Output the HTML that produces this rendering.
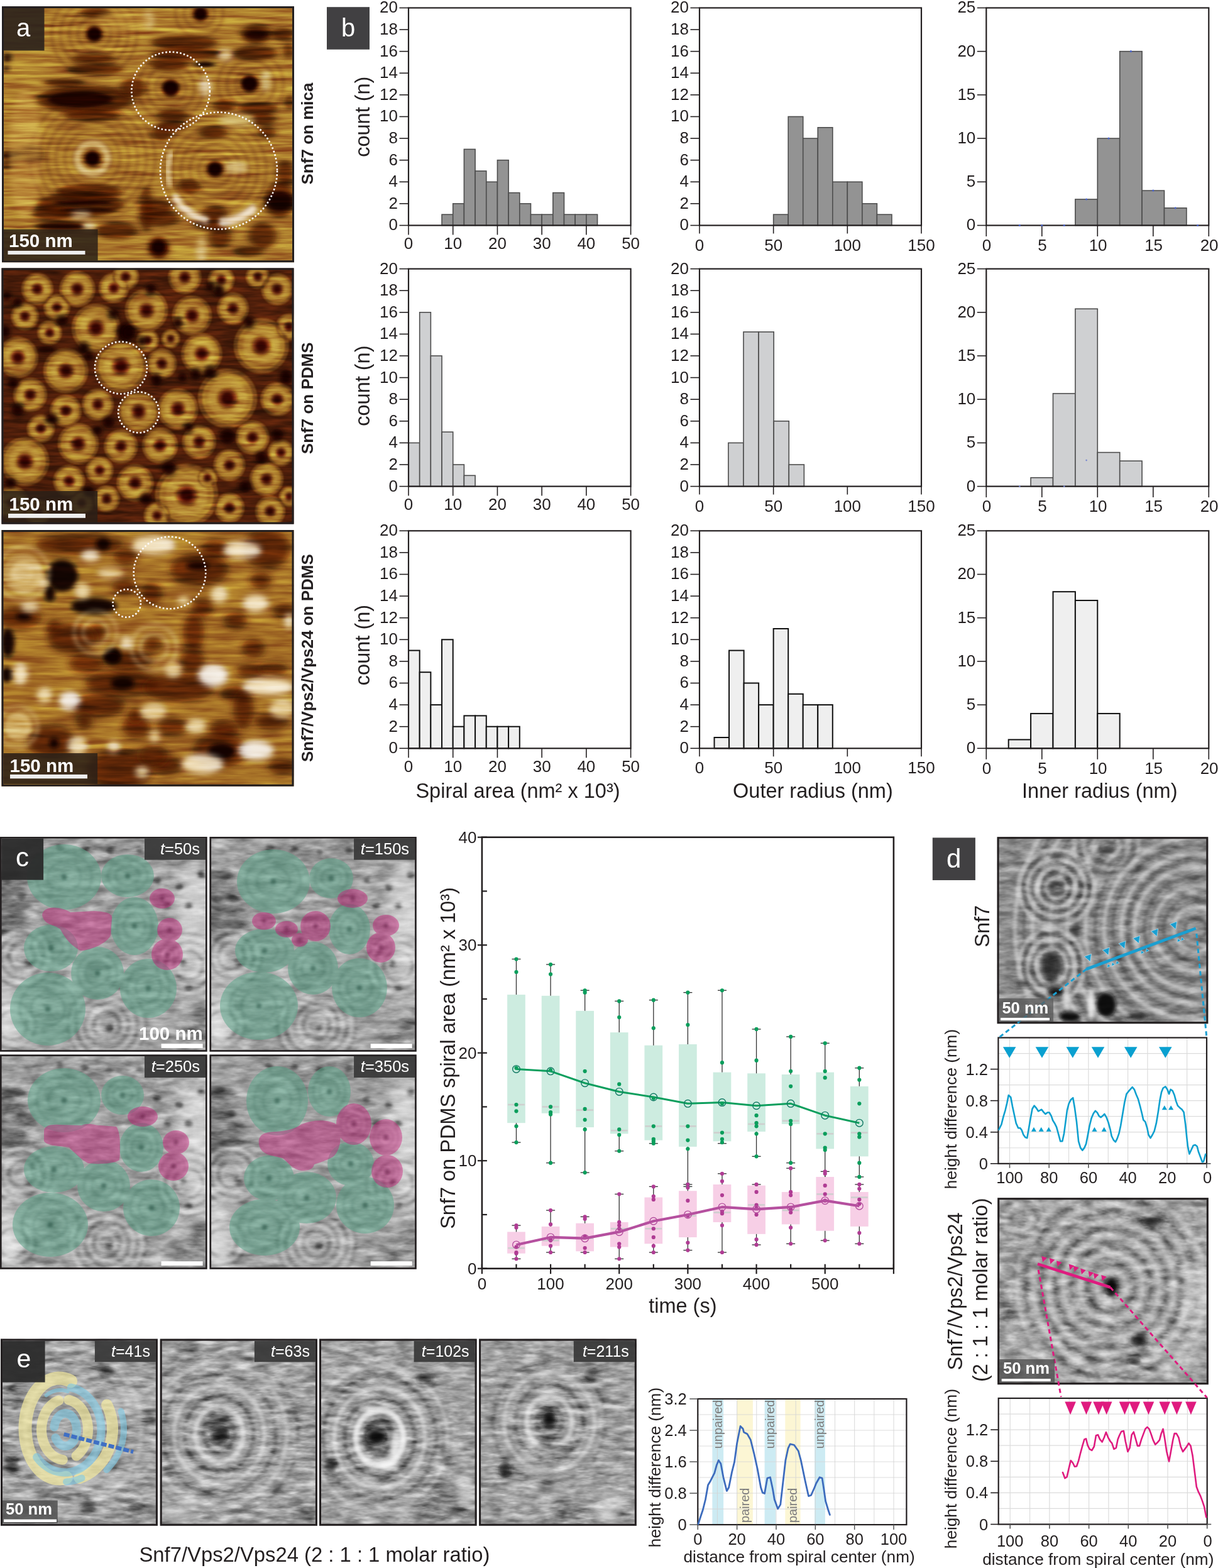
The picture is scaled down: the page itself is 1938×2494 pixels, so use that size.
<!DOCTYPE html>
<html><head><meta charset="utf-8"><title>Figure</title>
<style>html,body{margin:0;padding:0;background:#fff;} svg{display:block;} text{font-family:'Liberation Sans',Arial,sans-serif;}</style>
</head><body>
<svg width="1938" height="2494" viewBox="0 0 1938 2494">
<defs>
<clipPath id='clp1'><rect x='3.00' y='10.00' width='465.00' height='407.20'/></clipPath>
<filter id='b0' x='-60%' y='-60%' width='220%' height='220%'><feGaussianBlur stdDeviation='2.5'/></filter>
<filter id='b1' x='-60%' y='-60%' width='220%' height='220%'><feGaussianBlur stdDeviation='6 2.5'/></filter>
<filter id='b2' x='-60%' y='-60%' width='220%' height='220%'><feGaussianBlur stdDeviation='4 2'/></filter>
<filter id='b3' x='-60%' y='-60%' width='220%' height='220%'><feGaussianBlur stdDeviation='4'/></filter>
<filter id='b4' x='-60%' y='-60%' width='220%' height='220%'><feGaussianBlur stdDeviation='3'/></filter>
<filter id='b5' x='-60%' y='-60%' width='220%' height='220%'><feGaussianBlur stdDeviation='3.2'/></filter>
<filter id='b6' x='-60%' y='-60%' width='220%' height='220%'><feGaussianBlur stdDeviation='2.2'/></filter>
<filter id='nz0' x='0' y='0' width='100%' height='100%' color-interpolation-filters='sRGB'><feTurbulence type='fractalNoise' baseFrequency='0.012 0.16' numOctaves='3' seed='31'/><feColorMatrix type='matrix' values='0.33 0.33 0.33 0 0 0.33 0.33 0.33 0 0 0.33 0.33 0.33 0 0 0 0 0 0 1'/><feComponentTransfer><feFuncR type='linear' slope='2.4' intercept='-0.7'/><feFuncG type='linear' slope='2.4' intercept='-0.7'/><feFuncB type='linear' slope='2.4' intercept='-0.7'/></feComponentTransfer></filter>
<clipPath id='clp2'><rect x='2.50' y='426.40' width='465.00' height='407.20'/></clipPath>
<filter id='b7' x='-60%' y='-60%' width='220%' height='220%'><feGaussianBlur stdDeviation='1.8'/></filter>
<filter id='b8' x='-60%' y='-60%' width='220%' height='220%'><feGaussianBlur stdDeviation='2.0'/></filter>
<filter id='b9' x='-60%' y='-60%' width='220%' height='220%'><feGaussianBlur stdDeviation='1.6'/></filter>
<filter id='b10' x='-60%' y='-60%' width='220%' height='220%'><feGaussianBlur stdDeviation='2.4'/></filter>
<filter id='b11' x='-60%' y='-60%' width='220%' height='220%'><feGaussianBlur stdDeviation='3.5'/></filter>
<filter id='nz1' x='0' y='0' width='100%' height='100%' color-interpolation-filters='sRGB'><feTurbulence type='fractalNoise' baseFrequency='0.02 0.15' numOctaves='3' seed='37'/><feColorMatrix type='matrix' values='0.33 0.33 0.33 0 0 0.33 0.33 0.33 0 0 0.33 0.33 0.33 0 0 0 0 0 0 1'/><feComponentTransfer><feFuncR type='linear' slope='2.4' intercept='-0.7'/><feFuncG type='linear' slope='2.4' intercept='-0.7'/><feFuncB type='linear' slope='2.4' intercept='-0.7'/></feComponentTransfer></filter>
<clipPath id='clp3'><rect x='2.50' y='843.00' width='465.00' height='407.70'/></clipPath>
<filter id='b12' x='-60%' y='-60%' width='220%' height='220%'><feGaussianBlur stdDeviation='6'/></filter>
<filter id='b13' x='-60%' y='-60%' width='220%' height='220%'><feGaussianBlur stdDeviation='5'/></filter>
<filter id='nz2' x='0' y='0' width='100%' height='100%' color-interpolation-filters='sRGB'><feTurbulence type='fractalNoise' baseFrequency='0.012 0.12' numOctaves='3' seed='41'/><feColorMatrix type='matrix' values='0.33 0.33 0.33 0 0 0.33 0.33 0.33 0 0 0.33 0.33 0.33 0 0 0 0 0 0 1'/><feComponentTransfer><feFuncR type='linear' slope='2.2' intercept='-0.6000000000000001'/><feFuncG type='linear' slope='2.2' intercept='-0.6000000000000001'/><feFuncB type='linear' slope='2.2' intercept='-0.6000000000000001'/></feComponentTransfer></filter>
<clipPath id='clp4'><rect x='0.00' y='1331.00' width='329.60' height='341.70'/></clipPath>
<filter id='b14' x='-60%' y='-60%' width='220%' height='220%'><feGaussianBlur stdDeviation='10'/></filter>
<filter id='b15' x='-60%' y='-60%' width='220%' height='220%'><feGaussianBlur stdDeviation='6 2'/></filter>
<filter id='b16' x='-60%' y='-60%' width='220%' height='220%'><feGaussianBlur stdDeviation='12'/></filter>
<filter id='b17' x='-60%' y='-60%' width='220%' height='220%'><feGaussianBlur stdDeviation='8'/></filter>
<filter id='nz3' x='0' y='0' width='100%' height='100%' color-interpolation-filters='sRGB'><feTurbulence type='fractalNoise' baseFrequency='0.03 0.09' numOctaves='3' seed='90'/><feColorMatrix type='matrix' values='0.33 0.33 0.33 0 0 0.33 0.33 0.33 0 0 0.33 0.33 0.33 0 0 0 0 0 0 1'/><feComponentTransfer><feFuncR type='linear' slope='2.4' intercept='-0.7'/><feFuncG type='linear' slope='2.4' intercept='-0.7'/><feFuncB type='linear' slope='2.4' intercept='-0.7'/></feComponentTransfer></filter>
<clipPath id='clp5'><rect x='333.50' y='1331.00' width='329.20' height='341.70'/></clipPath>
<filter id='nz4' x='0' y='0' width='100%' height='100%' color-interpolation-filters='sRGB'><feTurbulence type='fractalNoise' baseFrequency='0.03 0.09' numOctaves='3' seed='67'/><feColorMatrix type='matrix' values='0.33 0.33 0.33 0 0 0.33 0.33 0.33 0 0 0.33 0.33 0.33 0 0 0 0 0 0 1'/><feComponentTransfer><feFuncR type='linear' slope='2.4' intercept='-0.7'/><feFuncG type='linear' slope='2.4' intercept='-0.7'/><feFuncB type='linear' slope='2.4' intercept='-0.7'/></feComponentTransfer></filter>
<clipPath id='clp6'><rect x='0.00' y='1677.40' width='329.60' height='341.30'/></clipPath>
<filter id='nz5' x='0' y='0' width='100%' height='100%' color-interpolation-filters='sRGB'><feTurbulence type='fractalNoise' baseFrequency='0.03 0.09' numOctaves='3' seed='80'/><feColorMatrix type='matrix' values='0.33 0.33 0.33 0 0 0.33 0.33 0.33 0 0 0.33 0.33 0.33 0 0 0 0 0 0 1'/><feComponentTransfer><feFuncR type='linear' slope='2.4' intercept='-0.7'/><feFuncG type='linear' slope='2.4' intercept='-0.7'/><feFuncB type='linear' slope='2.4' intercept='-0.7'/></feComponentTransfer></filter>
<clipPath id='clp7'><rect x='333.50' y='1677.40' width='329.20' height='341.30'/></clipPath>
<filter id='nz6' x='0' y='0' width='100%' height='100%' color-interpolation-filters='sRGB'><feTurbulence type='fractalNoise' baseFrequency='0.03 0.09' numOctaves='3' seed='57'/><feColorMatrix type='matrix' values='0.33 0.33 0.33 0 0 0.33 0.33 0.33 0 0 0.33 0.33 0.33 0 0 0 0 0 0 1'/><feComponentTransfer><feFuncR type='linear' slope='2.4' intercept='-0.7'/><feFuncG type='linear' slope='2.4' intercept='-0.7'/><feFuncB type='linear' slope='2.4' intercept='-0.7'/></feComponentTransfer></filter>
<clipPath id='clp8'><rect x='1586.60' y='1331.20' width='335.70' height='297.00'/></clipPath>
<filter id='nz7' x='0' y='0' width='100%' height='100%' color-interpolation-filters='sRGB'><feTurbulence type='fractalNoise' baseFrequency='0.035 0.1' numOctaves='3' seed='11'/><feColorMatrix type='matrix' values='0.33 0.33 0.33 0 0 0.33 0.33 0.33 0 0 0.33 0.33 0.33 0 0 0 0 0 0 1'/><feComponentTransfer><feFuncR type='linear' slope='2.4' intercept='-0.7'/><feFuncG type='linear' slope='2.4' intercept='-0.7'/><feFuncB type='linear' slope='2.4' intercept='-0.7'/></feComponentTransfer></filter>
<clipPath id='clp9'><rect x='1587.20' y='1905.20' width='335.60' height='297.00'/></clipPath>
<filter id='nz8' x='0' y='0' width='100%' height='100%' color-interpolation-filters='sRGB'><feTurbulence type='fractalNoise' baseFrequency='0.04 0.1' numOctaves='3' seed='23'/><feColorMatrix type='matrix' values='0.33 0.33 0.33 0 0 0.33 0.33 0.33 0 0 0.33 0.33 0.33 0 0 0 0 0 0 1'/><feComponentTransfer><feFuncR type='linear' slope='2.6' intercept='-0.8'/><feFuncG type='linear' slope='2.6' intercept='-0.8'/><feFuncB type='linear' slope='2.6' intercept='-0.8'/></feComponentTransfer></filter>
<clipPath id='clp10'><rect x='1.00' y='2129.60' width='249.90' height='297.20'/></clipPath>
<filter id='nz9' x='0' y='0' width='100%' height='100%' color-interpolation-filters='sRGB'><feTurbulence type='fractalNoise' baseFrequency='0.035 0.12' numOctaves='3' seed='4'/><feColorMatrix type='matrix' values='0.33 0.33 0.33 0 0 0.33 0.33 0.33 0 0 0.33 0.33 0.33 0 0 0 0 0 0 1'/><feComponentTransfer><feFuncR type='linear' slope='2.6' intercept='-0.8'/><feFuncG type='linear' slope='2.6' intercept='-0.8'/><feFuncB type='linear' slope='2.6' intercept='-0.8'/></feComponentTransfer></filter>
<clipPath id='clp11'><rect x='254.70' y='2129.60' width='250.20' height='297.20'/></clipPath>
<filter id='nz10' x='0' y='0' width='100%' height='100%' color-interpolation-filters='sRGB'><feTurbulence type='fractalNoise' baseFrequency='0.035 0.12' numOctaves='3' seed='63'/><feColorMatrix type='matrix' values='0.33 0.33 0.33 0 0 0.33 0.33 0.33 0 0 0.33 0.33 0.33 0 0 0 0 0 0 1'/><feComponentTransfer><feFuncR type='linear' slope='2.6' intercept='-0.8'/><feFuncG type='linear' slope='2.6' intercept='-0.8'/><feFuncB type='linear' slope='2.6' intercept='-0.8'/></feComponentTransfer></filter>
<clipPath id='clp12'><rect x='508.00' y='2129.60' width='250.60' height='297.20'/></clipPath>
<filter id='nz11' x='0' y='0' width='100%' height='100%' color-interpolation-filters='sRGB'><feTurbulence type='fractalNoise' baseFrequency='0.035 0.12' numOctaves='3' seed='26'/><feColorMatrix type='matrix' values='0.33 0.33 0.33 0 0 0.33 0.33 0.33 0 0 0.33 0.33 0.33 0 0 0 0 0 0 1'/><feComponentTransfer><feFuncR type='linear' slope='2.6' intercept='-0.8'/><feFuncG type='linear' slope='2.6' intercept='-0.8'/><feFuncB type='linear' slope='2.6' intercept='-0.8'/></feComponentTransfer></filter>
<clipPath id='clp13'><rect x='762.10' y='2129.60' width='250.70' height='297.20'/></clipPath>
<filter id='nz12' x='0' y='0' width='100%' height='100%' color-interpolation-filters='sRGB'><feTurbulence type='fractalNoise' baseFrequency='0.035 0.12' numOctaves='3' seed='86'/><feColorMatrix type='matrix' values='0.33 0.33 0.33 0 0 0.33 0.33 0.33 0 0 0.33 0.33 0.33 0 0 0 0 0 0 1'/><feComponentTransfer><feFuncR type='linear' slope='2.6' intercept='-0.8'/><feFuncG type='linear' slope='2.6' intercept='-0.8'/><feFuncB type='linear' slope='2.6' intercept='-0.8'/></feComponentTransfer></filter>
</defs>
<rect x="0" y="0" width="1938" height="2494" fill="#ffffff"/>
<rect x='703.04' y='341.20' width='17.68' height='17.30' fill='#939393' stroke='#4d4d4d' stroke-width='1.6'/>
<rect x='720.72' y='323.90' width='17.68' height='34.60' fill='#939393' stroke='#4d4d4d' stroke-width='1.6'/>
<rect x='738.40' y='237.40' width='17.68' height='121.10' fill='#939393' stroke='#4d4d4d' stroke-width='1.6'/>
<rect x='756.08' y='272.00' width='17.68' height='86.50' fill='#939393' stroke='#4d4d4d' stroke-width='1.6'/>
<rect x='773.76' y='289.30' width='17.68' height='69.20' fill='#939393' stroke='#4d4d4d' stroke-width='1.6'/>
<rect x='791.44' y='254.70' width='17.68' height='103.80' fill='#939393' stroke='#4d4d4d' stroke-width='1.6'/>
<rect x='809.12' y='306.60' width='17.68' height='51.90' fill='#939393' stroke='#4d4d4d' stroke-width='1.6'/>
<rect x='826.80' y='323.90' width='17.68' height='34.60' fill='#939393' stroke='#4d4d4d' stroke-width='1.6'/>
<rect x='844.48' y='341.20' width='17.68' height='17.30' fill='#939393' stroke='#4d4d4d' stroke-width='1.6'/>
<rect x='862.16' y='341.20' width='17.68' height='17.30' fill='#939393' stroke='#4d4d4d' stroke-width='1.6'/>
<rect x='879.84' y='306.60' width='17.68' height='51.90' fill='#939393' stroke='#4d4d4d' stroke-width='1.6'/>
<rect x='897.52' y='341.20' width='17.68' height='17.30' fill='#939393' stroke='#4d4d4d' stroke-width='1.6'/>
<rect x='915.20' y='341.20' width='17.68' height='17.30' fill='#939393' stroke='#4d4d4d' stroke-width='1.6'/>
<rect x='932.88' y='341.20' width='17.68' height='17.30' fill='#939393' stroke='#4d4d4d' stroke-width='1.6'/>
<rect x='650.00' y='12.50' width='353.60' height='346.00' fill='none' stroke='#231f20' stroke-width='2.2'/>
<line x1='635.50' y1='358.50' x2='650.00' y2='358.50' stroke='#231f20' stroke-width='1.6'/>
<text x='633.00' y='366.40' font-size='26' text-anchor='end' font-weight='normal' font-style='normal' fill='#231f20'>0</text>
<line x1='635.50' y1='323.90' x2='650.00' y2='323.90' stroke='#231f20' stroke-width='1.6'/>
<text x='633.00' y='331.80' font-size='26' text-anchor='end' font-weight='normal' font-style='normal' fill='#231f20'>2</text>
<line x1='635.50' y1='289.30' x2='650.00' y2='289.30' stroke='#231f20' stroke-width='1.6'/>
<text x='633.00' y='297.20' font-size='26' text-anchor='end' font-weight='normal' font-style='normal' fill='#231f20'>4</text>
<line x1='635.50' y1='254.70' x2='650.00' y2='254.70' stroke='#231f20' stroke-width='1.6'/>
<text x='633.00' y='262.60' font-size='26' text-anchor='end' font-weight='normal' font-style='normal' fill='#231f20'>6</text>
<line x1='635.50' y1='220.10' x2='650.00' y2='220.10' stroke='#231f20' stroke-width='1.6'/>
<text x='633.00' y='228.00' font-size='26' text-anchor='end' font-weight='normal' font-style='normal' fill='#231f20'>8</text>
<line x1='635.50' y1='185.50' x2='650.00' y2='185.50' stroke='#231f20' stroke-width='1.6'/>
<text x='633.00' y='193.40' font-size='26' text-anchor='end' font-weight='normal' font-style='normal' fill='#231f20'>10</text>
<line x1='635.50' y1='150.90' x2='650.00' y2='150.90' stroke='#231f20' stroke-width='1.6'/>
<text x='633.00' y='158.80' font-size='26' text-anchor='end' font-weight='normal' font-style='normal' fill='#231f20'>12</text>
<line x1='635.50' y1='116.30' x2='650.00' y2='116.30' stroke='#231f20' stroke-width='1.6'/>
<text x='633.00' y='124.20' font-size='26' text-anchor='end' font-weight='normal' font-style='normal' fill='#231f20'>14</text>
<line x1='635.50' y1='81.70' x2='650.00' y2='81.70' stroke='#231f20' stroke-width='1.6'/>
<text x='633.00' y='89.60' font-size='26' text-anchor='end' font-weight='normal' font-style='normal' fill='#231f20'>16</text>
<line x1='635.50' y1='47.10' x2='650.00' y2='47.10' stroke='#231f20' stroke-width='1.6'/>
<text x='633.00' y='55.00' font-size='26' text-anchor='end' font-weight='normal' font-style='normal' fill='#231f20'>18</text>
<line x1='635.50' y1='12.50' x2='650.00' y2='12.50' stroke='#231f20' stroke-width='1.6'/>
<text x='633.00' y='20.40' font-size='26' text-anchor='end' font-weight='normal' font-style='normal' fill='#231f20'>20</text>
<line x1='650.00' y1='358.50' x2='650.00' y2='373.50' stroke='#231f20' stroke-width='1.6'/>
<text x='650.00' y='395.80' font-size='26' text-anchor='middle' font-weight='normal' font-style='normal' fill='#231f20'>0</text>
<line x1='720.72' y1='358.50' x2='720.72' y2='373.50' stroke='#231f20' stroke-width='1.6'/>
<text x='720.72' y='395.80' font-size='26' text-anchor='middle' font-weight='normal' font-style='normal' fill='#231f20'>10</text>
<line x1='791.44' y1='358.50' x2='791.44' y2='373.50' stroke='#231f20' stroke-width='1.6'/>
<text x='791.44' y='395.80' font-size='26' text-anchor='middle' font-weight='normal' font-style='normal' fill='#231f20'>20</text>
<line x1='862.16' y1='358.50' x2='862.16' y2='373.50' stroke='#231f20' stroke-width='1.6'/>
<text x='862.16' y='395.80' font-size='26' text-anchor='middle' font-weight='normal' font-style='normal' fill='#231f20'>30</text>
<line x1='932.88' y1='358.50' x2='932.88' y2='373.50' stroke='#231f20' stroke-width='1.6'/>
<text x='932.88' y='395.80' font-size='26' text-anchor='middle' font-weight='normal' font-style='normal' fill='#231f20'>40</text>
<line x1='1003.60' y1='358.50' x2='1003.60' y2='373.50' stroke='#231f20' stroke-width='1.6'/>
<text x='1003.60' y='395.80' font-size='26' text-anchor='middle' font-weight='normal' font-style='normal' fill='#231f20'>50</text>
<rect x='1230.67' y='341.20' width='23.53' height='17.30' fill='#939393' stroke='#4d4d4d' stroke-width='1.6'/>
<rect x='1254.20' y='185.50' width='23.53' height='173.00' fill='#939393' stroke='#4d4d4d' stroke-width='1.6'/>
<rect x='1277.73' y='220.10' width='23.53' height='138.40' fill='#939393' stroke='#4d4d4d' stroke-width='1.6'/>
<rect x='1301.27' y='202.80' width='23.53' height='155.70' fill='#939393' stroke='#4d4d4d' stroke-width='1.6'/>
<rect x='1324.80' y='289.30' width='23.53' height='69.20' fill='#939393' stroke='#4d4d4d' stroke-width='1.6'/>
<rect x='1348.33' y='289.30' width='23.53' height='69.20' fill='#939393' stroke='#4d4d4d' stroke-width='1.6'/>
<rect x='1371.87' y='323.90' width='23.53' height='34.60' fill='#939393' stroke='#4d4d4d' stroke-width='1.6'/>
<rect x='1395.40' y='341.20' width='23.53' height='17.30' fill='#939393' stroke='#4d4d4d' stroke-width='1.6'/>
<rect x='1113.00' y='12.50' width='353.00' height='346.00' fill='none' stroke='#231f20' stroke-width='2.2'/>
<line x1='1098.50' y1='358.50' x2='1113.00' y2='358.50' stroke='#231f20' stroke-width='1.6'/>
<text x='1096.00' y='366.40' font-size='26' text-anchor='end' font-weight='normal' font-style='normal' fill='#231f20'>0</text>
<line x1='1098.50' y1='323.90' x2='1113.00' y2='323.90' stroke='#231f20' stroke-width='1.6'/>
<text x='1096.00' y='331.80' font-size='26' text-anchor='end' font-weight='normal' font-style='normal' fill='#231f20'>2</text>
<line x1='1098.50' y1='289.30' x2='1113.00' y2='289.30' stroke='#231f20' stroke-width='1.6'/>
<text x='1096.00' y='297.20' font-size='26' text-anchor='end' font-weight='normal' font-style='normal' fill='#231f20'>4</text>
<line x1='1098.50' y1='254.70' x2='1113.00' y2='254.70' stroke='#231f20' stroke-width='1.6'/>
<text x='1096.00' y='262.60' font-size='26' text-anchor='end' font-weight='normal' font-style='normal' fill='#231f20'>6</text>
<line x1='1098.50' y1='220.10' x2='1113.00' y2='220.10' stroke='#231f20' stroke-width='1.6'/>
<text x='1096.00' y='228.00' font-size='26' text-anchor='end' font-weight='normal' font-style='normal' fill='#231f20'>8</text>
<line x1='1098.50' y1='185.50' x2='1113.00' y2='185.50' stroke='#231f20' stroke-width='1.6'/>
<text x='1096.00' y='193.40' font-size='26' text-anchor='end' font-weight='normal' font-style='normal' fill='#231f20'>10</text>
<line x1='1098.50' y1='150.90' x2='1113.00' y2='150.90' stroke='#231f20' stroke-width='1.6'/>
<text x='1096.00' y='158.80' font-size='26' text-anchor='end' font-weight='normal' font-style='normal' fill='#231f20'>12</text>
<line x1='1098.50' y1='116.30' x2='1113.00' y2='116.30' stroke='#231f20' stroke-width='1.6'/>
<text x='1096.00' y='124.20' font-size='26' text-anchor='end' font-weight='normal' font-style='normal' fill='#231f20'>14</text>
<line x1='1098.50' y1='81.70' x2='1113.00' y2='81.70' stroke='#231f20' stroke-width='1.6'/>
<text x='1096.00' y='89.60' font-size='26' text-anchor='end' font-weight='normal' font-style='normal' fill='#231f20'>16</text>
<line x1='1098.50' y1='47.10' x2='1113.00' y2='47.10' stroke='#231f20' stroke-width='1.6'/>
<text x='1096.00' y='55.00' font-size='26' text-anchor='end' font-weight='normal' font-style='normal' fill='#231f20'>18</text>
<line x1='1098.50' y1='12.50' x2='1113.00' y2='12.50' stroke='#231f20' stroke-width='1.6'/>
<text x='1096.00' y='20.40' font-size='26' text-anchor='end' font-weight='normal' font-style='normal' fill='#231f20'>20</text>
<line x1='1113.00' y1='358.50' x2='1113.00' y2='371.50' stroke='#231f20' stroke-width='1.6'/>
<text x='1113.00' y='398.50' font-size='26' text-anchor='middle' font-weight='normal' font-style='normal' fill='#231f20'>0</text>
<line x1='1230.67' y1='358.50' x2='1230.67' y2='371.50' stroke='#231f20' stroke-width='1.6'/>
<text x='1230.67' y='398.50' font-size='26' text-anchor='middle' font-weight='normal' font-style='normal' fill='#231f20'>50</text>
<line x1='1348.33' y1='358.50' x2='1348.33' y2='371.50' stroke='#231f20' stroke-width='1.6'/>
<text x='1348.33' y='398.50' font-size='26' text-anchor='middle' font-weight='normal' font-style='normal' fill='#231f20'>100</text>
<line x1='1466.00' y1='358.50' x2='1466.00' y2='371.50' stroke='#231f20' stroke-width='1.6'/>
<text x='1466.00' y='398.50' font-size='26' text-anchor='middle' font-weight='normal' font-style='normal' fill='#231f20'>150</text>
<rect x='1710.90' y='316.98' width='35.40' height='41.52' fill='#939393' stroke='#4d4d4d' stroke-width='1.6'/>
<rect x='1746.30' y='220.10' width='35.40' height='138.40' fill='#939393' stroke='#4d4d4d' stroke-width='1.6'/>
<rect x='1781.70' y='81.70' width='35.40' height='276.80' fill='#939393' stroke='#4d4d4d' stroke-width='1.6'/>
<rect x='1817.10' y='303.14' width='35.40' height='55.36' fill='#939393' stroke='#4d4d4d' stroke-width='1.6'/>
<rect x='1852.50' y='330.82' width='35.40' height='27.68' fill='#939393' stroke='#4d4d4d' stroke-width='1.6'/>
<rect x='1569.30' y='12.50' width='354.00' height='346.00' fill='none' stroke='#231f20' stroke-width='2.2'/>
<line x1='1554.80' y1='358.50' x2='1569.30' y2='358.50' stroke='#231f20' stroke-width='1.6'/>
<text x='1552.30' y='366.40' font-size='26' text-anchor='end' font-weight='normal' font-style='normal' fill='#231f20'>0</text>
<line x1='1554.80' y1='289.30' x2='1569.30' y2='289.30' stroke='#231f20' stroke-width='1.6'/>
<text x='1552.30' y='297.20' font-size='26' text-anchor='end' font-weight='normal' font-style='normal' fill='#231f20'>5</text>
<line x1='1554.80' y1='220.10' x2='1569.30' y2='220.10' stroke='#231f20' stroke-width='1.6'/>
<text x='1552.30' y='228.00' font-size='26' text-anchor='end' font-weight='normal' font-style='normal' fill='#231f20'>10</text>
<line x1='1554.80' y1='150.90' x2='1569.30' y2='150.90' stroke='#231f20' stroke-width='1.6'/>
<text x='1552.30' y='158.80' font-size='26' text-anchor='end' font-weight='normal' font-style='normal' fill='#231f20'>15</text>
<line x1='1554.80' y1='81.70' x2='1569.30' y2='81.70' stroke='#231f20' stroke-width='1.6'/>
<text x='1552.30' y='89.60' font-size='26' text-anchor='end' font-weight='normal' font-style='normal' fill='#231f20'>20</text>
<line x1='1554.80' y1='12.50' x2='1569.30' y2='12.50' stroke='#231f20' stroke-width='1.6'/>
<text x='1552.30' y='20.40' font-size='26' text-anchor='end' font-weight='normal' font-style='normal' fill='#231f20'>25</text>
<line x1='1569.30' y1='358.50' x2='1569.30' y2='376.00' stroke='#231f20' stroke-width='1.6'/>
<text x='1570.10' y='398.70' font-size='26' text-anchor='middle' font-weight='normal' font-style='normal' fill='#231f20'>0</text>
<line x1='1657.80' y1='358.50' x2='1657.80' y2='376.00' stroke='#231f20' stroke-width='1.6'/>
<text x='1658.60' y='398.70' font-size='26' text-anchor='middle' font-weight='normal' font-style='normal' fill='#231f20'>5</text>
<line x1='1746.30' y1='358.50' x2='1746.30' y2='376.00' stroke='#231f20' stroke-width='1.6'/>
<text x='1747.10' y='398.70' font-size='26' text-anchor='middle' font-weight='normal' font-style='normal' fill='#231f20'>10</text>
<line x1='1834.80' y1='358.50' x2='1834.80' y2='376.00' stroke='#231f20' stroke-width='1.6'/>
<text x='1835.60' y='398.70' font-size='26' text-anchor='middle' font-weight='normal' font-style='normal' fill='#231f20'>15</text>
<line x1='1923.30' y1='358.50' x2='1923.30' y2='376.00' stroke='#231f20' stroke-width='1.6'/>
<text x='1924.10' y='398.70' font-size='26' text-anchor='middle' font-weight='normal' font-style='normal' fill='#231f20'>20</text>
<rect x='650.00' y='704.40' width='17.68' height='69.20' fill='#cfd0d2' stroke='#4d4d4d' stroke-width='1.6'/>
<rect x='667.68' y='496.80' width='17.68' height='276.80' fill='#cfd0d2' stroke='#4d4d4d' stroke-width='1.6'/>
<rect x='685.36' y='566.00' width='17.68' height='207.60' fill='#cfd0d2' stroke='#4d4d4d' stroke-width='1.6'/>
<rect x='703.04' y='687.10' width='17.68' height='86.50' fill='#cfd0d2' stroke='#4d4d4d' stroke-width='1.6'/>
<rect x='720.72' y='739.00' width='17.68' height='34.60' fill='#cfd0d2' stroke='#4d4d4d' stroke-width='1.6'/>
<rect x='738.40' y='756.30' width='17.68' height='17.30' fill='#cfd0d2' stroke='#4d4d4d' stroke-width='1.6'/>
<rect x='650.00' y='427.60' width='353.60' height='346.00' fill='none' stroke='#231f20' stroke-width='2.2'/>
<line x1='635.50' y1='773.60' x2='650.00' y2='773.60' stroke='#231f20' stroke-width='1.6'/>
<text x='633.00' y='781.50' font-size='26' text-anchor='end' font-weight='normal' font-style='normal' fill='#231f20'>0</text>
<line x1='635.50' y1='739.00' x2='650.00' y2='739.00' stroke='#231f20' stroke-width='1.6'/>
<text x='633.00' y='746.90' font-size='26' text-anchor='end' font-weight='normal' font-style='normal' fill='#231f20'>2</text>
<line x1='635.50' y1='704.40' x2='650.00' y2='704.40' stroke='#231f20' stroke-width='1.6'/>
<text x='633.00' y='712.30' font-size='26' text-anchor='end' font-weight='normal' font-style='normal' fill='#231f20'>4</text>
<line x1='635.50' y1='669.80' x2='650.00' y2='669.80' stroke='#231f20' stroke-width='1.6'/>
<text x='633.00' y='677.70' font-size='26' text-anchor='end' font-weight='normal' font-style='normal' fill='#231f20'>6</text>
<line x1='635.50' y1='635.20' x2='650.00' y2='635.20' stroke='#231f20' stroke-width='1.6'/>
<text x='633.00' y='643.10' font-size='26' text-anchor='end' font-weight='normal' font-style='normal' fill='#231f20'>8</text>
<line x1='635.50' y1='600.60' x2='650.00' y2='600.60' stroke='#231f20' stroke-width='1.6'/>
<text x='633.00' y='608.50' font-size='26' text-anchor='end' font-weight='normal' font-style='normal' fill='#231f20'>10</text>
<line x1='635.50' y1='566.00' x2='650.00' y2='566.00' stroke='#231f20' stroke-width='1.6'/>
<text x='633.00' y='573.90' font-size='26' text-anchor='end' font-weight='normal' font-style='normal' fill='#231f20'>12</text>
<line x1='635.50' y1='531.40' x2='650.00' y2='531.40' stroke='#231f20' stroke-width='1.6'/>
<text x='633.00' y='539.30' font-size='26' text-anchor='end' font-weight='normal' font-style='normal' fill='#231f20'>14</text>
<line x1='635.50' y1='496.80' x2='650.00' y2='496.80' stroke='#231f20' stroke-width='1.6'/>
<text x='633.00' y='504.70' font-size='26' text-anchor='end' font-weight='normal' font-style='normal' fill='#231f20'>16</text>
<line x1='635.50' y1='462.20' x2='650.00' y2='462.20' stroke='#231f20' stroke-width='1.6'/>
<text x='633.00' y='470.10' font-size='26' text-anchor='end' font-weight='normal' font-style='normal' fill='#231f20'>18</text>
<line x1='635.50' y1='427.60' x2='650.00' y2='427.60' stroke='#231f20' stroke-width='1.6'/>
<text x='633.00' y='435.50' font-size='26' text-anchor='end' font-weight='normal' font-style='normal' fill='#231f20'>20</text>
<line x1='650.00' y1='773.60' x2='650.00' y2='788.60' stroke='#231f20' stroke-width='1.6'/>
<text x='650.00' y='810.90' font-size='26' text-anchor='middle' font-weight='normal' font-style='normal' fill='#231f20'>0</text>
<line x1='720.72' y1='773.60' x2='720.72' y2='788.60' stroke='#231f20' stroke-width='1.6'/>
<text x='720.72' y='810.90' font-size='26' text-anchor='middle' font-weight='normal' font-style='normal' fill='#231f20'>10</text>
<line x1='791.44' y1='773.60' x2='791.44' y2='788.60' stroke='#231f20' stroke-width='1.6'/>
<text x='791.44' y='810.90' font-size='26' text-anchor='middle' font-weight='normal' font-style='normal' fill='#231f20'>20</text>
<line x1='862.16' y1='773.60' x2='862.16' y2='788.60' stroke='#231f20' stroke-width='1.6'/>
<text x='862.16' y='810.90' font-size='26' text-anchor='middle' font-weight='normal' font-style='normal' fill='#231f20'>30</text>
<line x1='932.88' y1='773.60' x2='932.88' y2='788.60' stroke='#231f20' stroke-width='1.6'/>
<text x='932.88' y='810.90' font-size='26' text-anchor='middle' font-weight='normal' font-style='normal' fill='#231f20'>40</text>
<line x1='1003.60' y1='773.60' x2='1003.60' y2='788.60' stroke='#231f20' stroke-width='1.6'/>
<text x='1003.60' y='810.90' font-size='26' text-anchor='middle' font-weight='normal' font-style='normal' fill='#231f20'>50</text>
<rect x='1158.89' y='704.40' width='24.10' height='69.20' fill='#cfd0d2' stroke='#4d4d4d' stroke-width='1.6'/>
<rect x='1182.99' y='527.94' width='24.10' height='245.66' fill='#cfd0d2' stroke='#4d4d4d' stroke-width='1.6'/>
<rect x='1207.09' y='527.94' width='24.10' height='245.66' fill='#cfd0d2' stroke='#4d4d4d' stroke-width='1.6'/>
<rect x='1231.18' y='669.80' width='24.10' height='103.80' fill='#cfd0d2' stroke='#4d4d4d' stroke-width='1.6'/>
<rect x='1255.28' y='739.00' width='24.10' height='34.60' fill='#cfd0d2' stroke='#4d4d4d' stroke-width='1.6'/>
<rect x='1113.00' y='427.60' width='353.00' height='346.00' fill='none' stroke='#231f20' stroke-width='2.2'/>
<line x1='1098.50' y1='773.60' x2='1113.00' y2='773.60' stroke='#231f20' stroke-width='1.6'/>
<text x='1096.00' y='781.50' font-size='26' text-anchor='end' font-weight='normal' font-style='normal' fill='#231f20'>0</text>
<line x1='1098.50' y1='739.00' x2='1113.00' y2='739.00' stroke='#231f20' stroke-width='1.6'/>
<text x='1096.00' y='746.90' font-size='26' text-anchor='end' font-weight='normal' font-style='normal' fill='#231f20'>2</text>
<line x1='1098.50' y1='704.40' x2='1113.00' y2='704.40' stroke='#231f20' stroke-width='1.6'/>
<text x='1096.00' y='712.30' font-size='26' text-anchor='end' font-weight='normal' font-style='normal' fill='#231f20'>4</text>
<line x1='1098.50' y1='669.80' x2='1113.00' y2='669.80' stroke='#231f20' stroke-width='1.6'/>
<text x='1096.00' y='677.70' font-size='26' text-anchor='end' font-weight='normal' font-style='normal' fill='#231f20'>6</text>
<line x1='1098.50' y1='635.20' x2='1113.00' y2='635.20' stroke='#231f20' stroke-width='1.6'/>
<text x='1096.00' y='643.10' font-size='26' text-anchor='end' font-weight='normal' font-style='normal' fill='#231f20'>8</text>
<line x1='1098.50' y1='600.60' x2='1113.00' y2='600.60' stroke='#231f20' stroke-width='1.6'/>
<text x='1096.00' y='608.50' font-size='26' text-anchor='end' font-weight='normal' font-style='normal' fill='#231f20'>10</text>
<line x1='1098.50' y1='566.00' x2='1113.00' y2='566.00' stroke='#231f20' stroke-width='1.6'/>
<text x='1096.00' y='573.90' font-size='26' text-anchor='end' font-weight='normal' font-style='normal' fill='#231f20'>12</text>
<line x1='1098.50' y1='531.40' x2='1113.00' y2='531.40' stroke='#231f20' stroke-width='1.6'/>
<text x='1096.00' y='539.30' font-size='26' text-anchor='end' font-weight='normal' font-style='normal' fill='#231f20'>14</text>
<line x1='1098.50' y1='496.80' x2='1113.00' y2='496.80' stroke='#231f20' stroke-width='1.6'/>
<text x='1096.00' y='504.70' font-size='26' text-anchor='end' font-weight='normal' font-style='normal' fill='#231f20'>16</text>
<line x1='1098.50' y1='462.20' x2='1113.00' y2='462.20' stroke='#231f20' stroke-width='1.6'/>
<text x='1096.00' y='470.10' font-size='26' text-anchor='end' font-weight='normal' font-style='normal' fill='#231f20'>18</text>
<line x1='1098.50' y1='427.60' x2='1113.00' y2='427.60' stroke='#231f20' stroke-width='1.6'/>
<text x='1096.00' y='435.50' font-size='26' text-anchor='end' font-weight='normal' font-style='normal' fill='#231f20'>20</text>
<line x1='1113.00' y1='773.60' x2='1113.00' y2='786.60' stroke='#231f20' stroke-width='1.6'/>
<text x='1113.00' y='813.60' font-size='26' text-anchor='middle' font-weight='normal' font-style='normal' fill='#231f20'>0</text>
<line x1='1230.67' y1='773.60' x2='1230.67' y2='786.60' stroke='#231f20' stroke-width='1.6'/>
<text x='1230.67' y='813.60' font-size='26' text-anchor='middle' font-weight='normal' font-style='normal' fill='#231f20'>50</text>
<line x1='1348.33' y1='773.60' x2='1348.33' y2='786.60' stroke='#231f20' stroke-width='1.6'/>
<text x='1348.33' y='813.60' font-size='26' text-anchor='middle' font-weight='normal' font-style='normal' fill='#231f20'>100</text>
<line x1='1466.00' y1='773.60' x2='1466.00' y2='786.60' stroke='#231f20' stroke-width='1.6'/>
<text x='1466.00' y='813.60' font-size='26' text-anchor='middle' font-weight='normal' font-style='normal' fill='#231f20'>150</text>
<rect x='1640.10' y='759.76' width='35.40' height='13.84' fill='#cfd0d2' stroke='#4d4d4d' stroke-width='1.6'/>
<rect x='1675.50' y='625.93' width='35.40' height='147.67' fill='#cfd0d2' stroke='#4d4d4d' stroke-width='1.6'/>
<rect x='1710.90' y='491.26' width='35.40' height='282.34' fill='#cfd0d2' stroke='#4d4d4d' stroke-width='1.6'/>
<rect x='1746.30' y='719.62' width='35.40' height='53.98' fill='#cfd0d2' stroke='#4d4d4d' stroke-width='1.6'/>
<rect x='1781.70' y='733.19' width='35.40' height='40.41' fill='#cfd0d2' stroke='#4d4d4d' stroke-width='1.6'/>
<rect x='1569.30' y='427.60' width='354.00' height='346.00' fill='none' stroke='#231f20' stroke-width='2.2'/>
<line x1='1554.80' y1='773.60' x2='1569.30' y2='773.60' stroke='#231f20' stroke-width='1.6'/>
<text x='1552.30' y='781.50' font-size='26' text-anchor='end' font-weight='normal' font-style='normal' fill='#231f20'>0</text>
<line x1='1554.80' y1='704.40' x2='1569.30' y2='704.40' stroke='#231f20' stroke-width='1.6'/>
<text x='1552.30' y='712.30' font-size='26' text-anchor='end' font-weight='normal' font-style='normal' fill='#231f20'>5</text>
<line x1='1554.80' y1='635.20' x2='1569.30' y2='635.20' stroke='#231f20' stroke-width='1.6'/>
<text x='1552.30' y='643.10' font-size='26' text-anchor='end' font-weight='normal' font-style='normal' fill='#231f20'>10</text>
<line x1='1554.80' y1='566.00' x2='1569.30' y2='566.00' stroke='#231f20' stroke-width='1.6'/>
<text x='1552.30' y='573.90' font-size='26' text-anchor='end' font-weight='normal' font-style='normal' fill='#231f20'>15</text>
<line x1='1554.80' y1='496.80' x2='1569.30' y2='496.80' stroke='#231f20' stroke-width='1.6'/>
<text x='1552.30' y='504.70' font-size='26' text-anchor='end' font-weight='normal' font-style='normal' fill='#231f20'>20</text>
<line x1='1554.80' y1='427.60' x2='1569.30' y2='427.60' stroke='#231f20' stroke-width='1.6'/>
<text x='1552.30' y='435.50' font-size='26' text-anchor='end' font-weight='normal' font-style='normal' fill='#231f20'>25</text>
<line x1='1569.30' y1='773.60' x2='1569.30' y2='791.10' stroke='#231f20' stroke-width='1.6'/>
<text x='1570.10' y='813.80' font-size='26' text-anchor='middle' font-weight='normal' font-style='normal' fill='#231f20'>0</text>
<line x1='1657.80' y1='773.60' x2='1657.80' y2='791.10' stroke='#231f20' stroke-width='1.6'/>
<text x='1658.60' y='813.80' font-size='26' text-anchor='middle' font-weight='normal' font-style='normal' fill='#231f20'>5</text>
<line x1='1746.30' y1='773.60' x2='1746.30' y2='791.10' stroke='#231f20' stroke-width='1.6'/>
<text x='1747.10' y='813.80' font-size='26' text-anchor='middle' font-weight='normal' font-style='normal' fill='#231f20'>10</text>
<line x1='1834.80' y1='773.60' x2='1834.80' y2='791.10' stroke='#231f20' stroke-width='1.6'/>
<text x='1835.60' y='813.80' font-size='26' text-anchor='middle' font-weight='normal' font-style='normal' fill='#231f20'>15</text>
<line x1='1923.30' y1='773.60' x2='1923.30' y2='791.10' stroke='#231f20' stroke-width='1.6'/>
<text x='1924.10' y='813.80' font-size='26' text-anchor='middle' font-weight='normal' font-style='normal' fill='#231f20'>20</text>
<rect x='650.00' y='1034.60' width='17.68' height='155.70' fill='#efefef' stroke='#111111' stroke-width='2.0'/>
<rect x='667.68' y='1069.20' width='17.68' height='121.10' fill='#efefef' stroke='#111111' stroke-width='2.0'/>
<rect x='685.36' y='1121.10' width='17.68' height='69.20' fill='#efefef' stroke='#111111' stroke-width='2.0'/>
<rect x='703.04' y='1017.30' width='17.68' height='173.00' fill='#efefef' stroke='#111111' stroke-width='2.0'/>
<rect x='720.72' y='1155.70' width='17.68' height='34.60' fill='#efefef' stroke='#111111' stroke-width='2.0'/>
<rect x='738.40' y='1138.40' width='17.68' height='51.90' fill='#efefef' stroke='#111111' stroke-width='2.0'/>
<rect x='756.08' y='1138.40' width='17.68' height='51.90' fill='#efefef' stroke='#111111' stroke-width='2.0'/>
<rect x='773.76' y='1155.70' width='17.68' height='34.60' fill='#efefef' stroke='#111111' stroke-width='2.0'/>
<rect x='791.44' y='1155.70' width='17.68' height='34.60' fill='#efefef' stroke='#111111' stroke-width='2.0'/>
<rect x='809.12' y='1155.70' width='17.68' height='34.60' fill='#efefef' stroke='#111111' stroke-width='2.0'/>
<rect x='650.00' y='844.30' width='353.60' height='346.00' fill='none' stroke='#231f20' stroke-width='2.2'/>
<line x1='635.50' y1='1190.30' x2='650.00' y2='1190.30' stroke='#231f20' stroke-width='1.6'/>
<text x='633.00' y='1198.20' font-size='26' text-anchor='end' font-weight='normal' font-style='normal' fill='#231f20'>0</text>
<line x1='635.50' y1='1155.70' x2='650.00' y2='1155.70' stroke='#231f20' stroke-width='1.6'/>
<text x='633.00' y='1163.60' font-size='26' text-anchor='end' font-weight='normal' font-style='normal' fill='#231f20'>2</text>
<line x1='635.50' y1='1121.10' x2='650.00' y2='1121.10' stroke='#231f20' stroke-width='1.6'/>
<text x='633.00' y='1129.00' font-size='26' text-anchor='end' font-weight='normal' font-style='normal' fill='#231f20'>4</text>
<line x1='635.50' y1='1086.50' x2='650.00' y2='1086.50' stroke='#231f20' stroke-width='1.6'/>
<text x='633.00' y='1094.40' font-size='26' text-anchor='end' font-weight='normal' font-style='normal' fill='#231f20'>6</text>
<line x1='635.50' y1='1051.90' x2='650.00' y2='1051.90' stroke='#231f20' stroke-width='1.6'/>
<text x='633.00' y='1059.80' font-size='26' text-anchor='end' font-weight='normal' font-style='normal' fill='#231f20'>8</text>
<line x1='635.50' y1='1017.30' x2='650.00' y2='1017.30' stroke='#231f20' stroke-width='1.6'/>
<text x='633.00' y='1025.20' font-size='26' text-anchor='end' font-weight='normal' font-style='normal' fill='#231f20'>10</text>
<line x1='635.50' y1='982.70' x2='650.00' y2='982.70' stroke='#231f20' stroke-width='1.6'/>
<text x='633.00' y='990.60' font-size='26' text-anchor='end' font-weight='normal' font-style='normal' fill='#231f20'>12</text>
<line x1='635.50' y1='948.10' x2='650.00' y2='948.10' stroke='#231f20' stroke-width='1.6'/>
<text x='633.00' y='956.00' font-size='26' text-anchor='end' font-weight='normal' font-style='normal' fill='#231f20'>14</text>
<line x1='635.50' y1='913.50' x2='650.00' y2='913.50' stroke='#231f20' stroke-width='1.6'/>
<text x='633.00' y='921.40' font-size='26' text-anchor='end' font-weight='normal' font-style='normal' fill='#231f20'>16</text>
<line x1='635.50' y1='878.90' x2='650.00' y2='878.90' stroke='#231f20' stroke-width='1.6'/>
<text x='633.00' y='886.80' font-size='26' text-anchor='end' font-weight='normal' font-style='normal' fill='#231f20'>18</text>
<line x1='635.50' y1='844.30' x2='650.00' y2='844.30' stroke='#231f20' stroke-width='1.6'/>
<text x='633.00' y='852.20' font-size='26' text-anchor='end' font-weight='normal' font-style='normal' fill='#231f20'>20</text>
<line x1='650.00' y1='1190.30' x2='650.00' y2='1205.30' stroke='#231f20' stroke-width='1.6'/>
<text x='650.00' y='1227.60' font-size='26' text-anchor='middle' font-weight='normal' font-style='normal' fill='#231f20'>0</text>
<line x1='720.72' y1='1190.30' x2='720.72' y2='1205.30' stroke='#231f20' stroke-width='1.6'/>
<text x='720.72' y='1227.60' font-size='26' text-anchor='middle' font-weight='normal' font-style='normal' fill='#231f20'>10</text>
<line x1='791.44' y1='1190.30' x2='791.44' y2='1205.30' stroke='#231f20' stroke-width='1.6'/>
<text x='791.44' y='1227.60' font-size='26' text-anchor='middle' font-weight='normal' font-style='normal' fill='#231f20'>20</text>
<line x1='862.16' y1='1190.30' x2='862.16' y2='1205.30' stroke='#231f20' stroke-width='1.6'/>
<text x='862.16' y='1227.60' font-size='26' text-anchor='middle' font-weight='normal' font-style='normal' fill='#231f20'>30</text>
<line x1='932.88' y1='1190.30' x2='932.88' y2='1205.30' stroke='#231f20' stroke-width='1.6'/>
<text x='932.88' y='1227.60' font-size='26' text-anchor='middle' font-weight='normal' font-style='normal' fill='#231f20'>40</text>
<line x1='1003.60' y1='1190.30' x2='1003.60' y2='1205.30' stroke='#231f20' stroke-width='1.6'/>
<text x='1003.60' y='1227.60' font-size='26' text-anchor='middle' font-weight='normal' font-style='normal' fill='#231f20'>50</text>
<rect x='1136.53' y='1173.00' width='23.53' height='17.30' fill='#efefef' stroke='#111111' stroke-width='2.0'/>
<rect x='1160.07' y='1034.60' width='23.53' height='155.70' fill='#efefef' stroke='#111111' stroke-width='2.0'/>
<rect x='1183.60' y='1086.50' width='23.53' height='103.80' fill='#efefef' stroke='#111111' stroke-width='2.0'/>
<rect x='1207.13' y='1121.10' width='23.53' height='69.20' fill='#efefef' stroke='#111111' stroke-width='2.0'/>
<rect x='1230.67' y='1000.00' width='23.53' height='190.30' fill='#efefef' stroke='#111111' stroke-width='2.0'/>
<rect x='1254.20' y='1103.80' width='23.53' height='86.50' fill='#efefef' stroke='#111111' stroke-width='2.0'/>
<rect x='1277.73' y='1121.10' width='23.53' height='69.20' fill='#efefef' stroke='#111111' stroke-width='2.0'/>
<rect x='1301.27' y='1121.10' width='23.53' height='69.20' fill='#efefef' stroke='#111111' stroke-width='2.0'/>
<rect x='1113.00' y='844.30' width='353.00' height='346.00' fill='none' stroke='#231f20' stroke-width='2.2'/>
<line x1='1098.50' y1='1190.30' x2='1113.00' y2='1190.30' stroke='#231f20' stroke-width='1.6'/>
<text x='1096.00' y='1198.20' font-size='26' text-anchor='end' font-weight='normal' font-style='normal' fill='#231f20'>0</text>
<line x1='1098.50' y1='1155.70' x2='1113.00' y2='1155.70' stroke='#231f20' stroke-width='1.6'/>
<text x='1096.00' y='1163.60' font-size='26' text-anchor='end' font-weight='normal' font-style='normal' fill='#231f20'>2</text>
<line x1='1098.50' y1='1121.10' x2='1113.00' y2='1121.10' stroke='#231f20' stroke-width='1.6'/>
<text x='1096.00' y='1129.00' font-size='26' text-anchor='end' font-weight='normal' font-style='normal' fill='#231f20'>4</text>
<line x1='1098.50' y1='1086.50' x2='1113.00' y2='1086.50' stroke='#231f20' stroke-width='1.6'/>
<text x='1096.00' y='1094.40' font-size='26' text-anchor='end' font-weight='normal' font-style='normal' fill='#231f20'>6</text>
<line x1='1098.50' y1='1051.90' x2='1113.00' y2='1051.90' stroke='#231f20' stroke-width='1.6'/>
<text x='1096.00' y='1059.80' font-size='26' text-anchor='end' font-weight='normal' font-style='normal' fill='#231f20'>8</text>
<line x1='1098.50' y1='1017.30' x2='1113.00' y2='1017.30' stroke='#231f20' stroke-width='1.6'/>
<text x='1096.00' y='1025.20' font-size='26' text-anchor='end' font-weight='normal' font-style='normal' fill='#231f20'>10</text>
<line x1='1098.50' y1='982.70' x2='1113.00' y2='982.70' stroke='#231f20' stroke-width='1.6'/>
<text x='1096.00' y='990.60' font-size='26' text-anchor='end' font-weight='normal' font-style='normal' fill='#231f20'>12</text>
<line x1='1098.50' y1='948.10' x2='1113.00' y2='948.10' stroke='#231f20' stroke-width='1.6'/>
<text x='1096.00' y='956.00' font-size='26' text-anchor='end' font-weight='normal' font-style='normal' fill='#231f20'>14</text>
<line x1='1098.50' y1='913.50' x2='1113.00' y2='913.50' stroke='#231f20' stroke-width='1.6'/>
<text x='1096.00' y='921.40' font-size='26' text-anchor='end' font-weight='normal' font-style='normal' fill='#231f20'>16</text>
<line x1='1098.50' y1='878.90' x2='1113.00' y2='878.90' stroke='#231f20' stroke-width='1.6'/>
<text x='1096.00' y='886.80' font-size='26' text-anchor='end' font-weight='normal' font-style='normal' fill='#231f20'>18</text>
<line x1='1098.50' y1='844.30' x2='1113.00' y2='844.30' stroke='#231f20' stroke-width='1.6'/>
<text x='1096.00' y='852.20' font-size='26' text-anchor='end' font-weight='normal' font-style='normal' fill='#231f20'>20</text>
<line x1='1113.00' y1='1190.30' x2='1113.00' y2='1203.30' stroke='#231f20' stroke-width='1.6'/>
<text x='1113.00' y='1230.30' font-size='26' text-anchor='middle' font-weight='normal' font-style='normal' fill='#231f20'>0</text>
<line x1='1230.67' y1='1190.30' x2='1230.67' y2='1203.30' stroke='#231f20' stroke-width='1.6'/>
<text x='1230.67' y='1230.30' font-size='26' text-anchor='middle' font-weight='normal' font-style='normal' fill='#231f20'>50</text>
<line x1='1348.33' y1='1190.30' x2='1348.33' y2='1203.30' stroke='#231f20' stroke-width='1.6'/>
<text x='1348.33' y='1230.30' font-size='26' text-anchor='middle' font-weight='normal' font-style='normal' fill='#231f20'>100</text>
<line x1='1466.00' y1='1190.30' x2='1466.00' y2='1203.30' stroke='#231f20' stroke-width='1.6'/>
<text x='1466.00' y='1230.30' font-size='26' text-anchor='middle' font-weight='normal' font-style='normal' fill='#231f20'>150</text>
<rect x='1604.70' y='1176.46' width='35.40' height='13.84' fill='#efefef' stroke='#111111' stroke-width='2.0'/>
<rect x='1640.10' y='1134.94' width='35.40' height='55.36' fill='#efefef' stroke='#111111' stroke-width='2.0'/>
<rect x='1675.50' y='941.18' width='35.40' height='249.12' fill='#efefef' stroke='#111111' stroke-width='2.0'/>
<rect x='1710.90' y='955.02' width='35.40' height='235.28' fill='#efefef' stroke='#111111' stroke-width='2.0'/>
<rect x='1746.30' y='1134.94' width='35.40' height='55.36' fill='#efefef' stroke='#111111' stroke-width='2.0'/>
<rect x='1569.30' y='844.30' width='354.00' height='346.00' fill='none' stroke='#231f20' stroke-width='2.2'/>
<line x1='1554.80' y1='1190.30' x2='1569.30' y2='1190.30' stroke='#231f20' stroke-width='1.6'/>
<text x='1552.30' y='1198.20' font-size='26' text-anchor='end' font-weight='normal' font-style='normal' fill='#231f20'>0</text>
<line x1='1554.80' y1='1121.10' x2='1569.30' y2='1121.10' stroke='#231f20' stroke-width='1.6'/>
<text x='1552.30' y='1129.00' font-size='26' text-anchor='end' font-weight='normal' font-style='normal' fill='#231f20'>5</text>
<line x1='1554.80' y1='1051.90' x2='1569.30' y2='1051.90' stroke='#231f20' stroke-width='1.6'/>
<text x='1552.30' y='1059.80' font-size='26' text-anchor='end' font-weight='normal' font-style='normal' fill='#231f20'>10</text>
<line x1='1554.80' y1='982.70' x2='1569.30' y2='982.70' stroke='#231f20' stroke-width='1.6'/>
<text x='1552.30' y='990.60' font-size='26' text-anchor='end' font-weight='normal' font-style='normal' fill='#231f20'>15</text>
<line x1='1554.80' y1='913.50' x2='1569.30' y2='913.50' stroke='#231f20' stroke-width='1.6'/>
<text x='1552.30' y='921.40' font-size='26' text-anchor='end' font-weight='normal' font-style='normal' fill='#231f20'>20</text>
<line x1='1554.80' y1='844.30' x2='1569.30' y2='844.30' stroke='#231f20' stroke-width='1.6'/>
<text x='1552.30' y='852.20' font-size='26' text-anchor='end' font-weight='normal' font-style='normal' fill='#231f20'>25</text>
<line x1='1569.30' y1='1190.30' x2='1569.30' y2='1207.80' stroke='#231f20' stroke-width='1.6'/>
<text x='1570.10' y='1230.50' font-size='26' text-anchor='middle' font-weight='normal' font-style='normal' fill='#231f20'>0</text>
<line x1='1657.80' y1='1190.30' x2='1657.80' y2='1207.80' stroke='#231f20' stroke-width='1.6'/>
<text x='1658.60' y='1230.50' font-size='26' text-anchor='middle' font-weight='normal' font-style='normal' fill='#231f20'>5</text>
<line x1='1746.30' y1='1190.30' x2='1746.30' y2='1207.80' stroke='#231f20' stroke-width='1.6'/>
<text x='1747.10' y='1230.50' font-size='26' text-anchor='middle' font-weight='normal' font-style='normal' fill='#231f20'>10</text>
<line x1='1834.80' y1='1190.30' x2='1834.80' y2='1207.80' stroke='#231f20' stroke-width='1.6'/>
<text x='1835.60' y='1230.50' font-size='26' text-anchor='middle' font-weight='normal' font-style='normal' fill='#231f20'>15</text>
<line x1='1923.30' y1='1190.30' x2='1923.30' y2='1207.80' stroke='#231f20' stroke-width='1.6'/>
<text x='1924.10' y='1230.50' font-size='26' text-anchor='middle' font-weight='normal' font-style='normal' fill='#231f20'>20</text>
<circle cx='1622.4' cy='358.5' r='1.6' fill='#4a63c8'/>
<circle cx='1657.8' cy='358.5' r='1.6' fill='#4a63c8'/>
<circle cx='1693.2' cy='358.5' r='1.6' fill='#4a63c8'/>
<circle cx='1728.6' cy='317.0' r='1.6' fill='#4a63c8'/>
<circle cx='1764.0' cy='220.1' r='1.6' fill='#4a63c8'/>
<circle cx='1799.4' cy='81.7' r='1.6' fill='#4a63c8'/>
<circle cx='1834.8' cy='303.1' r='1.6' fill='#4a63c8'/>
<circle cx='1870.2' cy='330.8' r='1.6' fill='#4a63c8'/>
<circle cx='1905.6' cy='358.5' r='1.6' fill='#4a63c8'/>
<circle cx='1622.4' cy='773.6' r='1.3' fill='#7a8ad0'/>
<circle cx='1693.2' cy='773.6' r='1.3' fill='#7a8ad0'/>
<circle cx='1728.6' cy='732.1' r='1.3' fill='#7a8ad0'/>
<text x='588.00' y='185.70' font-size='32.5' text-anchor='middle' font-weight='normal' font-style='normal' fill='#231f20' transform='rotate(-90 588.00 185.70)'>count (n)</text>
<text x='588.00' y='613.60' font-size='32.5' text-anchor='middle' font-weight='normal' font-style='normal' fill='#231f20' transform='rotate(-90 588.00 613.60)'>count (n)</text>
<text x='588.00' y='1026.00' font-size='32.5' text-anchor='middle' font-weight='normal' font-style='normal' fill='#231f20' transform='rotate(-90 588.00 1026.00)'>count (n)</text>
<text x='498.30' y='212.50' font-size='26' text-anchor='middle' font-weight='bold' font-style='normal' fill='#231f20' transform='rotate(-90 498.30 212.50)'>Snf7 on mica</text>
<text x='498.30' y='633.30' font-size='26' text-anchor='middle' font-weight='bold' font-style='normal' fill='#231f20' transform='rotate(-90 498.30 633.30)'>Snf7 on PDMS</text>
<text x='498.30' y='1046.60' font-size='26' text-anchor='middle' font-weight='bold' font-style='normal' fill='#231f20' transform='rotate(-90 498.30 1046.60)'>Snf7/Vps2/Vps24 on PDMS</text>
<text x='824.00' y='1269.30' font-size='32.5' text-anchor='middle' font-weight='normal' font-style='normal' fill='#231f20'>Spiral area (nm² x 10³)</text>
<text x='1293.40' y='1269.30' font-size='32.5' text-anchor='middle' font-weight='normal' font-style='normal' fill='#231f20'>Outer radius (nm)</text>
<text x='1749.80' y='1269.30' font-size='32.5' text-anchor='middle' font-weight='normal' font-style='normal' fill='#231f20'>Inner radius (nm)</text>
<rect x='520.00' y='11.20' width='68.00' height='67.50' fill='#414042' stroke='none' stroke-width='0'/>
<text x='554.00' y='58.30' font-size='40' text-anchor='middle' font-weight='normal' font-style='normal' fill='#ffffff'>b</text>
<rect x='807.13' y='1582.09' width='28.70' height='204.08' fill='#cdece0' stroke='none' stroke-width='0'/>
<rect x='861.72' y='1583.81' width='28.70' height='186.93' fill='#cdece0' stroke='none' stroke-width='0'/>
<rect x='916.30' y='1607.82' width='28.70' height='185.22' fill='#cdece0' stroke='none' stroke-width='0'/>
<rect x='970.88' y='1642.12' width='28.70' height='161.21' fill='#cdece0' stroke='none' stroke-width='0'/>
<rect x='1025.47' y='1662.70' width='28.70' height='150.92' fill='#cdece0' stroke='none' stroke-width='0'/>
<rect x='1080.05' y='1660.98' width='28.70' height='162.92' fill='#cdece0' stroke='none' stroke-width='0'/>
<rect x='1134.63' y='1705.57' width='28.70' height='109.76' fill='#cdece0' stroke='none' stroke-width='0'/>
<rect x='1189.22' y='1707.29' width='28.70' height='92.61' fill='#cdece0' stroke='none' stroke-width='0'/>
<rect x='1243.80' y='1709.00' width='28.70' height='78.89' fill='#cdece0' stroke='none' stroke-width='0'/>
<rect x='1298.38' y='1705.57' width='28.70' height='121.76' fill='#cdece0' stroke='none' stroke-width='0'/>
<rect x='1352.97' y='1727.87' width='28.70' height='111.48' fill='#cdece0' stroke='none' stroke-width='0'/>
<line x1='821.48' y1='1525.49' x2='821.48' y2='1582.09' stroke='#333' stroke-width='1.3'/>
<line x1='821.48' y1='1786.17' x2='821.48' y2='1817.05' stroke='#333' stroke-width='1.3'/>
<line x1='814.48' y1='1525.49' x2='828.48' y2='1525.49' stroke='#333' stroke-width='1.3'/>
<line x1='814.48' y1='1817.05' x2='828.48' y2='1817.05' stroke='#333' stroke-width='1.3'/>
<line x1='808.13' y1='1757.02' x2='834.83' y2='1757.02' stroke='#cfcfcf' stroke-width='2.6'/>
<line x1='876.07' y1='1534.07' x2='876.07' y2='1583.81' stroke='#333' stroke-width='1.3'/>
<line x1='876.07' y1='1770.74' x2='876.07' y2='1849.63' stroke='#333' stroke-width='1.3'/>
<line x1='869.07' y1='1534.07' x2='883.07' y2='1534.07' stroke='#333' stroke-width='1.3'/>
<line x1='869.07' y1='1849.63' x2='883.07' y2='1849.63' stroke='#333' stroke-width='1.3'/>
<line x1='862.72' y1='1760.45' x2='889.42' y2='1760.45' stroke='#cfcfcf' stroke-width='2.6'/>
<line x1='930.65' y1='1575.23' x2='930.65' y2='1607.82' stroke='#333' stroke-width='1.3'/>
<line x1='930.65' y1='1793.04' x2='930.65' y2='1865.07' stroke='#333' stroke-width='1.3'/>
<line x1='923.65' y1='1575.23' x2='937.65' y2='1575.23' stroke='#333' stroke-width='1.3'/>
<line x1='923.65' y1='1865.07' x2='937.65' y2='1865.07' stroke='#333' stroke-width='1.3'/>
<line x1='917.30' y1='1765.60' x2='944.00' y2='1765.60' stroke='#cfcfcf' stroke-width='2.6'/>
<line x1='985.23' y1='1592.38' x2='985.23' y2='1642.12' stroke='#333' stroke-width='1.3'/>
<line x1='985.23' y1='1803.33' x2='985.23' y2='1830.77' stroke='#333' stroke-width='1.3'/>
<line x1='978.23' y1='1592.38' x2='992.23' y2='1592.38' stroke='#333' stroke-width='1.3'/>
<line x1='978.23' y1='1830.77' x2='992.23' y2='1830.77' stroke='#333' stroke-width='1.3'/>
<line x1='971.88' y1='1798.18' x2='998.58' y2='1798.18' stroke='#cfcfcf' stroke-width='2.6'/>
<line x1='1039.82' y1='1590.66' x2='1039.82' y2='1662.70' stroke='#333' stroke-width='1.3'/>
<line x1='1039.82' y1='1813.62' x2='1039.82' y2='1818.76' stroke='#333' stroke-width='1.3'/>
<line x1='1032.82' y1='1590.66' x2='1046.82' y2='1590.66' stroke='#333' stroke-width='1.3'/>
<line x1='1032.82' y1='1818.76' x2='1046.82' y2='1818.76' stroke='#333' stroke-width='1.3'/>
<line x1='1026.47' y1='1791.32' x2='1053.17' y2='1791.32' stroke='#cfcfcf' stroke-width='2.6'/>
<line x1='1094.40' y1='1578.66' x2='1094.40' y2='1660.98' stroke='#333' stroke-width='1.3'/>
<line x1='1094.40' y1='1823.90' x2='1094.40' y2='1887.36' stroke='#333' stroke-width='1.3'/>
<line x1='1087.40' y1='1578.66' x2='1101.40' y2='1578.66' stroke='#333' stroke-width='1.3'/>
<line x1='1087.40' y1='1887.36' x2='1101.40' y2='1887.36' stroke='#333' stroke-width='1.3'/>
<line x1='1081.05' y1='1791.32' x2='1107.75' y2='1791.32' stroke='#cfcfcf' stroke-width='2.6'/>
<line x1='1148.98' y1='1575.23' x2='1148.98' y2='1705.57' stroke='#333' stroke-width='1.3'/>
<line x1='1148.98' y1='1815.33' x2='1148.98' y2='1818.76' stroke='#333' stroke-width='1.3'/>
<line x1='1141.98' y1='1575.23' x2='1155.98' y2='1575.23' stroke='#333' stroke-width='1.3'/>
<line x1='1141.98' y1='1818.76' x2='1155.98' y2='1818.76' stroke='#333' stroke-width='1.3'/>
<line x1='1135.63' y1='1801.61' x2='1162.33' y2='1801.61' stroke='#cfcfcf' stroke-width='2.6'/>
<line x1='1203.57' y1='1636.97' x2='1203.57' y2='1707.29' stroke='#333' stroke-width='1.3'/>
<line x1='1203.57' y1='1799.89' x2='1203.57' y2='1839.34' stroke='#333' stroke-width='1.3'/>
<line x1='1196.57' y1='1636.97' x2='1210.57' y2='1636.97' stroke='#333' stroke-width='1.3'/>
<line x1='1196.57' y1='1839.34' x2='1210.57' y2='1839.34' stroke='#333' stroke-width='1.3'/>
<line x1='1190.22' y1='1787.89' x2='1216.92' y2='1787.89' stroke='#cfcfcf' stroke-width='2.6'/>
<line x1='1258.15' y1='1648.97' x2='1258.15' y2='1709.00' stroke='#333' stroke-width='1.3'/>
<line x1='1258.15' y1='1787.89' x2='1258.15' y2='1849.63' stroke='#333' stroke-width='1.3'/>
<line x1='1251.15' y1='1648.97' x2='1265.15' y2='1648.97' stroke='#333' stroke-width='1.3'/>
<line x1='1251.15' y1='1849.63' x2='1265.15' y2='1849.63' stroke='#333' stroke-width='1.3'/>
<line x1='1244.80' y1='1782.75' x2='1271.50' y2='1782.75' stroke='#cfcfcf' stroke-width='2.6'/>
<line x1='1312.73' y1='1659.27' x2='1312.73' y2='1705.57' stroke='#333' stroke-width='1.3'/>
<line x1='1312.73' y1='1827.34' x2='1312.73' y2='1883.93' stroke='#333' stroke-width='1.3'/>
<line x1='1305.73' y1='1659.27' x2='1319.73' y2='1659.27' stroke='#333' stroke-width='1.3'/>
<line x1='1305.73' y1='1883.93' x2='1319.73' y2='1883.93' stroke='#333' stroke-width='1.3'/>
<line x1='1299.38' y1='1803.33' x2='1326.08' y2='1803.33' stroke='#cfcfcf' stroke-width='2.6'/>
<line x1='1367.32' y1='1698.71' x2='1367.32' y2='1727.87' stroke='#333' stroke-width='1.3'/>
<line x1='1367.32' y1='1839.34' x2='1367.32' y2='1871.92' stroke='#333' stroke-width='1.3'/>
<line x1='1360.32' y1='1698.71' x2='1374.32' y2='1698.71' stroke='#333' stroke-width='1.3'/>
<line x1='1360.32' y1='1871.92' x2='1374.32' y2='1871.92' stroke='#333' stroke-width='1.3'/>
<line x1='1353.97' y1='1801.61' x2='1380.67' y2='1801.61' stroke='#cfcfcf' stroke-width='2.6'/>
<circle cx='821.48' cy='1525.49' r='3.1' fill='#0a9e5c'/>
<circle cx='821.48' cy='1546.08' r='3.1' fill='#0a9e5c'/>
<circle cx='821.48' cy='1698.71' r='3.1' fill='#0a9e5c'/>
<circle cx='821.48' cy='1757.02' r='3.1' fill='#0a9e5c'/>
<circle cx='821.48' cy='1767.31' r='3.1' fill='#0a9e5c'/>
<circle cx='821.48' cy='1791.32' r='3.1' fill='#0a9e5c'/>
<circle cx='821.48' cy='1817.05' r='3.1' fill='#0a9e5c'/>
<circle cx='876.07' cy='1534.07' r='3.1' fill='#0a9e5c'/>
<circle cx='876.07' cy='1549.51' r='3.1' fill='#0a9e5c'/>
<circle cx='876.07' cy='1702.14' r='3.1' fill='#0a9e5c'/>
<circle cx='876.07' cy='1760.45' r='3.1' fill='#0a9e5c'/>
<circle cx='876.07' cy='1769.03' r='3.1' fill='#0a9e5c'/>
<circle cx='876.07' cy='1772.45' r='3.1' fill='#0a9e5c'/>
<circle cx='876.07' cy='1849.63' r='3.1' fill='#0a9e5c'/>
<circle cx='930.65' cy='1575.23' r='3.1' fill='#0a9e5c'/>
<circle cx='930.65' cy='1578.66' r='3.1' fill='#0a9e5c'/>
<circle cx='930.65' cy='1703.86' r='3.1' fill='#0a9e5c'/>
<circle cx='930.65' cy='1763.88' r='3.1' fill='#0a9e5c'/>
<circle cx='930.65' cy='1781.03' r='3.1' fill='#0a9e5c'/>
<circle cx='930.65' cy='1796.47' r='3.1' fill='#0a9e5c'/>
<circle cx='930.65' cy='1865.07' r='3.1' fill='#0a9e5c'/>
<circle cx='985.23' cy='1592.38' r='3.1' fill='#0a9e5c'/>
<circle cx='985.23' cy='1618.11' r='3.1' fill='#0a9e5c'/>
<circle cx='985.23' cy='1724.43' r='3.1' fill='#0a9e5c'/>
<circle cx='985.23' cy='1796.47' r='3.1' fill='#0a9e5c'/>
<circle cx='985.23' cy='1805.04' r='3.1' fill='#0a9e5c'/>
<circle cx='985.23' cy='1830.77' r='3.1' fill='#0a9e5c'/>
<circle cx='1039.82' cy='1590.66' r='3.1' fill='#0a9e5c'/>
<circle cx='1039.82' cy='1635.26' r='3.1' fill='#0a9e5c'/>
<circle cx='1039.82' cy='1746.73' r='3.1' fill='#0a9e5c'/>
<circle cx='1039.82' cy='1791.32' r='3.1' fill='#0a9e5c'/>
<circle cx='1039.82' cy='1811.90' r='3.1' fill='#0a9e5c'/>
<circle cx='1039.82' cy='1815.33' r='3.1' fill='#0a9e5c'/>
<circle cx='1039.82' cy='1818.76' r='3.1' fill='#0a9e5c'/>
<circle cx='1094.40' cy='1578.66' r='3.1' fill='#0a9e5c'/>
<circle cx='1094.40' cy='1630.11' r='3.1' fill='#0a9e5c'/>
<circle cx='1094.40' cy='1791.32' r='3.1' fill='#0a9e5c'/>
<circle cx='1094.40' cy='1813.62' r='3.1' fill='#0a9e5c'/>
<circle cx='1094.40' cy='1827.34' r='3.1' fill='#0a9e5c'/>
<circle cx='1094.40' cy='1883.93' r='3.1' fill='#0a9e5c'/>
<circle cx='1094.40' cy='1887.36' r='3.1' fill='#0a9e5c'/>
<circle cx='1148.98' cy='1575.23' r='3.1' fill='#0a9e5c'/>
<circle cx='1148.98' cy='1690.13' r='3.1' fill='#0a9e5c'/>
<circle cx='1148.98' cy='1755.31' r='3.1' fill='#0a9e5c'/>
<circle cx='1148.98' cy='1801.61' r='3.1' fill='#0a9e5c'/>
<circle cx='1148.98' cy='1811.90' r='3.1' fill='#0a9e5c'/>
<circle cx='1148.98' cy='1817.05' r='3.1' fill='#0a9e5c'/>
<circle cx='1203.57' cy='1636.97' r='3.1' fill='#0a9e5c'/>
<circle cx='1203.57' cy='1686.70' r='3.1' fill='#0a9e5c'/>
<circle cx='1203.57' cy='1774.17' r='3.1' fill='#0a9e5c'/>
<circle cx='1203.57' cy='1786.17' r='3.1' fill='#0a9e5c'/>
<circle cx='1203.57' cy='1791.32' r='3.1' fill='#0a9e5c'/>
<circle cx='1203.57' cy='1803.33' r='3.1' fill='#0a9e5c'/>
<circle cx='1203.57' cy='1839.34' r='3.1' fill='#0a9e5c'/>
<circle cx='1258.15' cy='1648.97' r='3.1' fill='#0a9e5c'/>
<circle cx='1258.15' cy='1703.86' r='3.1' fill='#0a9e5c'/>
<circle cx='1258.15' cy='1727.87' r='3.1' fill='#0a9e5c'/>
<circle cx='1258.15' cy='1782.75' r='3.1' fill='#0a9e5c'/>
<circle cx='1258.15' cy='1787.89' r='3.1' fill='#0a9e5c'/>
<circle cx='1258.15' cy='1849.63' r='3.1' fill='#0a9e5c'/>
<circle cx='1312.73' cy='1659.27' r='3.1' fill='#0a9e5c'/>
<circle cx='1312.73' cy='1703.86' r='3.1' fill='#0a9e5c'/>
<circle cx='1312.73' cy='1714.14' r='3.1' fill='#0a9e5c'/>
<circle cx='1312.73' cy='1803.33' r='3.1' fill='#0a9e5c'/>
<circle cx='1312.73' cy='1825.62' r='3.1' fill='#0a9e5c'/>
<circle cx='1312.73' cy='1829.05' r='3.1' fill='#0a9e5c'/>
<circle cx='1312.73' cy='1883.93' r='3.1' fill='#0a9e5c'/>
<circle cx='1367.32' cy='1698.71' r='3.1' fill='#0a9e5c'/>
<circle cx='1367.32' cy='1717.58' r='3.1' fill='#0a9e5c'/>
<circle cx='1367.32' cy='1755.31' r='3.1' fill='#0a9e5c'/>
<circle cx='1367.32' cy='1803.33' r='3.1' fill='#0a9e5c'/>
<circle cx='1367.32' cy='1808.47' r='3.1' fill='#0a9e5c'/>
<circle cx='1367.32' cy='1849.63' r='3.1' fill='#0a9e5c'/>
<circle cx='1367.32' cy='1871.92' r='3.1' fill='#0a9e5c'/>
<polyline points='821.48,1700.43 876.07,1703.86 930.65,1722.72 985.23,1736.44 1039.82,1745.02 1094.40,1755.31 1148.98,1753.59 1203.57,1758.74 1258.15,1755.31 1312.73,1774.17 1367.32,1786.17' fill='none' stroke='#0e9f5e' stroke-width='3.0' stroke-linejoin='round'/>
<circle cx='821.48' cy='1700.43' r='5.8' fill='none' stroke='#127a64' stroke-width='1.4'/>
<circle cx='876.07' cy='1703.86' r='5.8' fill='none' stroke='#127a64' stroke-width='1.4'/>
<circle cx='930.65' cy='1722.72' r='5.8' fill='none' stroke='#127a64' stroke-width='1.4'/>
<circle cx='985.23' cy='1736.44' r='5.8' fill='none' stroke='#127a64' stroke-width='1.4'/>
<circle cx='1039.82' cy='1745.02' r='5.8' fill='none' stroke='#127a64' stroke-width='1.4'/>
<circle cx='1094.40' cy='1755.31' r='5.8' fill='none' stroke='#127a64' stroke-width='1.4'/>
<circle cx='1148.98' cy='1753.59' r='5.8' fill='none' stroke='#127a64' stroke-width='1.4'/>
<circle cx='1203.57' cy='1758.74' r='5.8' fill='none' stroke='#127a64' stroke-width='1.4'/>
<circle cx='1258.15' cy='1755.31' r='5.8' fill='none' stroke='#127a64' stroke-width='1.4'/>
<circle cx='1312.73' cy='1774.17' r='5.8' fill='none' stroke='#127a64' stroke-width='1.4'/>
<circle cx='1367.32' cy='1786.17' r='5.8' fill='none' stroke='#127a64' stroke-width='1.4'/>
<rect x='807.13' y='1959.39' width='28.70' height='34.30' fill='#f7cfe6' stroke='none' stroke-width='0'/>
<rect x='861.72' y='1950.82' width='28.70' height='30.87' fill='#f7cfe6' stroke='none' stroke-width='0'/>
<rect x='916.30' y='1945.67' width='28.70' height='44.59' fill='#f7cfe6' stroke='none' stroke-width='0'/>
<rect x='970.88' y='1943.96' width='28.70' height='39.44' fill='#f7cfe6' stroke='none' stroke-width='0'/>
<rect x='1025.47' y='1904.51' width='28.70' height='73.75' fill='#f7cfe6' stroke='none' stroke-width='0'/>
<rect x='1080.05' y='1894.22' width='28.70' height='73.75' fill='#f7cfe6' stroke='none' stroke-width='0'/>
<rect x='1134.63' y='1883.93' width='28.70' height='60.03' fill='#f7cfe6' stroke='none' stroke-width='0'/>
<rect x='1189.22' y='1885.64' width='28.70' height='77.17' fill='#f7cfe6' stroke='none' stroke-width='0'/>
<rect x='1243.80' y='1895.93' width='28.70' height='51.45' fill='#f7cfe6' stroke='none' stroke-width='0'/>
<rect x='1298.38' y='1871.92' width='28.70' height='85.75' fill='#f7cfe6' stroke='none' stroke-width='0'/>
<rect x='1352.97' y='1895.93' width='28.70' height='54.88' fill='#f7cfe6' stroke='none' stroke-width='0'/>
<line x1='821.48' y1='1949.10' x2='821.48' y2='1959.39' stroke='#333' stroke-width='1.3'/>
<line x1='821.48' y1='1993.69' x2='821.48' y2='2002.27' stroke='#333' stroke-width='1.3'/>
<line x1='814.48' y1='1949.10' x2='828.48' y2='1949.10' stroke='#333' stroke-width='1.3'/>
<line x1='814.48' y1='2002.27' x2='828.48' y2='2002.27' stroke='#333' stroke-width='1.3'/>
<line x1='808.13' y1='1985.12' x2='834.83' y2='1985.12' stroke='#cfcfcf' stroke-width='2.6'/>
<line x1='876.07' y1='1925.09' x2='876.07' y2='1950.82' stroke='#333' stroke-width='1.3'/>
<line x1='876.07' y1='1981.68' x2='876.07' y2='1991.98' stroke='#333' stroke-width='1.3'/>
<line x1='869.07' y1='1925.09' x2='883.07' y2='1925.09' stroke='#333' stroke-width='1.3'/>
<line x1='869.07' y1='1991.98' x2='883.07' y2='1991.98' stroke='#333' stroke-width='1.3'/>
<line x1='862.72' y1='1973.11' x2='889.42' y2='1973.11' stroke='#cfcfcf' stroke-width='2.6'/>
<line x1='930.65' y1='1935.38' x2='930.65' y2='1945.67' stroke='#333' stroke-width='1.3'/>
<line x1='930.65' y1='1990.26' x2='930.65' y2='1991.98' stroke='#333' stroke-width='1.3'/>
<line x1='923.65' y1='1935.38' x2='937.65' y2='1935.38' stroke='#333' stroke-width='1.3'/>
<line x1='923.65' y1='1991.98' x2='937.65' y2='1991.98' stroke='#333' stroke-width='1.3'/>
<line x1='917.30' y1='1969.68' x2='944.00' y2='1969.68' stroke='#cfcfcf' stroke-width='2.6'/>
<line x1='985.23' y1='1899.37' x2='985.23' y2='1943.96' stroke='#333' stroke-width='1.3'/>
<line x1='985.23' y1='1983.40' x2='985.23' y2='2002.27' stroke='#333' stroke-width='1.3'/>
<line x1='978.23' y1='1899.37' x2='992.23' y2='1899.37' stroke='#333' stroke-width='1.3'/>
<line x1='978.23' y1='2002.27' x2='992.23' y2='2002.27' stroke='#333' stroke-width='1.3'/>
<line x1='971.88' y1='1954.25' x2='998.58' y2='1954.25' stroke='#cfcfcf' stroke-width='2.6'/>
<line x1='1039.82' y1='1887.36' x2='1039.82' y2='1904.51' stroke='#333' stroke-width='1.3'/>
<line x1='1039.82' y1='1978.26' x2='1039.82' y2='1991.98' stroke='#333' stroke-width='1.3'/>
<line x1='1032.82' y1='1887.36' x2='1046.82' y2='1887.36' stroke='#333' stroke-width='1.3'/>
<line x1='1032.82' y1='1991.98' x2='1046.82' y2='1991.98' stroke='#333' stroke-width='1.3'/>
<line x1='1026.47' y1='1954.25' x2='1053.17' y2='1954.25' stroke='#cfcfcf' stroke-width='2.6'/>
<line x1='1094.40' y1='1883.93' x2='1094.40' y2='1894.22' stroke='#333' stroke-width='1.3'/>
<line x1='1094.40' y1='1967.97' x2='1094.40' y2='1988.55' stroke='#333' stroke-width='1.3'/>
<line x1='1087.40' y1='1883.93' x2='1101.40' y2='1883.93' stroke='#333' stroke-width='1.3'/>
<line x1='1087.40' y1='1988.55' x2='1101.40' y2='1988.55' stroke='#333' stroke-width='1.3'/>
<line x1='1081.05' y1='1933.66' x2='1107.75' y2='1933.66' stroke='#cfcfcf' stroke-width='2.6'/>
<line x1='1148.98' y1='1866.78' x2='1148.98' y2='1883.93' stroke='#333' stroke-width='1.3'/>
<line x1='1148.98' y1='1943.96' x2='1148.98' y2='1991.98' stroke='#333' stroke-width='1.3'/>
<line x1='1141.98' y1='1866.78' x2='1155.98' y2='1866.78' stroke='#333' stroke-width='1.3'/>
<line x1='1141.98' y1='1991.98' x2='1155.98' y2='1991.98' stroke='#333' stroke-width='1.3'/>
<line x1='1135.63' y1='1928.52' x2='1162.33' y2='1928.52' stroke='#cfcfcf' stroke-width='2.6'/>
<line x1='1203.57' y1='1883.93' x2='1203.57' y2='1885.64' stroke='#333' stroke-width='1.3'/>
<line x1='1203.57' y1='1962.82' x2='1203.57' y2='1979.97' stroke='#333' stroke-width='1.3'/>
<line x1='1196.57' y1='1883.93' x2='1210.57' y2='1883.93' stroke='#333' stroke-width='1.3'/>
<line x1='1196.57' y1='1979.97' x2='1210.57' y2='1979.97' stroke='#333' stroke-width='1.3'/>
<line x1='1190.22' y1='1916.52' x2='1216.92' y2='1916.52' stroke='#cfcfcf' stroke-width='2.6'/>
<line x1='1258.15' y1='1858.20' x2='1258.15' y2='1895.93' stroke='#333' stroke-width='1.3'/>
<line x1='1258.15' y1='1947.38' x2='1258.15' y2='1978.26' stroke='#333' stroke-width='1.3'/>
<line x1='1251.15' y1='1858.20' x2='1265.15' y2='1858.20' stroke='#333' stroke-width='1.3'/>
<line x1='1251.15' y1='1978.26' x2='1265.15' y2='1978.26' stroke='#333' stroke-width='1.3'/>
<line x1='1244.80' y1='1925.09' x2='1271.50' y2='1925.09' stroke='#cfcfcf' stroke-width='2.6'/>
<line x1='1312.73' y1='1863.35' x2='1312.73' y2='1871.92' stroke='#333' stroke-width='1.3'/>
<line x1='1312.73' y1='1957.67' x2='1312.73' y2='1973.11' stroke='#333' stroke-width='1.3'/>
<line x1='1305.73' y1='1863.35' x2='1319.73' y2='1863.35' stroke='#333' stroke-width='1.3'/>
<line x1='1305.73' y1='1973.11' x2='1319.73' y2='1973.11' stroke='#333' stroke-width='1.3'/>
<line x1='1299.38' y1='1899.37' x2='1326.08' y2='1899.37' stroke='#cfcfcf' stroke-width='2.6'/>
<line x1='1367.32' y1='1883.93' x2='1367.32' y2='1895.93' stroke='#333' stroke-width='1.3'/>
<line x1='1367.32' y1='1950.82' x2='1367.32' y2='1978.26' stroke='#333' stroke-width='1.3'/>
<line x1='1360.32' y1='1883.93' x2='1374.32' y2='1883.93' stroke='#333' stroke-width='1.3'/>
<line x1='1360.32' y1='1978.26' x2='1374.32' y2='1978.26' stroke='#333' stroke-width='1.3'/>
<line x1='1353.97' y1='1904.51' x2='1380.67' y2='1904.51' stroke='#cfcfcf' stroke-width='2.6'/>
<circle cx='821.48' cy='1949.10' r='3.1' fill='#b03c94'/>
<circle cx='821.48' cy='1952.53' r='3.1' fill='#b03c94'/>
<circle cx='821.48' cy='1983.40' r='3.1' fill='#b03c94'/>
<circle cx='821.48' cy='1991.98' r='3.1' fill='#b03c94'/>
<circle cx='821.48' cy='1993.69' r='3.1' fill='#b03c94'/>
<circle cx='821.48' cy='2002.27' r='3.1' fill='#b03c94'/>
<circle cx='876.07' cy='1925.09' r='3.1' fill='#b03c94'/>
<circle cx='876.07' cy='1947.38' r='3.1' fill='#b03c94'/>
<circle cx='876.07' cy='1969.68' r='3.1' fill='#b03c94'/>
<circle cx='876.07' cy='1973.11' r='3.1' fill='#b03c94'/>
<circle cx='876.07' cy='1981.68' r='3.1' fill='#b03c94'/>
<circle cx='876.07' cy='1991.98' r='3.1' fill='#b03c94'/>
<circle cx='930.65' cy='1935.38' r='3.1' fill='#b03c94'/>
<circle cx='930.65' cy='1938.81' r='3.1' fill='#b03c94'/>
<circle cx='930.65' cy='1966.25' r='3.1' fill='#b03c94'/>
<circle cx='930.65' cy='1967.97' r='3.1' fill='#b03c94'/>
<circle cx='930.65' cy='1985.12' r='3.1' fill='#b03c94'/>
<circle cx='930.65' cy='1991.98' r='3.1' fill='#b03c94'/>
<circle cx='985.23' cy='1899.37' r='3.1' fill='#b03c94'/>
<circle cx='985.23' cy='1943.96' r='3.1' fill='#b03c94'/>
<circle cx='985.23' cy='1949.10' r='3.1' fill='#b03c94'/>
<circle cx='985.23' cy='1954.25' r='3.1' fill='#b03c94'/>
<circle cx='985.23' cy='1978.26' r='3.1' fill='#b03c94'/>
<circle cx='985.23' cy='1983.40' r='3.1' fill='#b03c94'/>
<circle cx='985.23' cy='2002.27' r='3.1' fill='#b03c94'/>
<circle cx='1039.82' cy='1887.36' r='3.1' fill='#b03c94'/>
<circle cx='1039.82' cy='1902.80' r='3.1' fill='#b03c94'/>
<circle cx='1039.82' cy='1907.94' r='3.1' fill='#b03c94'/>
<circle cx='1039.82' cy='1954.25' r='3.1' fill='#b03c94'/>
<circle cx='1039.82' cy='1967.97' r='3.1' fill='#b03c94'/>
<circle cx='1039.82' cy='1981.68' r='3.1' fill='#b03c94'/>
<circle cx='1039.82' cy='1991.98' r='3.1' fill='#b03c94'/>
<circle cx='1094.40' cy='1883.93' r='3.1' fill='#b03c94'/>
<circle cx='1094.40' cy='1889.08' r='3.1' fill='#b03c94'/>
<circle cx='1094.40' cy='1909.65' r='3.1' fill='#b03c94'/>
<circle cx='1094.40' cy='1933.66' r='3.1' fill='#b03c94'/>
<circle cx='1094.40' cy='1976.54' r='3.1' fill='#b03c94'/>
<circle cx='1094.40' cy='1988.55' r='3.1' fill='#b03c94'/>
<circle cx='1148.98' cy='1866.78' r='3.1' fill='#b03c94'/>
<circle cx='1148.98' cy='1878.79' r='3.1' fill='#b03c94'/>
<circle cx='1148.98' cy='1901.08' r='3.1' fill='#b03c94'/>
<circle cx='1148.98' cy='1926.81' r='3.1' fill='#b03c94'/>
<circle cx='1148.98' cy='1930.24' r='3.1' fill='#b03c94'/>
<circle cx='1148.98' cy='1949.10' r='3.1' fill='#b03c94'/>
<circle cx='1148.98' cy='1991.98' r='3.1' fill='#b03c94'/>
<circle cx='1203.57' cy='1883.93' r='3.1' fill='#b03c94'/>
<circle cx='1203.57' cy='1895.93' r='3.1' fill='#b03c94'/>
<circle cx='1203.57' cy='1916.52' r='3.1' fill='#b03c94'/>
<circle cx='1203.57' cy='1921.66' r='3.1' fill='#b03c94'/>
<circle cx='1203.57' cy='1931.95' r='3.1' fill='#b03c94'/>
<circle cx='1203.57' cy='1971.39' r='3.1' fill='#b03c94'/>
<circle cx='1203.57' cy='1979.97' r='3.1' fill='#b03c94'/>
<circle cx='1258.15' cy='1858.20' r='3.1' fill='#b03c94'/>
<circle cx='1258.15' cy='1895.93' r='3.1' fill='#b03c94'/>
<circle cx='1258.15' cy='1901.08' r='3.1' fill='#b03c94'/>
<circle cx='1258.15' cy='1923.38' r='3.1' fill='#b03c94'/>
<circle cx='1258.15' cy='1928.52' r='3.1' fill='#b03c94'/>
<circle cx='1258.15' cy='1952.53' r='3.1' fill='#b03c94'/>
<circle cx='1258.15' cy='1978.26' r='3.1' fill='#b03c94'/>
<circle cx='1312.73' cy='1863.35' r='3.1' fill='#b03c94'/>
<circle cx='1312.73' cy='1866.78' r='3.1' fill='#b03c94'/>
<circle cx='1312.73' cy='1885.64' r='3.1' fill='#b03c94'/>
<circle cx='1312.73' cy='1899.37' r='3.1' fill='#b03c94'/>
<circle cx='1312.73' cy='1909.65' r='3.1' fill='#b03c94'/>
<circle cx='1312.73' cy='1973.11' r='3.1' fill='#b03c94'/>
<circle cx='1367.32' cy='1883.93' r='3.1' fill='#b03c94'/>
<circle cx='1367.32' cy='1890.79' r='3.1' fill='#b03c94'/>
<circle cx='1367.32' cy='1907.94' r='3.1' fill='#b03c94'/>
<circle cx='1367.32' cy='1914.80' r='3.1' fill='#b03c94'/>
<circle cx='1367.32' cy='1961.11' r='3.1' fill='#b03c94'/>
<circle cx='1367.32' cy='1978.26' r='3.1' fill='#b03c94'/>
<polyline points='821.48,1979.97 876.07,1967.97 930.65,1969.68 985.23,1959.39 1039.82,1942.24 1094.40,1931.95 1148.98,1919.94 1203.57,1923.38 1258.15,1919.94 1312.73,1909.65 1367.32,1918.23' fill='none' stroke='#b5509f' stroke-width='4.2' stroke-linejoin='round'/>
<circle cx='821.48' cy='1979.97' r='5.8' fill='none' stroke='#b5509f' stroke-width='1.4'/>
<circle cx='876.07' cy='1967.97' r='5.8' fill='none' stroke='#b5509f' stroke-width='1.4'/>
<circle cx='930.65' cy='1969.68' r='5.8' fill='none' stroke='#b5509f' stroke-width='1.4'/>
<circle cx='985.23' cy='1959.39' r='5.8' fill='none' stroke='#b5509f' stroke-width='1.4'/>
<circle cx='1039.82' cy='1942.24' r='5.8' fill='none' stroke='#b5509f' stroke-width='1.4'/>
<circle cx='1094.40' cy='1931.95' r='5.8' fill='none' stroke='#b5509f' stroke-width='1.4'/>
<circle cx='1148.98' cy='1919.94' r='5.8' fill='none' stroke='#b5509f' stroke-width='1.4'/>
<circle cx='1203.57' cy='1923.38' r='5.8' fill='none' stroke='#b5509f' stroke-width='1.4'/>
<circle cx='1258.15' cy='1919.94' r='5.8' fill='none' stroke='#b5509f' stroke-width='1.4'/>
<circle cx='1312.73' cy='1909.65' r='5.8' fill='none' stroke='#b5509f' stroke-width='1.4'/>
<circle cx='1367.32' cy='1918.23' r='5.8' fill='none' stroke='#b5509f' stroke-width='1.4'/>
<rect x='766.90' y='1331.70' width='655.00' height='686.00' fill='none' stroke='#231f20' stroke-width='2.6'/>
<line x1='759.90' y1='2017.70' x2='774.90' y2='2017.70' stroke='#231f20' stroke-width='2.2'/>
<text x='758.40' y='2026.90' font-size='26' text-anchor='end' font-weight='normal' font-style='normal' fill='#231f20'>0</text>
<line x1='766.90' y1='1931.95' x2='774.90' y2='1931.95' stroke='#231f20' stroke-width='2.2'/>
<line x1='759.90' y1='1846.20' x2='774.90' y2='1846.20' stroke='#231f20' stroke-width='2.2'/>
<text x='758.40' y='1855.40' font-size='26' text-anchor='end' font-weight='normal' font-style='normal' fill='#231f20'>10</text>
<line x1='766.90' y1='1760.45' x2='774.90' y2='1760.45' stroke='#231f20' stroke-width='2.2'/>
<line x1='759.90' y1='1674.70' x2='774.90' y2='1674.70' stroke='#231f20' stroke-width='2.2'/>
<text x='758.40' y='1683.90' font-size='26' text-anchor='end' font-weight='normal' font-style='normal' fill='#231f20'>20</text>
<line x1='766.90' y1='1588.95' x2='774.90' y2='1588.95' stroke='#231f20' stroke-width='2.2'/>
<line x1='759.90' y1='1503.20' x2='774.90' y2='1503.20' stroke='#231f20' stroke-width='2.2'/>
<text x='758.40' y='1512.40' font-size='26' text-anchor='end' font-weight='normal' font-style='normal' fill='#231f20'>30</text>
<line x1='766.90' y1='1417.45' x2='774.90' y2='1417.45' stroke='#231f20' stroke-width='2.2'/>
<line x1='759.90' y1='1331.70' x2='774.90' y2='1331.70' stroke='#231f20' stroke-width='2.2'/>
<text x='758.40' y='1340.90' font-size='26' text-anchor='end' font-weight='normal' font-style='normal' fill='#231f20'>40</text>
<line x1='766.90' y1='2010.70' x2='766.90' y2='2026.20' stroke='#231f20' stroke-width='2.2'/>
<text x='766.90' y='2051.00' font-size='26' text-anchor='middle' font-weight='normal' font-style='normal' fill='#231f20'>0</text>
<line x1='821.48' y1='2010.70' x2='821.48' y2='2017.70' stroke='#231f20' stroke-width='2.2'/>
<line x1='876.07' y1='2010.70' x2='876.07' y2='2026.20' stroke='#231f20' stroke-width='2.2'/>
<text x='876.07' y='2051.00' font-size='26' text-anchor='middle' font-weight='normal' font-style='normal' fill='#231f20'>100</text>
<line x1='930.65' y1='2010.70' x2='930.65' y2='2017.70' stroke='#231f20' stroke-width='2.2'/>
<line x1='985.23' y1='2010.70' x2='985.23' y2='2026.20' stroke='#231f20' stroke-width='2.2'/>
<text x='985.23' y='2051.00' font-size='26' text-anchor='middle' font-weight='normal' font-style='normal' fill='#231f20'>200</text>
<line x1='1039.82' y1='2010.70' x2='1039.82' y2='2017.70' stroke='#231f20' stroke-width='2.2'/>
<line x1='1094.40' y1='2010.70' x2='1094.40' y2='2026.20' stroke='#231f20' stroke-width='2.2'/>
<text x='1094.40' y='2051.00' font-size='26' text-anchor='middle' font-weight='normal' font-style='normal' fill='#231f20'>300</text>
<line x1='1148.98' y1='2010.70' x2='1148.98' y2='2017.70' stroke='#231f20' stroke-width='2.2'/>
<line x1='1203.57' y1='2010.70' x2='1203.57' y2='2026.20' stroke='#231f20' stroke-width='2.2'/>
<text x='1203.57' y='2051.00' font-size='26' text-anchor='middle' font-weight='normal' font-style='normal' fill='#231f20'>400</text>
<line x1='1258.15' y1='2010.70' x2='1258.15' y2='2017.70' stroke='#231f20' stroke-width='2.2'/>
<line x1='1312.73' y1='2010.70' x2='1312.73' y2='2026.20' stroke='#231f20' stroke-width='2.2'/>
<text x='1312.73' y='2051.00' font-size='26' text-anchor='middle' font-weight='normal' font-style='normal' fill='#231f20'>500</text>
<line x1='1367.32' y1='2010.70' x2='1367.32' y2='2017.70' stroke='#231f20' stroke-width='2.2'/>
<line x1='1421.90' y1='2010.70' x2='1421.90' y2='2026.20' stroke='#231f20' stroke-width='2.2'/>
<text x='1086.30' y='2088.00' font-size='32.5' text-anchor='middle' font-weight='normal' font-style='normal' fill='#231f20'>time (s)</text>
<text x='723.50' y='1683.00' font-size='32.5' text-anchor='middle' font-weight='normal' font-style='normal' fill='#231f20' transform='rotate(-90 723.50 1683.00)'>Snf7 on PDMS spiral area (nm² x 10³)</text>
<line x1='1888.65' y1='1650.50' x2='1888.65' y2='1850.80' stroke='#dcdcdc' stroke-width='1.2'/>
<line x1='1857.30' y1='1650.50' x2='1857.30' y2='1850.80' stroke='#dcdcdc' stroke-width='1.2'/>
<line x1='1825.95' y1='1650.50' x2='1825.95' y2='1850.80' stroke='#dcdcdc' stroke-width='1.2'/>
<line x1='1794.60' y1='1650.50' x2='1794.60' y2='1850.80' stroke='#dcdcdc' stroke-width='1.2'/>
<line x1='1763.25' y1='1650.50' x2='1763.25' y2='1850.80' stroke='#dcdcdc' stroke-width='1.2'/>
<line x1='1731.90' y1='1650.50' x2='1731.90' y2='1850.80' stroke='#dcdcdc' stroke-width='1.2'/>
<line x1='1700.55' y1='1650.50' x2='1700.55' y2='1850.80' stroke='#dcdcdc' stroke-width='1.2'/>
<line x1='1669.20' y1='1650.50' x2='1669.20' y2='1850.80' stroke='#dcdcdc' stroke-width='1.2'/>
<line x1='1637.85' y1='1650.50' x2='1637.85' y2='1850.80' stroke='#dcdcdc' stroke-width='1.2'/>
<line x1='1606.50' y1='1650.50' x2='1606.50' y2='1850.80' stroke='#dcdcdc' stroke-width='1.2'/>
<line x1='1588.40' y1='1825.76' x2='1920.00' y2='1825.76' stroke='#dcdcdc' stroke-width='1.2'/>
<line x1='1588.40' y1='1800.72' x2='1920.00' y2='1800.72' stroke='#dcdcdc' stroke-width='1.2'/>
<line x1='1588.40' y1='1775.69' x2='1920.00' y2='1775.69' stroke='#dcdcdc' stroke-width='1.2'/>
<line x1='1588.40' y1='1750.65' x2='1920.00' y2='1750.65' stroke='#dcdcdc' stroke-width='1.2'/>
<line x1='1588.40' y1='1725.61' x2='1920.00' y2='1725.61' stroke='#dcdcdc' stroke-width='1.2'/>
<line x1='1588.40' y1='1700.58' x2='1920.00' y2='1700.58' stroke='#dcdcdc' stroke-width='1.2'/>
<line x1='1588.40' y1='1675.54' x2='1920.00' y2='1675.54' stroke='#dcdcdc' stroke-width='1.2'/>
<rect x='1588.40' y='1650.50' width='331.60' height='200.30' fill='none' stroke='#231f20' stroke-width='2.2'/>
<line x1='1920.00' y1='1850.80' x2='1926.50' y2='1850.80' stroke='#555' stroke-width='1.6'/>
<line x1='1575.90' y1='1850.80' x2='1588.40' y2='1850.80' stroke='#231f20' stroke-width='1.6'/>
<text x='1571.90' y='1859.80' font-size='25.5' text-anchor='end' font-weight='normal' font-style='normal' fill='#231f20'>0</text>
<line x1='1575.90' y1='1800.72' x2='1588.40' y2='1800.72' stroke='#231f20' stroke-width='1.6'/>
<text x='1571.90' y='1809.72' font-size='25.5' text-anchor='end' font-weight='normal' font-style='normal' fill='#231f20'>0.4</text>
<line x1='1575.90' y1='1750.65' x2='1588.40' y2='1750.65' stroke='#231f20' stroke-width='1.6'/>
<text x='1571.90' y='1759.65' font-size='25.5' text-anchor='end' font-weight='normal' font-style='normal' fill='#231f20'>0.8</text>
<line x1='1575.90' y1='1700.58' x2='1588.40' y2='1700.58' stroke='#231f20' stroke-width='1.6'/>
<text x='1571.90' y='1709.58' font-size='25.5' text-anchor='end' font-weight='normal' font-style='normal' fill='#231f20'>1.2</text>
<line x1='1606.50' y1='1850.80' x2='1606.50' y2='1857.80' stroke='#555' stroke-width='1.6'/>
<text x='1606.50' y='1881.50' font-size='25.5' text-anchor='middle' font-weight='normal' font-style='normal' fill='#231f20'>100</text>
<line x1='1669.20' y1='1850.80' x2='1669.20' y2='1857.80' stroke='#555' stroke-width='1.6'/>
<text x='1669.20' y='1881.50' font-size='25.5' text-anchor='middle' font-weight='normal' font-style='normal' fill='#231f20'>80</text>
<line x1='1731.90' y1='1850.80' x2='1731.90' y2='1857.80' stroke='#555' stroke-width='1.6'/>
<text x='1731.90' y='1881.50' font-size='25.5' text-anchor='middle' font-weight='normal' font-style='normal' fill='#231f20'>60</text>
<line x1='1794.60' y1='1850.80' x2='1794.60' y2='1857.80' stroke='#555' stroke-width='1.6'/>
<text x='1794.60' y='1881.50' font-size='25.5' text-anchor='middle' font-weight='normal' font-style='normal' fill='#231f20'>40</text>
<line x1='1857.30' y1='1850.80' x2='1857.30' y2='1857.80' stroke='#555' stroke-width='1.6'/>
<text x='1857.30' y='1881.50' font-size='25.5' text-anchor='middle' font-weight='normal' font-style='normal' fill='#231f20'>20</text>
<line x1='1920.00' y1='1850.80' x2='1920.00' y2='1857.80' stroke='#555' stroke-width='1.6'/>
<text x='1921.00' y='1881.50' font-size='25.5' text-anchor='middle' font-weight='normal' font-style='normal' fill='#231f20'>0</text>
<polyline points='1589.28,1796.73 1593.40,1788.48 1596.50,1776.11 1599.59,1765.80 1602.27,1754.46 1604.75,1742.08 1608.25,1745.18 1610.93,1759.61 1614.03,1774.05 1616.71,1786.42 1620.21,1794.26 1623.31,1794.26 1625.78,1797.76 1628.46,1804.98 1631.56,1809.11 1634.24,1810.14 1637.33,1792.61 1639.81,1778.17 1642.49,1763.74 1645.58,1758.58 1649.09,1762.71 1652.18,1767.45 1654.65,1766.21 1657.34,1764.77 1660.43,1768.89 1663.52,1771.99 1666.62,1769.51 1669.71,1769.51 1672.80,1775.08 1675.28,1782.30 1677.96,1786.42 1681.05,1792.61 1684.15,1803.95 1687.24,1815.29 1690.33,1815.29 1693.01,1802.92 1695.49,1784.36 1697.96,1765.80 1700.64,1755.49 1703.74,1749.30 1707.24,1746.21 1709.92,1761.67 1713.02,1784.36 1716.11,1815.29 1719.20,1825.61 1722.30,1829.73 1725.39,1825.61 1728.07,1819.42 1730.55,1807.04 1733.64,1790.55 1736.73,1778.17 1739.83,1770.95 1742.92,1766.83 1746.01,1769.92 1748.69,1775.08 1751.58,1777.14 1754.26,1775.08 1757.36,1771.99 1760.45,1777.14 1763.54,1785.39 1766.64,1796.73 1768.70,1807.04 1771.79,1813.23 1774.89,1816.33 1777.57,1811.17 1780.45,1802.92 1783.13,1790.55 1786.23,1771.99 1789.32,1753.43 1792.41,1740.02 1796.54,1734.86 1801.70,1729.09 1804.79,1732.80 1807.88,1741.05 1810.98,1748.27 1814.07,1759.61 1817.16,1771.99 1819.22,1781.27 1822.32,1784.36 1825.41,1794.67 1827.47,1804.98 1830.57,1810.14 1833.66,1804.98 1836.75,1798.80 1839.85,1786.42 1842.94,1767.86 1845.62,1749.30 1848.10,1736.93 1850.57,1730.74 1854.28,1728.27 1857.38,1732.80 1860.06,1740.02 1862.53,1732.80 1865.63,1734.86 1868.72,1742.08 1871.19,1751.36 1873.88,1758.58 1876.97,1761.67 1880.68,1764.77 1883.57,1768.89 1886.25,1788.48 1888.31,1809.11 1889.96,1823.54 1892.44,1835.50 1895.53,1828.70 1898.62,1822.10 1901.72,1821.07 1904.81,1823.54 1906.87,1831.79 1909.96,1840.04 1913.06,1848.29 1915.12,1847.26 1918.21,1835.92' fill='none' stroke='#0ea0cf' stroke-width='2.6' stroke-linejoin='round' stroke-linecap='round'/>
<polygon points='1595.89,1665.16 1616.49,1665.16 1606.19,1682.86' fill='#0aa0d0'/>
<polygon points='1647.65,1665.16 1668.25,1665.16 1657.95,1682.86' fill='#0aa0d0'/>
<polygon points='1696.53,1665.16 1717.13,1665.16 1706.83,1682.86' fill='#0aa0d0'/>
<polygon points='1736.74,1665.16 1757.34,1665.16 1747.04,1682.86' fill='#0aa0d0'/>
<polygon points='1788.92,1665.16 1809.52,1665.16 1799.22,1682.86' fill='#0aa0d0'/>
<polygon points='1843.98,1665.16 1864.58,1665.16 1854.28,1682.86' fill='#0aa0d0'/>
<polygon points='1640.86,1799.83 1649.06,1799.83 1644.96,1792.83' fill='#0aa0d0'/>
<polygon points='1652.62,1799.83 1660.82,1799.83 1656.72,1792.83' fill='#0aa0d0'/>
<polygon points='1664.58,1799.83 1672.78,1799.83 1668.68,1792.83' fill='#0aa0d0'/>
<polygon points='1737.38,1799.83 1745.58,1799.83 1741.48,1792.83' fill='#0aa0d0'/>
<polygon points='1752.64,1799.83 1760.84,1799.83 1756.74,1792.83' fill='#0aa0d0'/>
<polygon points='1848.74,1765.18 1856.94,1765.18 1852.84,1758.18' fill='#0aa0d0'/>
<polygon points='1859.05,1765.18 1867.25,1765.18 1863.15,1758.18' fill='#0aa0d0'/>
<text x='1522.30' y='1764.00' font-size='26.2' text-anchor='middle' font-weight='normal' font-style='normal' fill='#231f20' transform='rotate(-90 1522.30 1764.00)'>height difference (nm)</text>
<line x1='1889.35' y1='2224.00' x2='1889.35' y2='2424.50' stroke='#dcdcdc' stroke-width='1.2'/>
<line x1='1858.00' y1='2224.00' x2='1858.00' y2='2424.50' stroke='#dcdcdc' stroke-width='1.2'/>
<line x1='1826.65' y1='2224.00' x2='1826.65' y2='2424.50' stroke='#dcdcdc' stroke-width='1.2'/>
<line x1='1795.30' y1='2224.00' x2='1795.30' y2='2424.50' stroke='#dcdcdc' stroke-width='1.2'/>
<line x1='1763.95' y1='2224.00' x2='1763.95' y2='2424.50' stroke='#dcdcdc' stroke-width='1.2'/>
<line x1='1732.60' y1='2224.00' x2='1732.60' y2='2424.50' stroke='#dcdcdc' stroke-width='1.2'/>
<line x1='1701.25' y1='2224.00' x2='1701.25' y2='2424.50' stroke='#dcdcdc' stroke-width='1.2'/>
<line x1='1669.90' y1='2224.00' x2='1669.90' y2='2424.50' stroke='#dcdcdc' stroke-width='1.2'/>
<line x1='1638.55' y1='2224.00' x2='1638.55' y2='2424.50' stroke='#dcdcdc' stroke-width='1.2'/>
<line x1='1607.20' y1='2224.00' x2='1607.20' y2='2424.50' stroke='#dcdcdc' stroke-width='1.2'/>
<line x1='1588.70' y1='2399.44' x2='1920.70' y2='2399.44' stroke='#dcdcdc' stroke-width='1.2'/>
<line x1='1588.70' y1='2374.38' x2='1920.70' y2='2374.38' stroke='#dcdcdc' stroke-width='1.2'/>
<line x1='1588.70' y1='2349.31' x2='1920.70' y2='2349.31' stroke='#dcdcdc' stroke-width='1.2'/>
<line x1='1588.70' y1='2324.25' x2='1920.70' y2='2324.25' stroke='#dcdcdc' stroke-width='1.2'/>
<line x1='1588.70' y1='2299.19' x2='1920.70' y2='2299.19' stroke='#dcdcdc' stroke-width='1.2'/>
<line x1='1588.70' y1='2274.12' x2='1920.70' y2='2274.12' stroke='#dcdcdc' stroke-width='1.2'/>
<line x1='1588.70' y1='2249.06' x2='1920.70' y2='2249.06' stroke='#dcdcdc' stroke-width='1.2'/>
<rect x='1588.70' y='2224.00' width='332.00' height='200.50' fill='none' stroke='#231f20' stroke-width='2.2'/>
<line x1='1920.70' y1='2424.50' x2='1927.20' y2='2424.50' stroke='#555' stroke-width='1.6'/>
<line x1='1576.20' y1='2424.50' x2='1588.70' y2='2424.50' stroke='#231f20' stroke-width='1.6'/>
<text x='1572.20' y='2433.50' font-size='25.5' text-anchor='end' font-weight='normal' font-style='normal' fill='#231f20'>0</text>
<line x1='1576.20' y1='2374.38' x2='1588.70' y2='2374.38' stroke='#231f20' stroke-width='1.6'/>
<text x='1572.20' y='2383.38' font-size='25.5' text-anchor='end' font-weight='normal' font-style='normal' fill='#231f20'>0.4</text>
<line x1='1576.20' y1='2324.25' x2='1588.70' y2='2324.25' stroke='#231f20' stroke-width='1.6'/>
<text x='1572.20' y='2333.25' font-size='25.5' text-anchor='end' font-weight='normal' font-style='normal' fill='#231f20'>0.8</text>
<line x1='1576.20' y1='2274.12' x2='1588.70' y2='2274.12' stroke='#231f20' stroke-width='1.6'/>
<text x='1572.20' y='2283.12' font-size='25.5' text-anchor='end' font-weight='normal' font-style='normal' fill='#231f20'>1.2</text>
<line x1='1607.20' y1='2424.50' x2='1607.20' y2='2431.50' stroke='#555' stroke-width='1.6'/>
<text x='1607.20' y='2460.40' font-size='25.5' text-anchor='middle' font-weight='normal' font-style='normal' fill='#231f20'>100</text>
<line x1='1669.90' y1='2424.50' x2='1669.90' y2='2431.50' stroke='#555' stroke-width='1.6'/>
<text x='1669.90' y='2460.40' font-size='25.5' text-anchor='middle' font-weight='normal' font-style='normal' fill='#231f20'>80</text>
<line x1='1732.60' y1='2424.50' x2='1732.60' y2='2431.50' stroke='#555' stroke-width='1.6'/>
<text x='1732.60' y='2460.40' font-size='25.5' text-anchor='middle' font-weight='normal' font-style='normal' fill='#231f20'>60</text>
<line x1='1795.30' y1='2424.50' x2='1795.30' y2='2431.50' stroke='#555' stroke-width='1.6'/>
<text x='1795.30' y='2460.40' font-size='25.5' text-anchor='middle' font-weight='normal' font-style='normal' fill='#231f20'>40</text>
<line x1='1858.00' y1='2424.50' x2='1858.00' y2='2431.50' stroke='#555' stroke-width='1.6'/>
<text x='1858.00' y='2460.40' font-size='25.5' text-anchor='middle' font-weight='normal' font-style='normal' fill='#231f20'>20</text>
<line x1='1920.70' y1='2424.50' x2='1920.70' y2='2431.50' stroke='#555' stroke-width='1.6'/>
<text x='1921.70' y='2460.40' font-size='25.5' text-anchor='middle' font-weight='normal' font-style='normal' fill='#231f20'>0</text>
<polyline points='1690.95,2341.99 1694.46,2351.27 1697.55,2349.20 1700.64,2335.80 1703.74,2323.01 1706.83,2326.52 1709.92,2332.71 1713.02,2332.29 1716.11,2323.43 1719.20,2311.05 1722.30,2299.71 1725.39,2289.40 1728.07,2288.37 1730.55,2298.68 1733.64,2304.86 1737.35,2306.93 1740.86,2300.74 1743.95,2283.21 1747.04,2282.18 1750.14,2289.40 1753.64,2293.52 1756.94,2286.30 1759.83,2278.06 1763.13,2286.30 1766.64,2292.49 1769.32,2295.58 1772.41,2304.86 1775.92,2302.80 1778.60,2289.40 1781.07,2283.21 1784.17,2277.02 1787.88,2275.99 1790.77,2292.49 1794.48,2308.99 1797.57,2302.80 1800.66,2282.18 1803.76,2277.64 1806.85,2288.37 1809.94,2299.71 1813.04,2299.71 1816.13,2289.40 1819.22,2281.15 1822.32,2272.90 1825.41,2269.81 1828.50,2272.90 1831.60,2281.15 1834.69,2290.43 1838.20,2297.65 1841.50,2294.55 1845.00,2290.43 1847.68,2280.12 1850.57,2272.90 1853.25,2288.37 1856.35,2308.99 1860.06,2324.46 1862.94,2308.99 1866.24,2290.43 1868.72,2280.12 1871.81,2280.12 1875.32,2286.30 1878.62,2300.74 1882.12,2308.99 1885.22,2304.86 1888.31,2300.74 1891.40,2295.58 1894.50,2299.71 1897.59,2315.18 1900.68,2339.92 1903.78,2364.67 1906.87,2372.92 1909.96,2379.11 1913.06,2387.36 1916.15,2396.64 1919.25,2413.13' fill='none' stroke='#df1b7f' stroke-width='2.6' stroke-linejoin='round' stroke-linecap='round'/>
<polygon points='1694.32,2229.59 1711.92,2229.59 1703.12,2250.19' fill='#df1b7f'/>
<polygon points='1719.68,2229.59 1737.28,2229.59 1728.48,2250.19' fill='#df1b7f'/>
<polygon points='1739.28,2229.59 1756.88,2229.59 1748.08,2250.19' fill='#df1b7f'/>
<polygon points='1751.86,2229.59 1769.46,2229.59 1760.66,2250.19' fill='#df1b7f'/>
<polygon points='1780.73,2229.59 1798.33,2229.59 1789.53,2250.19' fill='#df1b7f'/>
<polygon points='1796.61,2229.59 1814.21,2229.59 1805.41,2250.19' fill='#df1b7f'/>
<polygon points='1818.67,2229.59 1836.27,2229.59 1827.47,2250.19' fill='#df1b7f'/>
<polygon points='1844.45,2229.59 1862.05,2229.59 1853.25,2250.19' fill='#df1b7f'/>
<polygon points='1863.63,2229.59 1881.23,2229.59 1872.43,2250.19' fill='#df1b7f'/>
<polygon points='1886.11,2229.59 1903.71,2229.59 1894.91,2250.19' fill='#df1b7f'/>
<text x='1522.30' y='2336.00' font-size='26.2' text-anchor='middle' font-weight='normal' font-style='normal' fill='#231f20' transform='rotate(-90 1522.30 2336.00)'>height difference (nm)</text>
<text x='1747.30' y='2488.90' font-size='26.2' text-anchor='middle' font-weight='normal' font-style='normal' fill='#231f20'>distance from spiral center (nm)</text>
<rect x='1133.37' y='2225.00' width='17.77' height='200.10' fill='#cdebf3' stroke='none' stroke-width='0'/>
<rect x='1172.64' y='2225.00' width='25.25' height='200.10' fill='#fcf6d4' stroke='none' stroke-width='0'/>
<rect x='1216.59' y='2225.00' width='17.77' height='200.10' fill='#cdebf3' stroke='none' stroke-width='0'/>
<rect x='1249.32' y='2225.00' width='24.31' height='200.10' fill='#fcf6d4' stroke='none' stroke-width='0'/>
<rect x='1296.07' y='2225.00' width='16.83' height='200.10' fill='#cdebf3' stroke='none' stroke-width='0'/>
<line x1='1141.47' y1='2225.00' x2='1141.47' y2='2425.10' stroke='#d4d4d4' stroke-width='1.1' opacity='0.8'/>
<line x1='1172.64' y1='2225.00' x2='1172.64' y2='2425.10' stroke='#d4d4d4' stroke-width='1.1' opacity='0.8'/>
<line x1='1203.81' y1='2225.00' x2='1203.81' y2='2425.10' stroke='#d4d4d4' stroke-width='1.1' opacity='0.8'/>
<line x1='1234.98' y1='2225.00' x2='1234.98' y2='2425.10' stroke='#d4d4d4' stroke-width='1.1' opacity='0.8'/>
<line x1='1266.15' y1='2225.00' x2='1266.15' y2='2425.10' stroke='#d4d4d4' stroke-width='1.1' opacity='0.8'/>
<line x1='1297.32' y1='2225.00' x2='1297.32' y2='2425.10' stroke='#d4d4d4' stroke-width='1.1' opacity='0.8'/>
<line x1='1328.49' y1='2225.00' x2='1328.49' y2='2425.10' stroke='#d4d4d4' stroke-width='1.1' opacity='0.8'/>
<line x1='1359.66' y1='2225.00' x2='1359.66' y2='2425.10' stroke='#d4d4d4' stroke-width='1.1' opacity='0.8'/>
<line x1='1390.83' y1='2225.00' x2='1390.83' y2='2425.10' stroke='#d4d4d4' stroke-width='1.1' opacity='0.8'/>
<line x1='1422.00' y1='2225.00' x2='1422.00' y2='2425.10' stroke='#d4d4d4' stroke-width='1.1' opacity='0.8'/>
<line x1='1110.30' y1='2400.09' x2='1442.40' y2='2400.09' stroke='#d4d4d4' stroke-width='1.1' opacity='0.8'/>
<line x1='1110.30' y1='2375.07' x2='1442.40' y2='2375.07' stroke='#d4d4d4' stroke-width='1.1' opacity='0.8'/>
<line x1='1110.30' y1='2350.06' x2='1442.40' y2='2350.06' stroke='#d4d4d4' stroke-width='1.1' opacity='0.8'/>
<line x1='1110.30' y1='2325.05' x2='1442.40' y2='2325.05' stroke='#d4d4d4' stroke-width='1.1' opacity='0.8'/>
<line x1='1110.30' y1='2300.04' x2='1442.40' y2='2300.04' stroke='#d4d4d4' stroke-width='1.1' opacity='0.8'/>
<line x1='1110.30' y1='2275.03' x2='1442.40' y2='2275.03' stroke='#d4d4d4' stroke-width='1.1' opacity='0.8'/>
<line x1='1110.30' y1='2250.01' x2='1442.40' y2='2250.01' stroke='#d4d4d4' stroke-width='1.1' opacity='0.8'/>
<text x='1149.25' y='2226.50' font-size='20' text-anchor='end' font-weight='normal' font-style='normal' fill='#7d7d7d' transform='rotate(-90 1149.25 2226.50)'>unpaired</text>
<text x='1192.26' y='2422.10' font-size='20' text-anchor='start' font-weight='normal' font-style='normal' fill='#7d7d7d' transform='rotate(-90 1192.26 2422.10)'>paired</text>
<text x='1232.47' y='2226.50' font-size='20' text-anchor='end' font-weight='normal' font-style='normal' fill='#7d7d7d' transform='rotate(-90 1232.47 2226.50)'>unpaired</text>
<text x='1268.47' y='2422.10' font-size='20' text-anchor='start' font-weight='normal' font-style='normal' fill='#7d7d7d' transform='rotate(-90 1268.47 2422.10)'>paired</text>
<text x='1311.49' y='2226.50' font-size='20' text-anchor='end' font-weight='normal' font-style='normal' fill='#7d7d7d' transform='rotate(-90 1311.49 2226.50)'>unpaired</text>
<rect x='1110.30' y='2225.00' width='332.10' height='200.10' fill='none' stroke='#231f20' stroke-width='2.2'/>
<polyline points='1110.84,2424.30 1114.36,2413.46 1118.43,2401.26 1122.50,2384.99 1126.56,2361.95 1130.63,2355.17 1136.86,2342.98 1140.12,2330.78 1143.37,2322.65 1146.89,2328.07 1150.96,2349.75 1156.38,2371.44 1159.63,2366.02 1164.51,2341.62 1168.58,2325.36 1172.65,2295.54 1178.07,2268.43 1182.13,2272.50 1183.49,2277.92 1188.91,2280.63 1194.33,2290.12 1199.75,2311.80 1205.17,2336.20 1210.60,2366.02 1213.31,2374.15 1216.56,2375.51 1220.90,2351.11 1225.51,2349.75 1229.57,2368.73 1232.28,2384.99 1237.70,2399.90 1241.77,2393.13 1245.84,2357.89 1249.90,2322.65 1253.97,2303.67 1257.22,2296.89 1263.46,2298.25 1270.23,2307.74 1274.30,2322.65 1281.08,2355.17 1286.50,2379.57 1290.56,2378.22 1295.99,2366.02 1298.70,2359.24 1304.12,2349.75 1308.18,2351.11 1310.89,2368.73 1313.61,2387.70 1317.67,2401.26 1320.38,2409.39' fill='none' stroke='#3d6cbd' stroke-width='2.8' stroke-linejoin='round' stroke-linecap='round'/>
<line x1='1097.30' y1='2425.10' x2='1110.30' y2='2425.10' stroke='#555' stroke-width='1.5'/>
<text x='1092.80' y='2434.10' font-size='25.5' text-anchor='end' font-weight='normal' font-style='normal' fill='#231f20'>0</text>
<line x1='1097.30' y1='2375.07' x2='1110.30' y2='2375.07' stroke='#555' stroke-width='1.5'/>
<text x='1092.80' y='2384.07' font-size='25.5' text-anchor='end' font-weight='normal' font-style='normal' fill='#231f20'>0.8</text>
<line x1='1097.30' y1='2325.05' x2='1110.30' y2='2325.05' stroke='#555' stroke-width='1.5'/>
<text x='1092.80' y='2334.05' font-size='25.5' text-anchor='end' font-weight='normal' font-style='normal' fill='#231f20'>1.6</text>
<line x1='1097.30' y1='2275.03' x2='1110.30' y2='2275.03' stroke='#555' stroke-width='1.5'/>
<text x='1092.80' y='2284.03' font-size='25.5' text-anchor='end' font-weight='normal' font-style='normal' fill='#231f20'>2.4</text>
<line x1='1097.30' y1='2225.00' x2='1110.30' y2='2225.00' stroke='#555' stroke-width='1.5'/>
<text x='1092.80' y='2234.00' font-size='25.5' text-anchor='end' font-weight='normal' font-style='normal' fill='#231f20'>3.2</text>
<line x1='1110.30' y1='2425.10' x2='1110.30' y2='2433.10' stroke='#555' stroke-width='1.5'/>
<text x='1110.30' y='2456.50' font-size='25.5' text-anchor='middle' font-weight='normal' font-style='normal' fill='#231f20'>0</text>
<line x1='1172.64' y1='2425.10' x2='1172.64' y2='2433.10' stroke='#555' stroke-width='1.5'/>
<text x='1172.64' y='2456.50' font-size='25.5' text-anchor='middle' font-weight='normal' font-style='normal' fill='#231f20'>20</text>
<line x1='1234.98' y1='2425.10' x2='1234.98' y2='2433.10' stroke='#555' stroke-width='1.5'/>
<text x='1234.98' y='2456.50' font-size='25.5' text-anchor='middle' font-weight='normal' font-style='normal' fill='#231f20'>40</text>
<line x1='1297.32' y1='2425.10' x2='1297.32' y2='2433.10' stroke='#555' stroke-width='1.5'/>
<text x='1297.32' y='2456.50' font-size='25.5' text-anchor='middle' font-weight='normal' font-style='normal' fill='#231f20'>60</text>
<line x1='1359.66' y1='2425.10' x2='1359.66' y2='2433.10' stroke='#555' stroke-width='1.5'/>
<text x='1359.66' y='2456.50' font-size='25.5' text-anchor='middle' font-weight='normal' font-style='normal' fill='#231f20'>80</text>
<line x1='1422.00' y1='2425.10' x2='1422.00' y2='2433.10' stroke='#555' stroke-width='1.5'/>
<text x='1422.00' y='2456.50' font-size='25.5' text-anchor='middle' font-weight='normal' font-style='normal' fill='#231f20'>100</text>
<text x='1050.70' y='2334.00' font-size='26.2' text-anchor='middle' font-weight='normal' font-style='normal' fill='#231f20' transform='rotate(-90 1050.70 2334.00)'>height difference (nm)</text>
<text x='1271.60' y='2485.30' font-size='26.2' text-anchor='middle' font-weight='normal' font-style='normal' fill='#231f20'>distance from spiral center (nm)</text>
<text x='500.40' y='2484.00' font-size='32.8' text-anchor='middle' font-weight='normal' font-style='normal' fill='#231f20'>Snf7/Vps2/Vps24 (2 : 1 : 1 molar ratio)</text>
<g clip-path='url(#clp1)'>
<rect x='1.00' y='8.00' width='469.00' height='411.20' fill='#ae7e2e' stroke='none' stroke-width='0'/>
<ellipse cx='150.0' cy='54.0' rx='26.0' ry='26.0' fill='none' stroke='#6a2a0c' stroke-width='5' filter='url(#b0)' opacity='0.3'/>
<ellipse cx='150.0' cy='54.0' rx='40.0' ry='40.0' fill='none' stroke='#6a2a0c' stroke-width='5' filter='url(#b0)' opacity='0.3'/>
<ellipse cx='150.0' cy='54.0' rx='54.0' ry='54.0' fill='none' stroke='#6a2a0c' stroke-width='5' filter='url(#b0)' opacity='0.3'/>
<ellipse cx='150.0' cy='54.0' rx='68.0' ry='68.0' fill='none' stroke='#6a2a0c' stroke-width='5' filter='url(#b0)' opacity='0.3'/>
<ellipse cx='271.6' cy='140.0' rx='24.0' ry='24.0' fill='none' stroke='#6a2a0c' stroke-width='5' filter='url(#b0)' opacity='0.3'/>
<ellipse cx='271.6' cy='140.0' rx='38.0' ry='38.0' fill='none' stroke='#6a2a0c' stroke-width='5' filter='url(#b0)' opacity='0.3'/>
<ellipse cx='271.6' cy='140.0' rx='52.0' ry='52.0' fill='none' stroke='#6a2a0c' stroke-width='5' filter='url(#b0)' opacity='0.3'/>
<ellipse cx='399.0' cy='134.0' rx='24.0' ry='24.0' fill='none' stroke='#6a2a0c' stroke-width='5' filter='url(#b0)' opacity='0.3'/>
<ellipse cx='399.0' cy='134.0' rx='38.0' ry='38.0' fill='none' stroke='#6a2a0c' stroke-width='5' filter='url(#b0)' opacity='0.3'/>
<ellipse cx='399.0' cy='134.0' rx='52.0' ry='52.0' fill='none' stroke='#6a2a0c' stroke-width='5' filter='url(#b0)' opacity='0.3'/>
<ellipse cx='147.0' cy='252.0' rx='30.0' ry='30.0' fill='none' stroke='#6a2a0c' stroke-width='5' filter='url(#b0)' opacity='0.3'/>
<ellipse cx='147.0' cy='252.0' rx='44.0' ry='44.0' fill='none' stroke='#6a2a0c' stroke-width='5' filter='url(#b0)' opacity='0.3'/>
<ellipse cx='147.0' cy='252.0' rx='58.0' ry='58.0' fill='none' stroke='#6a2a0c' stroke-width='5' filter='url(#b0)' opacity='0.3'/>
<ellipse cx='147.0' cy='252.0' rx='72.0' ry='72.0' fill='none' stroke='#6a2a0c' stroke-width='5' filter='url(#b0)' opacity='0.3'/>
<ellipse cx='147.0' cy='252.0' rx='86.0' ry='86.0' fill='none' stroke='#6a2a0c' stroke-width='5' filter='url(#b0)' opacity='0.3'/>
<ellipse cx='147.0' cy='252.0' rx='100.0' ry='100.0' fill='none' stroke='#6a2a0c' stroke-width='5' filter='url(#b0)' opacity='0.3'/>
<ellipse cx='342.0' cy='270.0' rx='26.0' ry='26.0' fill='none' stroke='#6a2a0c' stroke-width='5' filter='url(#b0)' opacity='0.3'/>
<ellipse cx='342.0' cy='270.0' rx='40.0' ry='40.0' fill='none' stroke='#6a2a0c' stroke-width='5' filter='url(#b0)' opacity='0.3'/>
<ellipse cx='342.0' cy='270.0' rx='54.0' ry='54.0' fill='none' stroke='#6a2a0c' stroke-width='5' filter='url(#b0)' opacity='0.3'/>
<ellipse cx='342.0' cy='270.0' rx='68.0' ry='68.0' fill='none' stroke='#6a2a0c' stroke-width='5' filter='url(#b0)' opacity='0.3'/>
<ellipse cx='342.0' cy='270.0' rx='82.0' ry='82.0' fill='none' stroke='#6a2a0c' stroke-width='5' filter='url(#b0)' opacity='0.3'/>
<ellipse cx='317.0' cy='21.0' rx='24.0' ry='24.0' fill='none' stroke='#6a2a0c' stroke-width='5' filter='url(#b0)' opacity='0.3'/>
<ellipse cx='317.0' cy='21.0' rx='38.0' ry='38.0' fill='none' stroke='#6a2a0c' stroke-width='5' filter='url(#b0)' opacity='0.3'/>
<ellipse cx='135.5' cy='158.0' rx='77.0' ry='23.1' fill='#4a1406' filter='url(#b1)' opacity='0.82'/>
<ellipse cx='152.5' cy='110.0' rx='44.6' ry='8.7' fill='#4a1406' filter='url(#b1)' opacity='0.82'/>
<ellipse cx='148.5' cy='93.5' rx='36.2' ry='8.1' fill='#4a1406' filter='url(#b1)' opacity='0.82'/>
<ellipse cx='101.5' cy='131.5' rx='32.6' ry='6.9' fill='#4a1406' filter='url(#b1)' opacity='0.82'/>
<ellipse cx='147.0' cy='183.0' rx='46.4' ry='9.9' fill='#4a1406' filter='url(#b1)' opacity='0.82'/>
<ellipse cx='152.5' cy='20.5' rx='25.4' ry='8.1' fill='#4a1406' filter='url(#b1)' opacity='0.82'/>
<ellipse cx='212.0' cy='140.0' rx='22.4' ry='15.9' fill='#4a1406' filter='url(#b1)' opacity='0.82'/>
<ellipse cx='293.5' cy='67.5' rx='53.0' ry='11.7' fill='#4a1406' filter='url(#b1)' opacity='0.82'/>
<ellipse cx='297.0' cy='85.0' rx='57.2' ry='11.1' fill='#4a1406' filter='url(#b1)' opacity='0.82'/>
<ellipse cx='269.0' cy='102.0' rx='32.0' ry='11.1' fill='#4a1406' filter='url(#b1)' opacity='0.82'/>
<ellipse cx='408.0' cy='54.0' rx='26.0' ry='15.9' fill='#4a1406' filter='url(#b1)' opacity='0.82'/>
<ellipse cx='406.5' cy='84.5' rx='36.2' ry='11.7' fill='#4a1406' filter='url(#b1)' opacity='0.82'/>
<ellipse cx='450.0' cy='54.5' rx='20.0' ry='10.5' fill='#4a1406' filter='url(#b1)' opacity='0.82'/>
<ellipse cx='459.0' cy='80.5' rx='9.2' ry='12.9' fill='#4a1406' filter='url(#b1)' opacity='0.82'/>
<ellipse cx='410.0' cy='172.5' rx='32.0' ry='10.5' fill='#4a1406' filter='url(#b1)' opacity='0.82'/>
<ellipse cx='417.0' cy='189.5' rx='22.4' ry='10.5' fill='#4a1406' filter='url(#b1)' opacity='0.82'/>
<ellipse cx='274.5' cy='183.0' rx='25.4' ry='9.9' fill='#4a1406' filter='url(#b1)' opacity='0.82'/>
<ellipse cx='273.0' cy='200.5' rx='23.6' ry='9.3' fill='#4a1406' filter='url(#b1)' opacity='0.82'/>
<ellipse cx='357.0' cy='168.0' rx='18.8' ry='11.1' fill='#4a1406' filter='url(#b1)' opacity='0.82'/>
<ellipse cx='460.5' cy='162.5' rx='7.4' ry='12.9' fill='#4a1406' filter='url(#b1)' opacity='0.82'/>
<ellipse cx='49.5' cy='245.0' rx='19.4' ry='14.7' fill='#4a1406' filter='url(#b1)' opacity='0.82'/>
<ellipse cx='141.5' cy='305.0' rx='53.0' ry='13.5' fill='#4a1406' filter='url(#b1)' opacity='0.82'/>
<ellipse cx='127.5' cy='325.5' rx='69.8' ry='20.1' fill='#4a1406' filter='url(#b1)' opacity='0.82'/>
<ellipse cx='81.5' cy='339.0' rx='31.4' ry='12.3' fill='#4a1406' filter='url(#b1)' opacity='0.82'/>
<ellipse cx='99.0' cy='360.0' rx='44.0' ry='9.9' fill='#4a1406' filter='url(#b1)' opacity='0.82'/>
<ellipse cx='185.0' cy='367.0' rx='34.4' ry='13.5' fill='#4a1406' filter='url(#b1)' opacity='0.82'/>
<ellipse cx='233.0' cy='332.5' rx='10.4' ry='38.1' fill='#4a1406' filter='url(#b1)' opacity='0.82'/>
<ellipse cx='445.0' cy='318.0' rx='26.0' ry='29.1' fill='#4a1406' filter='url(#b1)' opacity='0.82'/>
<ellipse cx='453.5' cy='275.5' rx='15.8' ry='21.3' fill='#4a1406' filter='url(#b1)' opacity='0.82'/>
<ellipse cx='252.5' cy='394.0' rx='15.8' ry='18.3' fill='#4a1406' filter='url(#b1)' opacity='0.82'/>
<ellipse cx='250.0' cy='330.5' rx='26.0' ry='14.1' fill='#4a1406' filter='url(#b1)' opacity='0.82'/>
<ellipse cx='255.0' cy='348.0' rx='32.0' ry='12.3' fill='#4a1406' filter='url(#b1)' opacity='0.82'/>
<ellipse cx='341.5' cy='339.0' rx='20.6' ry='12.3' fill='#4a1406' filter='url(#b1)' opacity='0.82'/>
<ellipse cx='336.0' cy='357.0' rx='27.2' ry='9.9' fill='#4a1406' filter='url(#b1)' opacity='0.82'/>
<ellipse cx='417.5' cy='374.5' rx='23.0' ry='21.3' fill='#4a1406' filter='url(#b1)' opacity='0.82'/>
<ellipse cx='396.0' cy='399.5' rx='23.6' ry='8.1' fill='#4a1406' filter='url(#b1)' opacity='0.82'/>
<ellipse cx='350.0' cy='377.0' rx='18.8' ry='18.3' fill='#4a1406' filter='url(#b1)' opacity='0.82'/>
<ellipse cx='258.0' cy='212.0' rx='18.8' ry='12.3' fill='#4a1406' filter='url(#b1)' opacity='0.82'/>
<ellipse cx='339.5' cy='210.5' rx='23.0' ry='10.5' fill='#4a1406' filter='url(#b1)' opacity='0.82'/>
<ellipse cx='424.5' cy='210.5' rx='14.6' ry='10.5' fill='#4a1406' filter='url(#b1)' opacity='0.82'/>
<ellipse cx='300.5' cy='297.0' rx='19.4' ry='12.3' fill='#4a1406' filter='url(#b1)' opacity='0.82'/>
<ellipse cx='20.5' cy='247.0' rx='19.4' ry='9.9' fill='#4a1406' filter='url(#b1)' opacity='0.82'/>
<ellipse cx='13.0' cy='263.0' rx='10.4' ry='8.7' fill='#4a1406' filter='url(#b1)' opacity='0.82'/>
<ellipse cx='127.5' cy='158.0' rx='52.3' ry='13.2' fill='#140302' filter='url(#b2)' opacity='0.9'/>
<ellipse cx='326.0' cy='102.5' rx='15.4' ry='5.0' fill='#140302' filter='url(#b2)' opacity='0.9'/>
<ellipse cx='407.5' cy='55.0' rx='19.2' ry='7.7' fill='#140302' filter='url(#b2)' opacity='0.9'/>
<ellipse cx='445.0' cy='320.0' rx='22.0' ry='16.5' fill='#140302' filter='url(#b2)' opacity='0.9'/>
<ellipse cx='252.5' cy='395.0' rx='12.7' ry='11.0' fill='#140302' filter='url(#b2)' opacity='0.9'/>
<ellipse cx='99.0' cy='360.0' rx='38.5' ry='4.4' fill='#140302' filter='url(#b2)' opacity='0.9'/>
<ellipse cx='132.5' cy='322.0' rx='46.8' ry='4.4' fill='#140302' filter='url(#b2)' opacity='0.9'/>
<ellipse cx='11.5' cy='92.0' rx='6.1' ry='7.7' fill='#140302' filter='url(#b2)' opacity='0.9'/>
<ellipse cx='10.0' cy='109.0' rx='4.4' ry='4.4' fill='#140302' filter='url(#b2)' opacity='0.9'/>
<ellipse cx='18.0' cy='247.5' rx='13.2' ry='3.9' fill='#140302' filter='url(#b2)' opacity='0.9'/>
<ellipse cx='140.0' cy='334.0' rx='44.0' ry='3.3' fill='#140302' filter='url(#b2)' opacity='0.9'/>
<ellipse cx='358.5' cy='87.5' rx='11.7' ry='8.1' fill='#f4e8c8' filter='url(#b3)' opacity='0.8'/>
<ellipse cx='326.5' cy='138.0' rx='9.3' ry='14.7' fill='#f4e8c8' filter='url(#b3)' opacity='0.7'/>
<ellipse cx='423.0' cy='129.0' rx='7.5' ry='15.9' fill='#e8dca0' filter='url(#b3)' opacity='0.7'/>
<ellipse cx='236.5' cy='31.5' rx='9.3' ry='14.1' fill='#e8d498' filter='url(#b3)' opacity='0.6'/>
<ellipse cx='377.0' cy='191.0' rx='29.1' ry='9.9' fill='#e0cc80' filter='url(#b3)' opacity='0.6'/>
<ellipse cx='375.5' cy='267.0' rx='18.9' ry='8.7' fill='#ecdca0' filter='url(#b3)' opacity='0.7'/>
<ellipse cx='129.0' cy='342.5' rx='15.9' ry='5.7' fill='#f0e0b0' filter='url(#b3)' opacity='0.7'/>
<ellipse cx='141.5' cy='359.5' rx='10.5' ry='5.7' fill='#f0e0b0' filter='url(#b3)' opacity='0.7'/>
<ellipse cx='320.5' cy='398.0' rx='8.1' ry='20.7' fill='#e8d498' filter='url(#b3)' opacity='0.6'/>
<ellipse cx='40.0' cy='245.0' rx='25.5' ry='103.5' fill='#c89a44' filter='url(#b3)' opacity='0.6'/>
<ellipse cx='195.0' cy='35.0' rx='43.5' ry='19.5' fill='#c4963e' filter='url(#b3)' opacity='0.5'/>
<ellipse cx='147.0' cy='252.0' rx='24.0' ry='24.0' fill='none' stroke='#ecd8a0' stroke-width='10' filter='url(#b4)' opacity='0.6'/>
<path d='M327.0,350.2 L325.6,349.8 L324.1,349.4 L322.7,348.9 L321.2,348.4 L319.8,347.9 L318.4,347.4 L317.0,346.8 L315.6,346.2 L314.2,345.6 L312.8,345.0 L311.4,344.3 L310.1,343.6 L308.8,342.9 L307.4,342.1 L306.1,341.3 L304.8,340.5 L303.6,339.7 L302.3,338.9 L301.0,338.0 L299.8,337.1 L298.6,336.2 L297.4,335.3 L296.2,334.3 L295.1,333.3 L293.9,332.3 L292.8,331.3 L291.7,330.2 L290.6,329.2 L289.6,328.1 L288.5,327.0 L287.5,325.9 L286.5,324.7 L285.5,323.5 L284.6,322.4 L283.6,321.2 L282.7,320.0 L281.8,318.7 L281.0,317.5 L280.1,316.2 L279.3,314.9' fill='none' stroke='#fff6e4' stroke-width='11' stroke-linecap='round' filter='url(#b5)' opacity='0.8'/>
<path d='M402.2,332.2 L401.2,333.1 L400.2,334.0 L399.1,334.8 L398.1,335.7 L397.0,336.5 L396.0,337.3 L394.9,338.1 L393.8,338.8 L392.6,339.6 L391.5,340.3 L390.4,341.0 L389.2,341.7 L388.1,342.4 L386.9,343.0 L385.7,343.7 L384.5,344.3 L383.3,344.9 L382.1,345.5 L380.9,346.0 L379.6,346.6 L378.4,347.1 L377.2,347.6 L375.9,348.0 L374.6,348.5 L373.4,348.9 L372.1,349.3 L370.8,349.7 L369.5,350.1 L368.2,350.4 L366.9,350.8 L365.6,351.1 L364.3,351.3 L363.0,351.6 L361.6,351.8 L360.3,352.1 L359.0,352.3 L357.7,352.4 L356.3,352.6 L355.0,352.7 L353.7,352.8' fill='none' stroke='#fff6e4' stroke-width='12' stroke-linecap='round' filter='url(#b5)' opacity='0.8'/>
<path d='M269.8,293.0 L269.4,291.8 L269.2,290.6 L268.9,289.4 L268.6,288.1 L268.4,286.9 L268.2,285.7 L268.0,284.5 L267.8,283.3 L267.6,282.0 L267.5,280.8 L267.4,279.6 L267.2,278.4 L267.2,277.1 L267.1,275.9 L267.0,274.7 L267.0,273.4 L267.0,272.2 L267.0,270.9 L267.0,269.7 L267.1,268.5 L267.1,267.2 L267.2,266.0 L267.3,264.8 L267.4,263.5 L267.6,262.3 L267.7,261.1 L267.9,259.9 L268.1,258.6 L268.3,257.4 L268.6,256.2 L268.8,255.0 L269.1,253.8 L269.4,252.6 L269.7,251.4 L270.0,250.2 L270.3,249.0 L270.7,247.8 L271.1,246.6 L271.5,245.5 L271.9,244.3' fill='none' stroke='#f0e0b8' stroke-width='9' stroke-linecap='round' filter='url(#b5)' opacity='0.65'/>
<ellipse cx='150.0' cy='54.0' rx='15.0' ry='14.0' fill='#5a1206' filter='url(#b4)' opacity='0.8'/>
<ellipse cx='150.0' cy='54.0' rx='11.0' ry='11.0' fill='#140302' filter='url(#b6)'/>
<ellipse cx='319.0' cy='22.0' rx='14.0' ry='13.0' fill='#5a1206' filter='url(#b4)' opacity='0.8'/>
<ellipse cx='319.0' cy='22.0' rx='10.0' ry='10.0' fill='#140302' filter='url(#b6)'/>
<ellipse cx='271.6' cy='140.0' rx='16.0' ry='15.0' fill='#5a1206' filter='url(#b4)' opacity='0.8'/>
<ellipse cx='271.6' cy='140.0' rx='12.0' ry='12.0' fill='#140302' filter='url(#b6)'/>
<ellipse cx='397.0' cy='133.0' rx='16.0' ry='15.0' fill='#5a1206' filter='url(#b4)' opacity='0.8'/>
<ellipse cx='397.0' cy='133.0' rx='12.0' ry='12.0' fill='#140302' filter='url(#b6)'/>
<ellipse cx='147.0' cy='252.0' rx='15.0' ry='14.0' fill='#5a1206' filter='url(#b4)' opacity='0.8'/>
<ellipse cx='147.0' cy='252.0' rx='11.0' ry='11.0' fill='#140302' filter='url(#b6)'/>
<ellipse cx='342.0' cy='269.0' rx='15.0' ry='14.0' fill='#5a1206' filter='url(#b4)' opacity='0.8'/>
<ellipse cx='342.0' cy='269.0' rx='11.0' ry='11.0' fill='#140302' filter='url(#b6)'/>
<ellipse cx='252.0' cy='393.0' rx='15.0' ry='14.0' fill='#5a1206' filter='url(#b4)' opacity='0.8'/>
<ellipse cx='252.0' cy='393.0' rx='11.0' ry='11.0' fill='#140302' filter='url(#b6)'/>
<rect x='3.0' y='10.0' width='465.0' height='407.2' fill='#808080' filter='url(#nz0)' opacity='0.5' style='mix-blend-mode:overlay'/>
</g>
<ellipse cx='271.6' cy='144.8' rx='62.2' ry='62.2' fill='none' stroke='#ffffff' stroke-width='2.6' stroke-dasharray='2.6 3.2'/>
<ellipse cx='348.0' cy='271.6' rx='93.0' ry='93.0' fill='none' stroke='#ffffff' stroke-width='2.6' stroke-dasharray='2.6 3.2'/>
<rect x='4.50' y='11.50' width='462.00' height='404.20' fill='none' stroke='#231f20' stroke-width='3.0'/>
<rect x='6.00' y='13.00' width='64.50' height='67.50' fill='#2e241c' stroke='none' stroke-width='0' opacity='0.92'/>
<text x='37.00' y='58.00' font-size='40' text-anchor='middle' font-weight='normal' font-style='normal' fill='#ffffff'>a</text>
<rect x='6.00' y='364.70' width='149.60' height='49.50' fill='#2a2018' stroke='none' stroke-width='0' opacity='0.85'/>
<text x='14.00' y='393.40' font-size='29.5' text-anchor='start' font-weight='bold' font-style='normal' fill='#ffffff'>150 nm</text>
<rect x='12.50' y='398.90' width='123.00' height='5.90' fill='#eeeeee' stroke='none' stroke-width='0'/>
<g clip-path='url(#clp2)'>
<rect x='0.50' y='424.40' width='469.00' height='411.20' fill='#4e1e0a' stroke='none' stroke-width='0'/>
<ellipse cx='59.4' cy='459.6' rx='24.7' ry='24.7' fill='#a8782c' filter='url(#b7)'/>
<ellipse cx='123.0' cy='459.6' rx='27.8' ry='27.8' fill='#a8782c' filter='url(#b7)'/>
<ellipse cx='181.0' cy='458.0' rx='23.3' ry='23.3' fill='#a8782c' filter='url(#b7)'/>
<ellipse cx='294.0' cy='441.0' rx='25.8' ry='25.8' fill='#a8782c' filter='url(#b7)'/>
<ellipse cx='352.0' cy='445.0' rx='20.6' ry='20.6' fill='#a8782c' filter='url(#b7)'/>
<ellipse cx='441.0' cy='460.0' rx='24.7' ry='24.7' fill='#a8782c' filter='url(#b7)'/>
<ellipse cx='39.6' cy='503.0' rx='21.6' ry='21.6' fill='#a8782c' filter='url(#b7)'/>
<ellipse cx='90.5' cy='489.0' rx='20.6' ry='20.6' fill='#a8782c' filter='url(#b7)'/>
<ellipse cx='152.8' cy='522.0' rx='38.1' ry='38.1' fill='#a8782c' filter='url(#b7)'/>
<ellipse cx='233.0' cy='493.5' rx='33.5' ry='33.5' fill='#a8782c' filter='url(#b7)'/>
<ellipse cx='305.5' cy='502.0' rx='30.9' ry='30.9' fill='#a8782c' filter='url(#b7)'/>
<ellipse cx='370.6' cy='490.7' rx='24.7' ry='24.7' fill='#a8782c' filter='url(#b7)'/>
<ellipse cx='79.0' cy='529.0' rx='19.0' ry='19.0' fill='#a8782c' filter='url(#b7)'/>
<ellipse cx='28.3' cy='568.5' rx='31.9' ry='31.9' fill='#a8782c' filter='url(#b7)'/>
<ellipse cx='104.7' cy='589.7' rx='35.0' ry='35.0' fill='#a8782c' filter='url(#b7)'/>
<ellipse cx='192.4' cy='582.7' rx='40.8' ry='40.8' fill='#a8782c' filter='url(#b7)'/>
<ellipse cx='235.0' cy='541.6' rx='17.5' ry='17.5' fill='#a8782c' filter='url(#b7)'/>
<ellipse cx='271.6' cy='538.8' rx='14.4' ry='14.4' fill='#a8782c' filter='url(#b7)'/>
<ellipse cx='257.4' cy='578.4' rx='23.3' ry='23.3' fill='#a8782c' filter='url(#b7)'/>
<ellipse cx='321.0' cy='562.9' rx='31.9' ry='31.9' fill='#a8782c' filter='url(#b7)'/>
<ellipse cx='415.8' cy='550.0' rx='43.3' ry='43.3' fill='#a8782c' filter='url(#b7)'/>
<ellipse cx='48.0' cy='628.0' rx='26.3' ry='26.3' fill='#a8782c' filter='url(#b7)'/>
<ellipse cx='104.7' cy='653.4' rx='24.7' ry='24.7' fill='#a8782c' filter='url(#b7)'/>
<ellipse cx='155.6' cy='643.5' rx='24.7' ry='24.7' fill='#a8782c' filter='url(#b7)'/>
<ellipse cx='220.6' cy='654.8' rx='31.9' ry='31.9' fill='#a8782c' filter='url(#b7)'/>
<ellipse cx='282.9' cy='650.5' rx='31.9' ry='31.9' fill='#a8782c' filter='url(#b7)'/>
<ellipse cx='362.0' cy='633.6' rx='46.4' ry='46.4' fill='#a8782c' filter='url(#b7)'/>
<ellipse cx='441.3' cy='635.0' rx='26.3' ry='26.3' fill='#a8782c' filter='url(#b7)'/>
<ellipse cx='65.0' cy='681.7' rx='21.6' ry='21.6' fill='#a8782c' filter='url(#b7)'/>
<ellipse cx='124.5' cy='705.7' rx='31.9' ry='31.9' fill='#a8782c' filter='url(#b7)'/>
<ellipse cx='192.4' cy='710.0' rx='26.3' ry='26.3' fill='#a8782c' filter='url(#b7)'/>
<ellipse cx='254.6' cy='708.5' rx='27.8' ry='27.8' fill='#a8782c' filter='url(#b7)'/>
<ellipse cx='316.8' cy='702.9' rx='26.3' ry='26.3' fill='#a8782c' filter='url(#b7)'/>
<ellipse cx='401.7' cy='695.8' rx='26.3' ry='26.3' fill='#a8782c' filter='url(#b7)'/>
<ellipse cx='39.6' cy='734.0' rx='38.1' ry='38.1' fill='#a8782c' filter='url(#b7)'/>
<ellipse cx='158.4' cy='748.0' rx='21.6' ry='21.6' fill='#a8782c' filter='url(#b7)'/>
<ellipse cx='110.0' cy='765.0' rx='24.7' ry='24.7' fill='#a8782c' filter='url(#b7)'/>
<ellipse cx='215.0' cy='768.0' rx='28.8' ry='28.8' fill='#a8782c' filter='url(#b7)'/>
<ellipse cx='297.0' cy='787.8' rx='49.4' ry='49.4' fill='#a8782c' filter='url(#b7)'/>
<ellipse cx='365.0' cy='739.7' rx='24.7' ry='24.7' fill='#a8782c' filter='url(#b7)'/>
<ellipse cx='424.0' cy='762.0' rx='26.3' ry='26.3' fill='#a8782c' filter='url(#b7)'/>
<ellipse cx='169.7' cy='793.4' rx='20.6' ry='20.6' fill='#a8782c' filter='url(#b7)'/>
<ellipse cx='365.0' cy='807.5' rx='23.3' ry='23.3' fill='#a8782c' filter='url(#b7)'/>
<ellipse cx='430.0' cy='813.0' rx='23.3' ry='23.3' fill='#a8782c' filter='url(#b7)'/>
<ellipse cx='447.0' cy='720.0' rx='20.6' ry='20.6' fill='#a8782c' filter='url(#b7)'/>
<ellipse cx='20.0' cy='800.0' rx='25.8' ry='25.8' fill='#a8782c' filter='url(#b7)'/>
<ellipse cx='60.0' cy='815.0' rx='20.6' ry='20.6' fill='#a8782c' filter='url(#b7)'/>
<ellipse cx='250.0' cy='820.0' rx='20.6' ry='20.6' fill='#a8782c' filter='url(#b7)'/>
<ellipse cx='460.0' cy='520.0' rx='20.6' ry='20.6' fill='#a8782c' filter='url(#b7)'/>
<ellipse cx='200.0' cy='440.0' rx='20.6' ry='20.6' fill='#a8782c' filter='url(#b7)'/>
<ellipse cx='410.0' cy='440.0' rx='18.5' ry='18.5' fill='#a8782c' filter='url(#b7)'/>
<ellipse cx='130.0' cy='800.0' rx='18.5' ry='18.5' fill='#a8782c' filter='url(#b7)'/>
<ellipse cx='330.0' cy='760.0' rx='15.5' ry='15.5' fill='#a8782c' filter='url(#b7)'/>
<ellipse cx='460.0' cy='790.0' rx='15.5' ry='15.5' fill='#a8782c' filter='url(#b7)'/>
<ellipse cx='59.4' cy='459.6' rx='13.2' ry='13.2' fill='none' stroke='#c49c40' stroke-width='7.199999999999999' filter='url(#b8)' opacity='0.6'/>
<ellipse cx='59.4' cy='459.6' rx='23.3' ry='23.3' fill='none' stroke='#5a2408' stroke-width='3.3600000000000003' filter='url(#b9)' opacity='0.55'/>
<ellipse cx='123.0' cy='459.6' rx='14.9' ry='14.9' fill='none' stroke='#c49c40' stroke-width='8.1' filter='url(#b8)' opacity='0.6'/>
<ellipse cx='123.0' cy='459.6' rx='26.2' ry='26.2' fill='none' stroke='#5a2408' stroke-width='3.7800000000000002' filter='url(#b9)' opacity='0.55'/>
<ellipse cx='181.0' cy='458.0' rx='12.4' ry='12.4' fill='none' stroke='#c49c40' stroke-width='6.78' filter='url(#b8)' opacity='0.6'/>
<ellipse cx='181.0' cy='458.0' rx='21.9' ry='21.9' fill='none' stroke='#5a2408' stroke-width='3.1640000000000006' filter='url(#b9)' opacity='0.55'/>
<ellipse cx='294.0' cy='441.0' rx='13.8' ry='13.8' fill='none' stroke='#c49c40' stroke-width='7.5' filter='url(#b8)' opacity='0.6'/>
<ellipse cx='294.0' cy='441.0' rx='24.2' ry='24.2' fill='none' stroke='#5a2408' stroke-width='3.5000000000000004' filter='url(#b9)' opacity='0.55'/>
<ellipse cx='352.0' cy='445.0' rx='11.0' ry='11.0' fill='none' stroke='#c49c40' stroke-width='6.0' filter='url(#b8)' opacity='0.6'/>
<ellipse cx='352.0' cy='445.0' rx='19.4' ry='19.4' fill='none' stroke='#5a2408' stroke-width='2.8000000000000003' filter='url(#b9)' opacity='0.55'/>
<ellipse cx='441.0' cy='460.0' rx='13.2' ry='13.2' fill='none' stroke='#c49c40' stroke-width='7.199999999999999' filter='url(#b8)' opacity='0.6'/>
<ellipse cx='441.0' cy='460.0' rx='23.3' ry='23.3' fill='none' stroke='#5a2408' stroke-width='3.3600000000000003' filter='url(#b9)' opacity='0.55'/>
<ellipse cx='39.6' cy='503.0' rx='11.6' ry='11.6' fill='none' stroke='#c49c40' stroke-width='6.3' filter='url(#b8)' opacity='0.6'/>
<ellipse cx='39.6' cy='503.0' rx='20.4' ry='20.4' fill='none' stroke='#5a2408' stroke-width='2.9400000000000004' filter='url(#b9)' opacity='0.55'/>
<ellipse cx='90.5' cy='489.0' rx='11.0' ry='11.0' fill='none' stroke='#c49c40' stroke-width='6.0' filter='url(#b8)' opacity='0.6'/>
<ellipse cx='90.5' cy='489.0' rx='19.4' ry='19.4' fill='none' stroke='#5a2408' stroke-width='2.8000000000000003' filter='url(#b9)' opacity='0.55'/>
<ellipse cx='152.8' cy='522.0' rx='20.4' ry='20.4' fill='none' stroke='#c49c40' stroke-width='11.1' filter='url(#b8)' opacity='0.6'/>
<ellipse cx='152.8' cy='522.0' rx='35.9' ry='35.9' fill='none' stroke='#5a2408' stroke-width='5.180000000000001' filter='url(#b9)' opacity='0.55'/>
<ellipse cx='233.0' cy='493.5' rx='17.9' ry='17.9' fill='none' stroke='#c49c40' stroke-width='9.75' filter='url(#b8)' opacity='0.6'/>
<ellipse cx='233.0' cy='493.5' rx='31.5' ry='31.5' fill='none' stroke='#5a2408' stroke-width='4.550000000000001' filter='url(#b9)' opacity='0.55'/>
<ellipse cx='305.5' cy='502.0' rx='16.5' ry='16.5' fill='none' stroke='#c49c40' stroke-width='9.0' filter='url(#b8)' opacity='0.6'/>
<ellipse cx='305.5' cy='502.0' rx='29.1' ry='29.1' fill='none' stroke='#5a2408' stroke-width='4.2' filter='url(#b9)' opacity='0.55'/>
<ellipse cx='370.6' cy='490.7' rx='13.2' ry='13.2' fill='none' stroke='#c49c40' stroke-width='7.199999999999999' filter='url(#b8)' opacity='0.6'/>
<ellipse cx='370.6' cy='490.7' rx='23.3' ry='23.3' fill='none' stroke='#5a2408' stroke-width='3.3600000000000003' filter='url(#b9)' opacity='0.55'/>
<ellipse cx='79.0' cy='529.0' rx='10.1' ry='10.1' fill='none' stroke='#c49c40' stroke-width='5.52' filter='url(#b8)' opacity='0.6'/>
<ellipse cx='79.0' cy='529.0' rx='17.8' ry='17.8' fill='none' stroke='#5a2408' stroke-width='2.576' filter='url(#b9)' opacity='0.55'/>
<ellipse cx='28.3' cy='568.5' rx='17.1' ry='17.1' fill='none' stroke='#c49c40' stroke-width='9.299999999999999' filter='url(#b8)' opacity='0.6'/>
<ellipse cx='28.3' cy='568.5' rx='30.1' ry='30.1' fill='none' stroke='#5a2408' stroke-width='4.340000000000001' filter='url(#b9)' opacity='0.55'/>
<ellipse cx='104.7' cy='589.7' rx='18.7' ry='18.7' fill='none' stroke='#c49c40' stroke-width='10.2' filter='url(#b8)' opacity='0.6'/>
<ellipse cx='104.7' cy='589.7' rx='33.0' ry='33.0' fill='none' stroke='#5a2408' stroke-width='4.760000000000001' filter='url(#b9)' opacity='0.55'/>
<ellipse cx='192.4' cy='582.7' rx='21.8' ry='21.8' fill='none' stroke='#c49c40' stroke-width='11.88' filter='url(#b8)' opacity='0.6'/>
<ellipse cx='192.4' cy='582.7' rx='38.4' ry='38.4' fill='none' stroke='#5a2408' stroke-width='5.5440000000000005' filter='url(#b9)' opacity='0.55'/>
<ellipse cx='235.0' cy='541.6' rx='9.4' ry='9.4' fill='none' stroke='#c49c40' stroke-width='5.1' filter='url(#b8)' opacity='0.6'/>
<ellipse cx='235.0' cy='541.6' rx='16.5' ry='16.5' fill='none' stroke='#5a2408' stroke-width='2.3800000000000003' filter='url(#b9)' opacity='0.55'/>
<ellipse cx='271.6' cy='538.8' rx='7.7' ry='7.7' fill='none' stroke='#c49c40' stroke-width='4.2' filter='url(#b8)' opacity='0.6'/>
<ellipse cx='271.6' cy='538.8' rx='13.6' ry='13.6' fill='none' stroke='#5a2408' stroke-width='1.9600000000000002' filter='url(#b9)' opacity='0.55'/>
<ellipse cx='257.4' cy='578.4' rx='12.4' ry='12.4' fill='none' stroke='#c49c40' stroke-width='6.78' filter='url(#b8)' opacity='0.6'/>
<ellipse cx='257.4' cy='578.4' rx='21.9' ry='21.9' fill='none' stroke='#5a2408' stroke-width='3.1640000000000006' filter='url(#b9)' opacity='0.55'/>
<ellipse cx='321.0' cy='562.9' rx='17.1' ry='17.1' fill='none' stroke='#c49c40' stroke-width='9.299999999999999' filter='url(#b8)' opacity='0.6'/>
<ellipse cx='321.0' cy='562.9' rx='30.1' ry='30.1' fill='none' stroke='#5a2408' stroke-width='4.340000000000001' filter='url(#b9)' opacity='0.55'/>
<ellipse cx='415.8' cy='550.0' rx='23.1' ry='23.1' fill='none' stroke='#c49c40' stroke-width='12.6' filter='url(#b8)' opacity='0.6'/>
<ellipse cx='415.8' cy='550.0' rx='40.7' ry='40.7' fill='none' stroke='#5a2408' stroke-width='5.880000000000001' filter='url(#b9)' opacity='0.55'/>
<ellipse cx='48.0' cy='628.0' rx='14.0' ry='14.0' fill='none' stroke='#c49c40' stroke-width='7.6499999999999995' filter='url(#b8)' opacity='0.6'/>
<ellipse cx='48.0' cy='628.0' rx='24.7' ry='24.7' fill='none' stroke='#5a2408' stroke-width='3.5700000000000003' filter='url(#b9)' opacity='0.55'/>
<ellipse cx='104.7' cy='653.4' rx='13.2' ry='13.2' fill='none' stroke='#c49c40' stroke-width='7.199999999999999' filter='url(#b8)' opacity='0.6'/>
<ellipse cx='104.7' cy='653.4' rx='23.3' ry='23.3' fill='none' stroke='#5a2408' stroke-width='3.3600000000000003' filter='url(#b9)' opacity='0.55'/>
<ellipse cx='155.6' cy='643.5' rx='13.2' ry='13.2' fill='none' stroke='#c49c40' stroke-width='7.199999999999999' filter='url(#b8)' opacity='0.6'/>
<ellipse cx='155.6' cy='643.5' rx='23.3' ry='23.3' fill='none' stroke='#5a2408' stroke-width='3.3600000000000003' filter='url(#b9)' opacity='0.55'/>
<ellipse cx='220.6' cy='654.8' rx='17.1' ry='17.1' fill='none' stroke='#c49c40' stroke-width='9.299999999999999' filter='url(#b8)' opacity='0.6'/>
<ellipse cx='220.6' cy='654.8' rx='30.1' ry='30.1' fill='none' stroke='#5a2408' stroke-width='4.340000000000001' filter='url(#b9)' opacity='0.55'/>
<ellipse cx='282.9' cy='650.5' rx='17.1' ry='17.1' fill='none' stroke='#c49c40' stroke-width='9.299999999999999' filter='url(#b8)' opacity='0.6'/>
<ellipse cx='282.9' cy='650.5' rx='30.1' ry='30.1' fill='none' stroke='#5a2408' stroke-width='4.340000000000001' filter='url(#b9)' opacity='0.55'/>
<ellipse cx='362.0' cy='633.6' rx='24.8' ry='24.8' fill='none' stroke='#c49c40' stroke-width='13.5' filter='url(#b8)' opacity='0.6'/>
<ellipse cx='362.0' cy='633.6' rx='43.6' ry='43.6' fill='none' stroke='#5a2408' stroke-width='6.300000000000001' filter='url(#b9)' opacity='0.55'/>
<ellipse cx='441.3' cy='635.0' rx='14.0' ry='14.0' fill='none' stroke='#c49c40' stroke-width='7.6499999999999995' filter='url(#b8)' opacity='0.6'/>
<ellipse cx='441.3' cy='635.0' rx='24.7' ry='24.7' fill='none' stroke='#5a2408' stroke-width='3.5700000000000003' filter='url(#b9)' opacity='0.55'/>
<ellipse cx='65.0' cy='681.7' rx='11.6' ry='11.6' fill='none' stroke='#c49c40' stroke-width='6.3' filter='url(#b8)' opacity='0.6'/>
<ellipse cx='65.0' cy='681.7' rx='20.4' ry='20.4' fill='none' stroke='#5a2408' stroke-width='2.9400000000000004' filter='url(#b9)' opacity='0.55'/>
<ellipse cx='124.5' cy='705.7' rx='17.1' ry='17.1' fill='none' stroke='#c49c40' stroke-width='9.299999999999999' filter='url(#b8)' opacity='0.6'/>
<ellipse cx='124.5' cy='705.7' rx='30.1' ry='30.1' fill='none' stroke='#5a2408' stroke-width='4.340000000000001' filter='url(#b9)' opacity='0.55'/>
<ellipse cx='192.4' cy='710.0' rx='14.0' ry='14.0' fill='none' stroke='#c49c40' stroke-width='7.6499999999999995' filter='url(#b8)' opacity='0.6'/>
<ellipse cx='192.4' cy='710.0' rx='24.7' ry='24.7' fill='none' stroke='#5a2408' stroke-width='3.5700000000000003' filter='url(#b9)' opacity='0.55'/>
<ellipse cx='254.6' cy='708.5' rx='14.9' ry='14.9' fill='none' stroke='#c49c40' stroke-width='8.1' filter='url(#b8)' opacity='0.6'/>
<ellipse cx='254.6' cy='708.5' rx='26.2' ry='26.2' fill='none' stroke='#5a2408' stroke-width='3.7800000000000002' filter='url(#b9)' opacity='0.55'/>
<ellipse cx='316.8' cy='702.9' rx='14.0' ry='14.0' fill='none' stroke='#c49c40' stroke-width='7.6499999999999995' filter='url(#b8)' opacity='0.6'/>
<ellipse cx='316.8' cy='702.9' rx='24.7' ry='24.7' fill='none' stroke='#5a2408' stroke-width='3.5700000000000003' filter='url(#b9)' opacity='0.55'/>
<ellipse cx='401.7' cy='695.8' rx='14.0' ry='14.0' fill='none' stroke='#c49c40' stroke-width='7.6499999999999995' filter='url(#b8)' opacity='0.6'/>
<ellipse cx='401.7' cy='695.8' rx='24.7' ry='24.7' fill='none' stroke='#5a2408' stroke-width='3.5700000000000003' filter='url(#b9)' opacity='0.55'/>
<ellipse cx='39.6' cy='734.0' rx='20.4' ry='20.4' fill='none' stroke='#c49c40' stroke-width='11.1' filter='url(#b8)' opacity='0.6'/>
<ellipse cx='39.6' cy='734.0' rx='35.9' ry='35.9' fill='none' stroke='#5a2408' stroke-width='5.180000000000001' filter='url(#b9)' opacity='0.55'/>
<ellipse cx='158.4' cy='748.0' rx='11.6' ry='11.6' fill='none' stroke='#c49c40' stroke-width='6.3' filter='url(#b8)' opacity='0.6'/>
<ellipse cx='158.4' cy='748.0' rx='20.4' ry='20.4' fill='none' stroke='#5a2408' stroke-width='2.9400000000000004' filter='url(#b9)' opacity='0.55'/>
<ellipse cx='110.0' cy='765.0' rx='13.2' ry='13.2' fill='none' stroke='#c49c40' stroke-width='7.199999999999999' filter='url(#b8)' opacity='0.6'/>
<ellipse cx='110.0' cy='765.0' rx='23.3' ry='23.3' fill='none' stroke='#5a2408' stroke-width='3.3600000000000003' filter='url(#b9)' opacity='0.55'/>
<ellipse cx='215.0' cy='768.0' rx='15.4' ry='15.4' fill='none' stroke='#c49c40' stroke-width='8.4' filter='url(#b8)' opacity='0.6'/>
<ellipse cx='215.0' cy='768.0' rx='27.2' ry='27.2' fill='none' stroke='#5a2408' stroke-width='3.9200000000000004' filter='url(#b9)' opacity='0.55'/>
<ellipse cx='297.0' cy='787.8' rx='26.4' ry='26.4' fill='none' stroke='#c49c40' stroke-width='14.399999999999999' filter='url(#b8)' opacity='0.6'/>
<ellipse cx='297.0' cy='787.8' rx='46.6' ry='46.6' fill='none' stroke='#5a2408' stroke-width='6.720000000000001' filter='url(#b9)' opacity='0.55'/>
<ellipse cx='365.0' cy='739.7' rx='13.2' ry='13.2' fill='none' stroke='#c49c40' stroke-width='7.199999999999999' filter='url(#b8)' opacity='0.6'/>
<ellipse cx='365.0' cy='739.7' rx='23.3' ry='23.3' fill='none' stroke='#5a2408' stroke-width='3.3600000000000003' filter='url(#b9)' opacity='0.55'/>
<ellipse cx='424.0' cy='762.0' rx='14.0' ry='14.0' fill='none' stroke='#c49c40' stroke-width='7.6499999999999995' filter='url(#b8)' opacity='0.6'/>
<ellipse cx='424.0' cy='762.0' rx='24.7' ry='24.7' fill='none' stroke='#5a2408' stroke-width='3.5700000000000003' filter='url(#b9)' opacity='0.55'/>
<ellipse cx='169.7' cy='793.4' rx='11.0' ry='11.0' fill='none' stroke='#c49c40' stroke-width='6.0' filter='url(#b8)' opacity='0.6'/>
<ellipse cx='169.7' cy='793.4' rx='19.4' ry='19.4' fill='none' stroke='#5a2408' stroke-width='2.8000000000000003' filter='url(#b9)' opacity='0.55'/>
<ellipse cx='365.0' cy='807.5' rx='12.4' ry='12.4' fill='none' stroke='#c49c40' stroke-width='6.78' filter='url(#b8)' opacity='0.6'/>
<ellipse cx='365.0' cy='807.5' rx='21.9' ry='21.9' fill='none' stroke='#5a2408' stroke-width='3.1640000000000006' filter='url(#b9)' opacity='0.55'/>
<ellipse cx='430.0' cy='813.0' rx='12.4' ry='12.4' fill='none' stroke='#c49c40' stroke-width='6.78' filter='url(#b8)' opacity='0.6'/>
<ellipse cx='430.0' cy='813.0' rx='21.9' ry='21.9' fill='none' stroke='#5a2408' stroke-width='3.1640000000000006' filter='url(#b9)' opacity='0.55'/>
<ellipse cx='447.0' cy='720.0' rx='11.0' ry='11.0' fill='none' stroke='#c49c40' stroke-width='6.0' filter='url(#b8)' opacity='0.6'/>
<ellipse cx='447.0' cy='720.0' rx='19.4' ry='19.4' fill='none' stroke='#5a2408' stroke-width='2.8000000000000003' filter='url(#b9)' opacity='0.55'/>
<ellipse cx='20.0' cy='800.0' rx='13.8' ry='13.8' fill='none' stroke='#c49c40' stroke-width='7.5' filter='url(#b8)' opacity='0.6'/>
<ellipse cx='20.0' cy='800.0' rx='24.2' ry='24.2' fill='none' stroke='#5a2408' stroke-width='3.5000000000000004' filter='url(#b9)' opacity='0.55'/>
<ellipse cx='60.0' cy='815.0' rx='11.0' ry='11.0' fill='none' stroke='#c49c40' stroke-width='6.0' filter='url(#b8)' opacity='0.6'/>
<ellipse cx='60.0' cy='815.0' rx='19.4' ry='19.4' fill='none' stroke='#5a2408' stroke-width='2.8000000000000003' filter='url(#b9)' opacity='0.55'/>
<ellipse cx='250.0' cy='820.0' rx='11.0' ry='11.0' fill='none' stroke='#c49c40' stroke-width='6.0' filter='url(#b8)' opacity='0.6'/>
<ellipse cx='250.0' cy='820.0' rx='19.4' ry='19.4' fill='none' stroke='#5a2408' stroke-width='2.8000000000000003' filter='url(#b9)' opacity='0.55'/>
<ellipse cx='460.0' cy='520.0' rx='11.0' ry='11.0' fill='none' stroke='#c49c40' stroke-width='6.0' filter='url(#b8)' opacity='0.6'/>
<ellipse cx='460.0' cy='520.0' rx='19.4' ry='19.4' fill='none' stroke='#5a2408' stroke-width='2.8000000000000003' filter='url(#b9)' opacity='0.55'/>
<ellipse cx='200.0' cy='440.0' rx='11.0' ry='11.0' fill='none' stroke='#c49c40' stroke-width='6.0' filter='url(#b8)' opacity='0.6'/>
<ellipse cx='200.0' cy='440.0' rx='19.4' ry='19.4' fill='none' stroke='#5a2408' stroke-width='2.8000000000000003' filter='url(#b9)' opacity='0.55'/>
<ellipse cx='410.0' cy='440.0' rx='9.9' ry='9.9' fill='none' stroke='#c49c40' stroke-width='5.3999999999999995' filter='url(#b8)' opacity='0.6'/>
<ellipse cx='410.0' cy='440.0' rx='17.5' ry='17.5' fill='none' stroke='#5a2408' stroke-width='2.5200000000000005' filter='url(#b9)' opacity='0.55'/>
<ellipse cx='130.0' cy='800.0' rx='9.9' ry='9.9' fill='none' stroke='#c49c40' stroke-width='5.3999999999999995' filter='url(#b8)' opacity='0.6'/>
<ellipse cx='130.0' cy='800.0' rx='17.5' ry='17.5' fill='none' stroke='#5a2408' stroke-width='2.5200000000000005' filter='url(#b9)' opacity='0.55'/>
<ellipse cx='330.0' cy='760.0' rx='8.2' ry='8.2' fill='none' stroke='#c49c40' stroke-width='4.5' filter='url(#b8)' opacity='0.6'/>
<ellipse cx='330.0' cy='760.0' rx='14.5' ry='14.5' fill='none' stroke='#5a2408' stroke-width='2.1' filter='url(#b9)' opacity='0.55'/>
<ellipse cx='460.0' cy='790.0' rx='8.2' ry='8.2' fill='none' stroke='#c49c40' stroke-width='4.5' filter='url(#b8)' opacity='0.6'/>
<ellipse cx='460.0' cy='790.0' rx='14.5' ry='14.5' fill='none' stroke='#5a2408' stroke-width='2.1' filter='url(#b9)' opacity='0.55'/>
<ellipse cx='59.4' cy='459.6' rx='9.2' ry='9.2' fill='#6a2010' filter='url(#b10)' opacity='0.9'/>
<ellipse cx='59.4' cy='459.6' rx='5.8' ry='5.8' fill='#2a0604' filter='url(#b8)' opacity='0.9'/>
<ellipse cx='123.0' cy='459.6' rx='10.1' ry='10.1' fill='#6a2010' filter='url(#b10)' opacity='0.9'/>
<ellipse cx='123.0' cy='459.6' rx='6.4' ry='6.4' fill='#2a0604' filter='url(#b8)' opacity='0.9'/>
<ellipse cx='181.0' cy='458.0' rx='8.8' ry='8.8' fill='#6a2010' filter='url(#b10)' opacity='0.9'/>
<ellipse cx='181.0' cy='458.0' rx='5.6' ry='5.6' fill='#2a0604' filter='url(#b8)' opacity='0.9'/>
<ellipse cx='294.0' cy='441.0' rx='9.5' ry='9.5' fill='#6a2010' filter='url(#b10)' opacity='0.9'/>
<ellipse cx='294.0' cy='441.0' rx='6.0' ry='6.0' fill='#2a0604' filter='url(#b8)' opacity='0.9'/>
<ellipse cx='352.0' cy='445.0' rx='8.1' ry='8.1' fill='#6a2010' filter='url(#b10)' opacity='0.9'/>
<ellipse cx='352.0' cy='445.0' rx='5.1' ry='5.1' fill='#2a0604' filter='url(#b8)' opacity='0.9'/>
<ellipse cx='441.0' cy='460.0' rx='9.2' ry='9.2' fill='#6a2010' filter='url(#b10)' opacity='0.9'/>
<ellipse cx='441.0' cy='460.0' rx='5.8' ry='5.8' fill='#2a0604' filter='url(#b8)' opacity='0.9'/>
<ellipse cx='39.6' cy='503.0' rx='8.4' ry='8.4' fill='#6a2010' filter='url(#b10)' opacity='0.9'/>
<ellipse cx='39.6' cy='503.0' rx='5.3' ry='5.3' fill='#2a0604' filter='url(#b8)' opacity='0.9'/>
<ellipse cx='90.5' cy='489.0' rx='8.1' ry='8.1' fill='#6a2010' filter='url(#b10)' opacity='0.9'/>
<ellipse cx='90.5' cy='489.0' rx='5.1' ry='5.1' fill='#2a0604' filter='url(#b8)' opacity='0.9'/>
<ellipse cx='152.8' cy='522.0' rx='12.9' ry='12.9' fill='#6a2010' filter='url(#b10)' opacity='0.9'/>
<ellipse cx='152.8' cy='522.0' rx='8.2' ry='8.2' fill='#2a0604' filter='url(#b8)' opacity='0.9'/>
<ellipse cx='233.0' cy='493.5' rx='11.6' ry='11.6' fill='#6a2010' filter='url(#b10)' opacity='0.9'/>
<ellipse cx='233.0' cy='493.5' rx='7.3' ry='7.3' fill='#2a0604' filter='url(#b8)' opacity='0.9'/>
<ellipse cx='305.5' cy='502.0' rx='10.9' ry='10.9' fill='#6a2010' filter='url(#b10)' opacity='0.9'/>
<ellipse cx='305.5' cy='502.0' rx='6.9' ry='6.9' fill='#2a0604' filter='url(#b8)' opacity='0.9'/>
<ellipse cx='370.6' cy='490.7' rx='9.2' ry='9.2' fill='#6a2010' filter='url(#b10)' opacity='0.9'/>
<ellipse cx='370.6' cy='490.7' rx='5.8' ry='5.8' fill='#2a0604' filter='url(#b8)' opacity='0.9'/>
<ellipse cx='79.0' cy='529.0' rx='7.7' ry='7.7' fill='#6a2010' filter='url(#b10)' opacity='0.9'/>
<ellipse cx='79.0' cy='529.0' rx='4.8' ry='4.8' fill='#2a0604' filter='url(#b8)' opacity='0.9'/>
<ellipse cx='28.3' cy='568.5' rx='11.2' ry='11.2' fill='#6a2010' filter='url(#b10)' opacity='0.9'/>
<ellipse cx='28.3' cy='568.5' rx='7.1' ry='7.1' fill='#2a0604' filter='url(#b8)' opacity='0.9'/>
<ellipse cx='104.7' cy='589.7' rx='12.0' ry='12.0' fill='#6a2010' filter='url(#b10)' opacity='0.9'/>
<ellipse cx='104.7' cy='589.7' rx='7.6' ry='7.6' fill='#2a0604' filter='url(#b8)' opacity='0.9'/>
<ellipse cx='192.4' cy='582.7' rx='13.6' ry='13.6' fill='#6a2010' filter='url(#b10)' opacity='0.9'/>
<ellipse cx='192.4' cy='582.7' rx='8.6' ry='8.6' fill='#2a0604' filter='url(#b8)' opacity='0.9'/>
<ellipse cx='235.0' cy='541.6' rx='7.3' ry='7.3' fill='#6a2010' filter='url(#b10)' opacity='0.9'/>
<ellipse cx='235.0' cy='541.6' rx='4.6' ry='4.6' fill='#2a0604' filter='url(#b8)' opacity='0.9'/>
<ellipse cx='271.6' cy='538.8' rx='6.4' ry='6.4' fill='#6a2010' filter='url(#b10)' opacity='0.9'/>
<ellipse cx='271.6' cy='538.8' rx='4.0' ry='4.0' fill='#2a0604' filter='url(#b8)' opacity='0.9'/>
<ellipse cx='257.4' cy='578.4' rx='8.8' ry='8.8' fill='#6a2010' filter='url(#b10)' opacity='0.9'/>
<ellipse cx='257.4' cy='578.4' rx='5.6' ry='5.6' fill='#2a0604' filter='url(#b8)' opacity='0.9'/>
<ellipse cx='321.0' cy='562.9' rx='11.2' ry='11.2' fill='#6a2010' filter='url(#b10)' opacity='0.9'/>
<ellipse cx='321.0' cy='562.9' rx='7.1' ry='7.1' fill='#2a0604' filter='url(#b8)' opacity='0.9'/>
<ellipse cx='415.8' cy='550.0' rx='14.3' ry='14.3' fill='#6a2010' filter='url(#b10)' opacity='0.9'/>
<ellipse cx='415.8' cy='550.0' rx='9.1' ry='9.1' fill='#2a0604' filter='url(#b8)' opacity='0.9'/>
<ellipse cx='48.0' cy='628.0' rx='9.6' ry='9.6' fill='#6a2010' filter='url(#b10)' opacity='0.9'/>
<ellipse cx='48.0' cy='628.0' rx='6.1' ry='6.1' fill='#2a0604' filter='url(#b8)' opacity='0.9'/>
<ellipse cx='104.7' cy='653.4' rx='9.2' ry='9.2' fill='#6a2010' filter='url(#b10)' opacity='0.9'/>
<ellipse cx='104.7' cy='653.4' rx='5.8' ry='5.8' fill='#2a0604' filter='url(#b8)' opacity='0.9'/>
<ellipse cx='155.6' cy='643.5' rx='9.2' ry='9.2' fill='#6a2010' filter='url(#b10)' opacity='0.9'/>
<ellipse cx='155.6' cy='643.5' rx='5.8' ry='5.8' fill='#2a0604' filter='url(#b8)' opacity='0.9'/>
<ellipse cx='220.6' cy='654.8' rx='11.2' ry='11.2' fill='#6a2010' filter='url(#b10)' opacity='0.9'/>
<ellipse cx='220.6' cy='654.8' rx='7.1' ry='7.1' fill='#2a0604' filter='url(#b8)' opacity='0.9'/>
<ellipse cx='282.9' cy='650.5' rx='11.2' ry='11.2' fill='#6a2010' filter='url(#b10)' opacity='0.9'/>
<ellipse cx='282.9' cy='650.5' rx='7.1' ry='7.1' fill='#2a0604' filter='url(#b8)' opacity='0.9'/>
<ellipse cx='362.0' cy='633.6' rx='15.1' ry='15.1' fill='#6a2010' filter='url(#b10)' opacity='0.9'/>
<ellipse cx='362.0' cy='633.6' rx='9.6' ry='9.6' fill='#2a0604' filter='url(#b8)' opacity='0.9'/>
<ellipse cx='441.3' cy='635.0' rx='9.6' ry='9.6' fill='#6a2010' filter='url(#b10)' opacity='0.9'/>
<ellipse cx='441.3' cy='635.0' rx='6.1' ry='6.1' fill='#2a0604' filter='url(#b8)' opacity='0.9'/>
<ellipse cx='65.0' cy='681.7' rx='8.4' ry='8.4' fill='#6a2010' filter='url(#b10)' opacity='0.9'/>
<ellipse cx='65.0' cy='681.7' rx='5.3' ry='5.3' fill='#2a0604' filter='url(#b8)' opacity='0.9'/>
<ellipse cx='124.5' cy='705.7' rx='11.2' ry='11.2' fill='#6a2010' filter='url(#b10)' opacity='0.9'/>
<ellipse cx='124.5' cy='705.7' rx='7.1' ry='7.1' fill='#2a0604' filter='url(#b8)' opacity='0.9'/>
<ellipse cx='192.4' cy='710.0' rx='9.6' ry='9.6' fill='#6a2010' filter='url(#b10)' opacity='0.9'/>
<ellipse cx='192.4' cy='710.0' rx='6.1' ry='6.1' fill='#2a0604' filter='url(#b8)' opacity='0.9'/>
<ellipse cx='254.6' cy='708.5' rx='10.1' ry='10.1' fill='#6a2010' filter='url(#b10)' opacity='0.9'/>
<ellipse cx='254.6' cy='708.5' rx='6.4' ry='6.4' fill='#2a0604' filter='url(#b8)' opacity='0.9'/>
<ellipse cx='316.8' cy='702.9' rx='9.6' ry='9.6' fill='#6a2010' filter='url(#b10)' opacity='0.9'/>
<ellipse cx='316.8' cy='702.9' rx='6.1' ry='6.1' fill='#2a0604' filter='url(#b8)' opacity='0.9'/>
<ellipse cx='401.7' cy='695.8' rx='9.6' ry='9.6' fill='#6a2010' filter='url(#b10)' opacity='0.9'/>
<ellipse cx='401.7' cy='695.8' rx='6.1' ry='6.1' fill='#2a0604' filter='url(#b8)' opacity='0.9'/>
<ellipse cx='39.6' cy='734.0' rx='12.9' ry='12.9' fill='#6a2010' filter='url(#b10)' opacity='0.9'/>
<ellipse cx='39.6' cy='734.0' rx='8.2' ry='8.2' fill='#2a0604' filter='url(#b8)' opacity='0.9'/>
<ellipse cx='158.4' cy='748.0' rx='8.4' ry='8.4' fill='#6a2010' filter='url(#b10)' opacity='0.9'/>
<ellipse cx='158.4' cy='748.0' rx='5.3' ry='5.3' fill='#2a0604' filter='url(#b8)' opacity='0.9'/>
<ellipse cx='110.0' cy='765.0' rx='9.2' ry='9.2' fill='#6a2010' filter='url(#b10)' opacity='0.9'/>
<ellipse cx='110.0' cy='765.0' rx='5.8' ry='5.8' fill='#2a0604' filter='url(#b8)' opacity='0.9'/>
<ellipse cx='215.0' cy='768.0' rx='10.3' ry='10.3' fill='#6a2010' filter='url(#b10)' opacity='0.9'/>
<ellipse cx='215.0' cy='768.0' rx='6.5' ry='6.5' fill='#2a0604' filter='url(#b8)' opacity='0.9'/>
<ellipse cx='297.0' cy='787.8' rx='15.9' ry='15.9' fill='#6a2010' filter='url(#b10)' opacity='0.9'/>
<ellipse cx='297.0' cy='787.8' rx='10.1' ry='10.1' fill='#2a0604' filter='url(#b8)' opacity='0.9'/>
<ellipse cx='365.0' cy='739.7' rx='9.2' ry='9.2' fill='#6a2010' filter='url(#b10)' opacity='0.9'/>
<ellipse cx='365.0' cy='739.7' rx='5.8' ry='5.8' fill='#2a0604' filter='url(#b8)' opacity='0.9'/>
<ellipse cx='424.0' cy='762.0' rx='9.6' ry='9.6' fill='#6a2010' filter='url(#b10)' opacity='0.9'/>
<ellipse cx='424.0' cy='762.0' rx='6.1' ry='6.1' fill='#2a0604' filter='url(#b8)' opacity='0.9'/>
<ellipse cx='169.7' cy='793.4' rx='8.1' ry='8.1' fill='#6a2010' filter='url(#b10)' opacity='0.9'/>
<ellipse cx='169.7' cy='793.4' rx='5.1' ry='5.1' fill='#2a0604' filter='url(#b8)' opacity='0.9'/>
<ellipse cx='365.0' cy='807.5' rx='8.8' ry='8.8' fill='#6a2010' filter='url(#b10)' opacity='0.9'/>
<ellipse cx='365.0' cy='807.5' rx='5.6' ry='5.6' fill='#2a0604' filter='url(#b8)' opacity='0.9'/>
<ellipse cx='430.0' cy='813.0' rx='8.8' ry='8.8' fill='#6a2010' filter='url(#b10)' opacity='0.9'/>
<ellipse cx='430.0' cy='813.0' rx='5.6' ry='5.6' fill='#2a0604' filter='url(#b8)' opacity='0.9'/>
<ellipse cx='447.0' cy='720.0' rx='8.1' ry='8.1' fill='#6a2010' filter='url(#b10)' opacity='0.9'/>
<ellipse cx='447.0' cy='720.0' rx='5.1' ry='5.1' fill='#2a0604' filter='url(#b8)' opacity='0.9'/>
<ellipse cx='20.0' cy='800.0' rx='9.5' ry='9.5' fill='#6a2010' filter='url(#b10)' opacity='0.9'/>
<ellipse cx='20.0' cy='800.0' rx='6.0' ry='6.0' fill='#2a0604' filter='url(#b8)' opacity='0.9'/>
<ellipse cx='60.0' cy='815.0' rx='8.1' ry='8.1' fill='#6a2010' filter='url(#b10)' opacity='0.9'/>
<ellipse cx='60.0' cy='815.0' rx='5.1' ry='5.1' fill='#2a0604' filter='url(#b8)' opacity='0.9'/>
<ellipse cx='250.0' cy='820.0' rx='8.1' ry='8.1' fill='#6a2010' filter='url(#b10)' opacity='0.9'/>
<ellipse cx='250.0' cy='820.0' rx='5.1' ry='5.1' fill='#2a0604' filter='url(#b8)' opacity='0.9'/>
<ellipse cx='460.0' cy='520.0' rx='8.1' ry='8.1' fill='#6a2010' filter='url(#b10)' opacity='0.9'/>
<ellipse cx='460.0' cy='520.0' rx='5.1' ry='5.1' fill='#2a0604' filter='url(#b8)' opacity='0.9'/>
<ellipse cx='200.0' cy='440.0' rx='8.1' ry='8.1' fill='#6a2010' filter='url(#b10)' opacity='0.9'/>
<ellipse cx='200.0' cy='440.0' rx='5.1' ry='5.1' fill='#2a0604' filter='url(#b8)' opacity='0.9'/>
<ellipse cx='410.0' cy='440.0' rx='7.5' ry='7.5' fill='#6a2010' filter='url(#b10)' opacity='0.9'/>
<ellipse cx='410.0' cy='440.0' rx='4.7' ry='4.7' fill='#2a0604' filter='url(#b8)' opacity='0.9'/>
<ellipse cx='130.0' cy='800.0' rx='7.5' ry='7.5' fill='#6a2010' filter='url(#b10)' opacity='0.9'/>
<ellipse cx='130.0' cy='800.0' rx='4.7' ry='4.7' fill='#2a0604' filter='url(#b8)' opacity='0.9'/>
<ellipse cx='330.0' cy='760.0' rx='6.7' ry='6.7' fill='#6a2010' filter='url(#b10)' opacity='0.9'/>
<ellipse cx='330.0' cy='760.0' rx='4.2' ry='4.2' fill='#2a0604' filter='url(#b8)' opacity='0.9'/>
<ellipse cx='460.0' cy='790.0' rx='6.7' ry='6.7' fill='#6a2010' filter='url(#b10)' opacity='0.9'/>
<ellipse cx='460.0' cy='790.0' rx='4.2' ry='4.2' fill='#2a0604' filter='url(#b8)' opacity='0.9'/>
<ellipse cx='198.0' cy='527.5' rx='13.0' ry='15.6' fill='#120202' filter='url(#b11)' opacity='0.95'/>
<ellipse cx='362.0' cy='694.4' rx='13.0' ry='13.0' fill='#120202' filter='url(#b11)' opacity='0.95'/>
<ellipse cx='348.0' cy='462.0' rx='9.1' ry='10.4' fill='#120202' filter='url(#b11)' opacity='0.95'/>
<ellipse cx='334.0' cy='592.6' rx='10.4' ry='10.4' fill='#120202' filter='url(#b11)' opacity='0.95'/>
<ellipse cx='268.7' cy='745.0' rx='11.7' ry='11.7' fill='#120202' filter='url(#b11)' opacity='0.95'/>
<ellipse cx='133.0' cy='553.0' rx='9.1' ry='9.1' fill='#120202' filter='url(#b11)' opacity='0.95'/>
<ellipse cx='28.0' cy='652.0' rx='10.4' ry='10.4' fill='#120202' filter='url(#b11)' opacity='0.95'/>
<ellipse cx='232.0' cy='793.0' rx='10.4' ry='10.4' fill='#120202' filter='url(#b11)' opacity='0.95'/>
<ellipse cx='441.0' cy='691.6' rx='10.4' ry='10.4' fill='#120202' filter='url(#b11)' opacity='0.95'/>
<ellipse cx='82.0' cy='666.0' rx='10.4' ry='9.1' fill='#120202' filter='url(#b11)' opacity='0.95'/>
<ellipse cx='172.6' cy='671.8' rx='10.4' ry='9.1' fill='#120202' filter='url(#b11)' opacity='0.95'/>
<ellipse cx='249.0' cy='604.0' rx='9.1' ry='10.4' fill='#120202' filter='url(#b11)' opacity='0.95'/>
<ellipse cx='311.0' cy='595.0' rx='9.1' ry='9.1' fill='#120202' filter='url(#b11)' opacity='0.95'/>
<ellipse cx='181.0' cy='499.0' rx='9.1' ry='7.8' fill='#120202' filter='url(#b11)' opacity='0.95'/>
<ellipse cx='283.0' cy='513.0' rx='9.1' ry='9.1' fill='#120202' filter='url(#b11)' opacity='0.95'/>
<ellipse cx='396.0' cy='513.0' rx='9.1' ry='9.1' fill='#120202' filter='url(#b11)' opacity='0.95'/>
<ellipse cx='8.5' cy='527.5' rx='7.8' ry='10.4' fill='#120202' filter='url(#b11)' opacity='0.95'/>
<ellipse cx='416.0' cy='728.0' rx='10.4' ry='10.4' fill='#120202' filter='url(#b11)' opacity='0.95'/>
<ellipse cx='390.0' cy='773.6' rx='10.4' ry='10.4' fill='#120202' filter='url(#b11)' opacity='0.95'/>
<ellipse cx='17.0' cy='768.0' rx='9.1' ry='9.1' fill='#120202' filter='url(#b11)' opacity='0.95'/>
<ellipse cx='141.0' cy='782.0' rx='9.1' ry='9.1' fill='#120202' filter='url(#b11)' opacity='0.95'/>
<ellipse cx='99.0' cy='509.5' rx='10.4' ry='7.8' fill='#120202' filter='url(#b11)' opacity='0.95'/>
<ellipse cx='73.5' cy='556.0' rx='15.6' ry='5.2' fill='#120202' filter='url(#b11)' opacity='0.95'/>
<ellipse cx='205.0' cy='529.0' rx='10.4' ry='11.7' fill='#120202' filter='url(#b11)' opacity='0.95'/>
<ellipse cx='141.0' cy='567.0' rx='7.8' ry='7.8' fill='#120202' filter='url(#b11)' opacity='0.95'/>
<ellipse cx='226.0' cy='543.0' rx='7.8' ry='7.8' fill='#120202' filter='url(#b11)' opacity='0.95'/>
<ellipse cx='21.0' cy='610.0' rx='9.1' ry='9.1' fill='#120202' filter='url(#b11)' opacity='0.95'/>
<ellipse cx='28.0' cy='481.0' rx='7.8' ry='7.8' fill='#120202' filter='url(#b11)' opacity='0.95'/>
<ellipse cx='11.0' cy='471.0' rx='6.5' ry='7.8' fill='#120202' filter='url(#b11)' opacity='0.95'/>
<ellipse cx='155.0' cy='685.0' rx='7.8' ry='7.8' fill='#120202' filter='url(#b11)' opacity='0.95'/>
<ellipse cx='290.0' cy='600.0' rx='7.8' ry='7.8' fill='#120202' filter='url(#b11)' opacity='0.95'/>
<ellipse cx='455.0' cy='600.0' rx='10.4' ry='13.0' fill='#120202' filter='url(#b11)' opacity='0.95'/>
<ellipse cx='335.0' cy='455.0' rx='7.8' ry='7.8' fill='#120202' filter='url(#b11)' opacity='0.95'/>
<ellipse cx='240.0' cy='460.0' rx='9.1' ry='9.1' fill='#120202' filter='url(#b11)' opacity='0.95'/>
<ellipse cx='300.0' cy='680.0' rx='7.8' ry='7.8' fill='#120202' filter='url(#b11)' opacity='0.95'/>
<rect x='2.5' y='426.4' width='465.0' height='407.2' fill='#808080' filter='url(#nz1)' opacity='0.42' style='mix-blend-mode:overlay'/>
</g>
<ellipse cx='192.4' cy='585.0' rx='41.5' ry='41.5' fill='none' stroke='#ffffff' stroke-width='2.6' stroke-dasharray='2.6 3.2'/>
<ellipse cx='220.6' cy='655.8' rx='32.5' ry='32.5' fill='none' stroke='#ffffff' stroke-width='2.6' stroke-dasharray='2.6 3.2'/>
<rect x='4.00' y='427.90' width='462.00' height='404.20' fill='none' stroke='#231f20' stroke-width='3.0'/>
<rect x='5.50' y='781.00' width='149.60' height='50.00' fill='#2a2018' stroke='none' stroke-width='0' opacity='0.85'/>
<text x='14.50' y='811.80' font-size='29.5' text-anchor='start' font-weight='bold' font-style='normal' fill='#ffffff'>150 nm</text>
<rect x='13.00' y='817.00' width='123.00' height='6.80' fill='#eeeeee' stroke='none' stroke-width='0'/>
<g clip-path='url(#clp3)'>
<rect x='0.50' y='841.00' width='469.00' height='411.70' fill='#a87428' stroke='none' stroke-width='0'/>
<ellipse cx='125.5' cy='866.0' rx='70.0' ry='17.4' fill='#4e1606' filter='url(#b12)' opacity='0.82'/>
<ellipse cx='200.0' cy='885.5' rx='20.3' ry='13.8' fill='#4e1606' filter='url(#b12)' opacity='0.82'/>
<ellipse cx='198.0' cy='933.5' rx='20.3' ry='13.8' fill='#4e1606' filter='url(#b12)' opacity='0.82'/>
<ellipse cx='31.0' cy='982.5' rx='36.1' ry='18.1' fill='#4e1606' filter='url(#b12)' opacity='0.82'/>
<ellipse cx='138.0' cy='1055.0' rx='28.9' ry='16.0' fill='#4e1606' filter='url(#b12)' opacity='0.82'/>
<ellipse cx='194.0' cy='1086.5' rx='59.2' ry='21.0' fill='#4e1606' filter='url(#b12)' opacity='0.82'/>
<ellipse cx='155.5' cy='1122.5' rx='44.0' ry='19.6' fill='#4e1606' filter='url(#b12)' opacity='0.82'/>
<ellipse cx='81.0' cy='1179.5' rx='39.0' ry='26.8' fill='#4e1606' filter='url(#b12)' opacity='0.82'/>
<ellipse cx='217.5' cy='1156.0' rx='23.9' ry='18.8' fill='#4e1606' filter='url(#b12)' opacity='0.82'/>
<ellipse cx='190.5' cy='1224.0' rx='54.1' ry='33.2' fill='#4e1606' filter='url(#b12)' opacity='0.82'/>
<ellipse cx='424.5' cy='872.5' rx='38.3' ry='32.5' fill='#4e1606' filter='url(#b12)' opacity='0.82'/>
<ellipse cx='343.0' cy='872.5' rx='23.2' ry='15.2' fill='#4e1606' filter='url(#b12)' opacity='0.82'/>
<ellipse cx='316.5' cy='905.5' rx='46.9' ry='26.8' fill='#4e1606' filter='url(#b12)' opacity='0.82'/>
<ellipse cx='240.5' cy='944.5' rx='18.1' ry='18.1' fill='#4e1606' filter='url(#b12)' opacity='0.82'/>
<ellipse cx='415.0' cy='923.5' rx='17.4' ry='13.8' fill='#4e1606' filter='url(#b12)' opacity='0.82'/>
<ellipse cx='322.0' cy='966.5' rx='17.4' ry='15.2' fill='#4e1606' filter='url(#b12)' opacity='0.82'/>
<ellipse cx='452.5' cy='971.5' rx='18.1' ry='12.4' fill='#4e1606' filter='url(#b12)' opacity='0.82'/>
<ellipse cx='375.0' cy='987.0' rx='18.8' ry='14.5' fill='#4e1606' filter='url(#b12)' opacity='0.82'/>
<ellipse cx='308.0' cy='1006.0' rx='17.4' ry='31.8' fill='#4e1606' filter='url(#b12)' opacity='0.82'/>
<ellipse cx='403.0' cy='1031.0' rx='18.8' ry='16.0' fill='#4e1606' filter='url(#b12)' opacity='0.82'/>
<ellipse cx='242.5' cy='1024.5' rx='15.2' ry='12.4' fill='#4e1606' filter='url(#b12)' opacity='0.82'/>
<ellipse cx='285.0' cy='1094.0' rx='56.3' ry='23.2' fill='#4e1606' filter='url(#b12)' opacity='0.82'/>
<ellipse cx='306.0' cy='1052.0' rx='20.3' ry='20.3' fill='#4e1606' filter='url(#b12)' opacity='0.82'/>
<ellipse cx='374.0' cy='1103.5' rx='23.2' ry='12.4' fill='#4e1606' filter='url(#b12)' opacity='0.82'/>
<ellipse cx='387.5' cy='1129.0' rx='16.7' ry='31.8' fill='#4e1606' filter='url(#b12)' opacity='0.82'/>
<ellipse cx='273.5' cy='1156.0' rx='25.3' ry='14.5' fill='#4e1606' filter='url(#b12)' opacity='0.82'/>
<ellipse cx='357.0' cy='1160.0' rx='23.2' ry='16.0' fill='#4e1606' filter='url(#b12)' opacity='0.82'/>
<ellipse cx='350.0' cy='1194.0' rx='43.3' ry='28.9' fill='#4e1606' filter='url(#b12)' opacity='0.82'/>
<ellipse cx='265.5' cy='1217.0' rx='23.9' ry='16.0' fill='#4e1606' filter='url(#b12)' opacity='0.82'/>
<ellipse cx='431.5' cy='1147.5' rx='28.2' ry='13.8' fill='#4e1606' filter='url(#b12)' opacity='0.82'/>
<ellipse cx='244.0' cy='1201.5' rx='23.2' ry='18.1' fill='#4e1606' filter='url(#b12)' opacity='0.82'/>
<ellipse cx='449.0' cy='1219.0' rx='23.2' ry='13.1' fill='#4e1606' filter='url(#b12)' opacity='0.82'/>
<ellipse cx='399.5' cy='1067.0' rx='23.9' ry='11.6' fill='#4e1606' filter='url(#b12)' opacity='0.82'/>
<ellipse cx='435.0' cy='1064.5' rx='23.2' ry='10.9' fill='#4e1606' filter='url(#b12)' opacity='0.82'/>
<ellipse cx='85.5' cy='998.0' rx='12.4' ry='13.1' fill='#4e1606' filter='url(#b12)' opacity='0.82'/>
<ellipse cx='155.5' cy='1006.0' rx='13.8' ry='14.5' fill='#4e1606' filter='url(#b12)' opacity='0.82'/>
<ellipse cx='134.0' cy='1148.0' rx='13.1' ry='13.1' fill='#4e1606' filter='url(#b12)' opacity='0.82'/>
<ellipse cx='215.0' cy='1137.5' rx='11.6' ry='12.4' fill='#4e1606' filter='url(#b12)' opacity='0.82'/>
<ellipse cx='115.0' cy='1015.0' rx='39.0' ry='24.6' fill='#4e1606' filter='url(#b12)' opacity='0.82'/>
<ellipse cx='205.0' cy='1050.0' rx='39.0' ry='17.4' fill='#4e1606' filter='url(#b12)' opacity='0.82'/>
<ellipse cx='99.0' cy='915.5' rx='25.0' ry='25.6' fill='#0e0202' filter='url(#b11)' opacity='0.95'/>
<ellipse cx='79.5' cy='944.0' rx='8.8' ry='13.0' fill='#0e0202' filter='url(#b11)' opacity='0.95'/>
<ellipse cx='150.0' cy='964.0' rx='37.0' ry='13.0' fill='#0e0202' filter='url(#b11)' opacity='0.95'/>
<ellipse cx='164.0' cy='865.5' rx='11.8' ry='10.0' fill='#0e0202' filter='url(#b11)' opacity='0.95'/>
<ellipse cx='37.5' cy='980.5' rx='12.4' ry='6.4' fill='#0e0202' filter='url(#b11)' opacity='0.95'/>
<ellipse cx='12.5' cy='1022.0' rx='11.2' ry='22.6' fill='#0e0202' filter='url(#b11)' opacity='0.95'/>
<ellipse cx='180.0' cy='1042.0' rx='13.0' ry='13.0' fill='#0e0202' filter='url(#b11)' opacity='0.95'/>
<ellipse cx='10.5' cy='1073.5' rx='8.8' ry='12.4' fill='#0e0202' filter='url(#b11)' opacity='0.95'/>
<ellipse cx='177.5' cy='1046.0' rx='13.6' ry='8.2' fill='#0e0202' filter='url(#b11)' opacity='0.95'/>
<ellipse cx='315.0' cy='900.0' rx='19.0' ry='7.0' fill='#0e0202' filter='url(#b11)' opacity='0.95'/>
<ellipse cx='86.0' cy='1182.0' rx='8.2' ry='8.2' fill='#0e0202' filter='url(#b11)' opacity='0.95'/>
<ellipse cx='352.5' cy='1195.0' rx='22.0' ry='13.0' fill='#0e0202' filter='url(#b11)' opacity='0.95'/>
<ellipse cx='195.0' cy='1087.0' rx='19.0' ry='9.4' fill='#0e0202' filter='url(#b11)' opacity='0.95'/>
<ellipse cx='143.5' cy='884.5' rx='14.3' ry='9.2' fill='#fff6dc' filter='url(#b13)' opacity='0.85'/>
<ellipse cx='65.0' cy='926.5' rx='9.8' ry='7.9' fill='#fff6dc' filter='url(#b13)' opacity='0.85'/>
<ellipse cx='47.5' cy='964.5' rx='14.3' ry='7.9' fill='#f8ecc8' filter='url(#b13)' opacity='0.85'/>
<ellipse cx='201.0' cy='1022.0' rx='9.8' ry='9.8' fill='#f8ecc8' filter='url(#b13)' opacity='0.85'/>
<ellipse cx='244.0' cy='867.0' rx='34.5' ry='13.7' fill='#fff6dc' filter='url(#b13)' opacity='0.85'/>
<ellipse cx='131.5' cy='940.0' rx='11.8' ry='12.4' fill='#f4e4b4' filter='url(#b13)' opacity='0.85'/>
<ellipse cx='176.5' cy='911.5' rx='20.9' ry='7.9' fill='#f0dca8' filter='url(#b13)' opacity='0.85'/>
<ellipse cx='385.5' cy='874.5' rx='29.9' ry='13.1' fill='#fff6dc' filter='url(#b13)' opacity='0.85'/>
<ellipse cx='407.0' cy='959.5' rx='20.2' ry='13.1' fill='#fff6dc' filter='url(#b13)' opacity='0.85'/>
<ellipse cx='348.5' cy='946.0' rx='13.1' ry='12.4' fill='#f4e4b4' filter='url(#b13)' opacity='0.85'/>
<ellipse cx='460.0' cy='988.0' rx='7.2' ry='12.4' fill='#f8ecc8' filter='url(#b13)' opacity='0.85'/>
<ellipse cx='292.0' cy='954.5' rx='9.8' ry='6.5' fill='#f4e4b4' filter='url(#b13)' opacity='0.85'/>
<ellipse cx='110.5' cy='1115.0' rx='17.0' ry='13.7' fill='#ffffff' filter='url(#b13)' opacity='0.85'/>
<ellipse cx='32.5' cy='1072.0' rx='11.8' ry='16.3' fill='#fff6dc' filter='url(#b13)' opacity='0.85'/>
<ellipse cx='70.5' cy='1106.0' rx='11.8' ry='12.4' fill='#f4e4b4' filter='url(#b13)' opacity='0.85'/>
<ellipse cx='123.5' cy='1186.0' rx='15.7' ry='13.7' fill='#f8ecc8' filter='url(#b13)' opacity='0.85'/>
<ellipse cx='181.0' cy='1188.0' rx='9.8' ry='9.8' fill='#f4e4b4' filter='url(#b13)' opacity='0.85'/>
<ellipse cx='226.0' cy='1228.0' rx='11.1' ry='8.5' fill='#f4e4b4' filter='url(#b13)' opacity='0.85'/>
<ellipse cx='338.5' cy='1074.5' rx='23.4' ry='17.0' fill='#ffffff' filter='url(#b13)' opacity='0.85'/>
<ellipse cx='426.5' cy='1091.5' rx='40.4' ry='13.1' fill='#fff6dc' filter='url(#b13)' opacity='0.85'/>
<ellipse cx='408.0' cy='1193.5' rx='28.0' ry='14.3' fill='#ffffff' filter='url(#b13)' opacity='0.85'/>
<ellipse cx='322.0' cy='1215.0' rx='33.2' ry='15.0' fill='#fff6dc' filter='url(#b13)' opacity='0.85'/>
<ellipse cx='311.5' cy='1154.5' rx='15.7' ry='10.5' fill='#f4e4b4' filter='url(#b13)' opacity='0.85'/>
<ellipse cx='275.5' cy='1065.0' rx='13.1' ry='12.4' fill='#f0dca8' filter='url(#b13)' opacity='0.85'/>
<ellipse cx='244.0' cy='1132.0' rx='20.2' ry='12.4' fill='#f0dca8' filter='url(#b13)' opacity='0.85'/>
<ellipse cx='449.0' cy='1127.5' rx='20.2' ry='14.3' fill='#f0dca8' filter='url(#b13)' opacity='0.85'/>
<ellipse cx='246.0' cy='1171.5' rx='8.5' ry='9.2' fill='#f0dca8' filter='url(#b13)' opacity='0.85'/>
<ellipse cx='40.0' cy='915.0' rx='28.0' ry='28.0' fill='#dcc080' filter='url(#b13)' opacity='0.85'/>
<ellipse cx='30.0' cy='1155.0' rx='21.5' ry='21.5' fill='#d8b870' filter='url(#b13)' opacity='0.85'/>
<ellipse cx='36.0' cy='912.0' rx='14.0' ry='14.0' fill='none' stroke='#f0dca0' stroke-width='7' filter='url(#b4)' opacity='0.3'/>
<ellipse cx='36.0' cy='912.0' rx='28.0' ry='28.0' fill='none' stroke='#f0dca0' stroke-width='7' filter='url(#b4)' opacity='0.3'/>
<ellipse cx='36.0' cy='912.0' rx='42.0' ry='42.0' fill='none' stroke='#f0dca0' stroke-width='7' filter='url(#b4)' opacity='0.3'/>
<ellipse cx='28.0' cy='1156.0' rx='18.0' ry='18.0' fill='none' stroke='#f0dca0' stroke-width='7' filter='url(#b4)' opacity='0.3'/>
<ellipse cx='28.0' cy='1156.0' rx='32.0' ry='32.0' fill='none' stroke='#f0dca0' stroke-width='7' filter='url(#b4)' opacity='0.3'/>
<ellipse cx='152.0' cy='1006.0' rx='20.0' ry='20.0' fill='none' stroke='#f0dca0' stroke-width='7' filter='url(#b4)' opacity='0.3'/>
<ellipse cx='152.0' cy='1006.0' rx='34.0' ry='34.0' fill='none' stroke='#f0dca0' stroke-width='7' filter='url(#b4)' opacity='0.3'/>
<ellipse cx='245.0' cy='1030.0' rx='22.0' ry='22.0' fill='none' stroke='#f0dca0' stroke-width='7' filter='url(#b4)' opacity='0.3'/>
<ellipse cx='245.0' cy='1030.0' rx='36.0' ry='36.0' fill='none' stroke='#f0dca0' stroke-width='7' filter='url(#b4)' opacity='0.3'/>
<rect x='2.5' y='843.0' width='465.0' height='407.7' fill='#808080' filter='url(#nz2)' opacity='0.45' style='mix-blend-mode:overlay'/>
</g>
<ellipse cx='270.0' cy='911.0' rx='57.3' ry='57.3' fill='none' stroke='#ffffff' stroke-width='2.6' stroke-dasharray='2.6 3.2'/>
<ellipse cx='201.7' cy='959.6' rx='22.2' ry='22.2' fill='none' stroke='#ffffff' stroke-width='2.6' stroke-dasharray='2.6 3.2'/>
<rect x='4.00' y='844.50' width='462.00' height='404.70' fill='none' stroke='#231f20' stroke-width='3.0'/>
<rect x='5.50' y='1198.00' width='149.60' height='49.00' fill='#2a2018' stroke='none' stroke-width='0' opacity='0.85'/>
<text x='15.50' y='1227.70' font-size='29.5' text-anchor='start' font-weight='bold' font-style='normal' fill='#ffffff'>150 nm</text>
<rect x='16.00' y='1231.90' width='123.00' height='6.40' fill='#eeeeee' stroke='none' stroke-width='0'/>
<g clip-path='url(#clp4)'>
<rect x='-2.00' y='1329.00' width='333.60' height='345.70' fill='#a2a2a2' stroke='none' stroke-width='0'/>
<ellipse cx='0.0' cy='1441.0' rx='50.0' ry='45.0' fill='#6a6a6a' filter='url(#b14)' opacity='0.8'/>
<ellipse cx='10.0' cy='1391.0' rx='30.0' ry='8.0' fill='#555555' filter='url(#b15)' opacity='0.7'/>
<ellipse cx='20.0' cy='1471.0' rx='35.0' ry='6.0' fill='#505050' filter='url(#b15)' opacity='0.7'/>
<ellipse cx='310.0' cy='1461.0' rx='30.0' ry='90.0' fill='#dcdcdc' filter='url(#b16)' opacity='0.85'/>
<ellipse cx='315.0' cy='1581.0' rx='20.0' ry='40.0' fill='#cfcfcf' filter='url(#b14)' opacity='0.7'/>
<ellipse cx='12.0' cy='1621.0' rx='22.0' ry='50.0' fill='#e0e0e0' filter='url(#b14)' opacity='0.9'/>
<ellipse cx='320.0' cy='1621.0' rx='15.0' ry='30.0' fill='#6a6a6a' filter='url(#b17)' opacity='0.6'/>
<ellipse cx='170.0' cy='1361.0' rx='120.0' ry='20.0' fill='#8a8a8a' filter='url(#b14)' opacity='0.5'/>
<ellipse cx='250.0' cy='1651.0' rx='60.0' ry='20.0' fill='#a8a8a8' filter='url(#b14)' opacity='0.5'/>
<ellipse cx='20.0' cy='1551.0' rx='25.0' ry='30.0' fill='#c8c8c8' filter='url(#b14)' opacity='0.6'/>
<ellipse cx='300.0' cy='1651.0' rx='30.0' ry='15.0' fill='#7a7a7a' filter='url(#b17)' opacity='0.6'/>
<ellipse cx='95.0' cy='1349.0' rx='6.0' ry='5.0' fill='#3a3a3a' filter='url(#b0)' opacity='0.7'/>
<ellipse cx='135.0' cy='1351.0' rx='6.0' ry='5.0' fill='#3a3a3a' filter='url(#b0)' opacity='0.7'/>
<ellipse cx='175.0' cy='1355.0' rx='6.0' ry='5.0' fill='#3a3a3a' filter='url(#b0)' opacity='0.7'/>
<ellipse cx='222.0' cy='1353.0' rx='6.0' ry='5.0' fill='#3a3a3a' filter='url(#b0)' opacity='0.7'/>
<ellipse cx='265.0' cy='1359.0' rx='6.0' ry='5.0' fill='#3a3a3a' filter='url(#b0)' opacity='0.7'/>
<ellipse cx='250.0' cy='1401.0' rx='6.0' ry='5.0' fill='#3a3a3a' filter='url(#b0)' opacity='0.7'/>
<ellipse cx='285.0' cy='1411.0' rx='6.0' ry='5.0' fill='#3a3a3a' filter='url(#b0)' opacity='0.7'/>
<ellipse cx='300.0' cy='1441.0' rx='6.0' ry='5.0' fill='#3a3a3a' filter='url(#b0)' opacity='0.7'/>
<ellipse cx='265.0' cy='1441.0' rx='6.0' ry='5.0' fill='#3a3a3a' filter='url(#b0)' opacity='0.7'/>
<ellipse cx='35.0' cy='1426.0' rx='6.0' ry='5.0' fill='#3a3a3a' filter='url(#b0)' opacity='0.7'/>
<ellipse cx='45.0' cy='1531.0' rx='6.0' ry='5.0' fill='#3a3a3a' filter='url(#b0)' opacity='0.7'/>
<ellipse cx='174.0' cy='1636.0' rx='6.0' ry='5.0' fill='#3a3a3a' filter='url(#b0)' opacity='0.7'/>
<ellipse cx='300.0' cy='1571.0' rx='6.0' ry='5.0' fill='#3a3a3a' filter='url(#b0)' opacity='0.7'/>
<ellipse cx='290.0' cy='1531.0' rx='6.0' ry='5.0' fill='#3a3a3a' filter='url(#b0)' opacity='0.7'/>
<ellipse cx='320.0' cy='1391.0' rx='6.0' ry='5.0' fill='#3a3a3a' filter='url(#b0)' opacity='0.7'/>
<ellipse cx='170.0' cy='1631.0' rx='14.0' ry='14.0' fill='none' stroke='#d8d8d8' stroke-width='5' filter='url(#b6)' opacity='0.4'/>
<ellipse cx='170.0' cy='1631.0' rx='21.0' ry='21.0' fill='none' stroke='#666666' stroke-width='4' filter='url(#b6)' opacity='0.32'/>
<ellipse cx='170.0' cy='1631.0' rx='28.0' ry='28.0' fill='none' stroke='#d8d8d8' stroke-width='5' filter='url(#b6)' opacity='0.4'/>
<ellipse cx='170.0' cy='1631.0' rx='35.0' ry='35.0' fill='none' stroke='#666666' stroke-width='4' filter='url(#b6)' opacity='0.32'/>
<ellipse cx='170.0' cy='1631.0' rx='42.0' ry='42.0' fill='none' stroke='#d8d8d8' stroke-width='5' filter='url(#b6)' opacity='0.4'/>
<ellipse cx='170.0' cy='1631.0' rx='49.0' ry='49.0' fill='none' stroke='#666666' stroke-width='4' filter='url(#b6)' opacity='0.32'/>
<ellipse cx='170.0' cy='1631.0' rx='56.0' ry='56.0' fill='none' stroke='#d8d8d8' stroke-width='5' filter='url(#b6)' opacity='0.4'/>
<ellipse cx='170.0' cy='1631.0' rx='63.0' ry='63.0' fill='none' stroke='#666666' stroke-width='4' filter='url(#b6)' opacity='0.32'/>
<ellipse cx='35.0' cy='1521.0' rx='14.0' ry='14.0' fill='none' stroke='#d8d8d8' stroke-width='5' filter='url(#b6)' opacity='0.4'/>
<ellipse cx='35.0' cy='1521.0' rx='21.0' ry='21.0' fill='none' stroke='#666666' stroke-width='4' filter='url(#b6)' opacity='0.32'/>
<ellipse cx='35.0' cy='1521.0' rx='28.0' ry='28.0' fill='none' stroke='#d8d8d8' stroke-width='5' filter='url(#b6)' opacity='0.4'/>
<ellipse cx='35.0' cy='1521.0' rx='35.0' ry='35.0' fill='none' stroke='#666666' stroke-width='4' filter='url(#b6)' opacity='0.32'/>
<ellipse cx='35.0' cy='1521.0' rx='42.0' ry='42.0' fill='none' stroke='#d8d8d8' stroke-width='5' filter='url(#b6)' opacity='0.4'/>
<ellipse cx='35.0' cy='1521.0' rx='49.0' ry='49.0' fill='none' stroke='#666666' stroke-width='4' filter='url(#b6)' opacity='0.32'/>
<ellipse cx='300.0' cy='1536.0' rx='16.0' ry='16.0' fill='none' stroke='#d8d8d8' stroke-width='5' filter='url(#b6)' opacity='0.4'/>
<ellipse cx='300.0' cy='1536.0' rx='23.0' ry='23.0' fill='none' stroke='#666666' stroke-width='4' filter='url(#b6)' opacity='0.32'/>
<ellipse cx='300.0' cy='1536.0' rx='30.0' ry='30.0' fill='none' stroke='#d8d8d8' stroke-width='5' filter='url(#b6)' opacity='0.4'/>
<ellipse cx='300.0' cy='1536.0' rx='37.0' ry='37.0' fill='none' stroke='#666666' stroke-width='4' filter='url(#b6)' opacity='0.32'/>
<ellipse cx='300.0' cy='1536.0' rx='44.0' ry='44.0' fill='none' stroke='#d8d8d8' stroke-width='5' filter='url(#b6)' opacity='0.4'/>
<ellipse cx='300.0' cy='1536.0' rx='51.0' ry='51.0' fill='none' stroke='#666666' stroke-width='4' filter='url(#b6)' opacity='0.32'/>
<ellipse cx='20.0' cy='1631.0' rx='16.0' ry='16.0' fill='none' stroke='#d8d8d8' stroke-width='5' filter='url(#b6)' opacity='0.4'/>
<ellipse cx='20.0' cy='1631.0' rx='23.0' ry='23.0' fill='none' stroke='#666666' stroke-width='4' filter='url(#b6)' opacity='0.32'/>
<ellipse cx='20.0' cy='1631.0' rx='30.0' ry='30.0' fill='none' stroke='#d8d8d8' stroke-width='5' filter='url(#b6)' opacity='0.4'/>
<ellipse cx='20.0' cy='1631.0' rx='37.0' ry='37.0' fill='none' stroke='#666666' stroke-width='4' filter='url(#b6)' opacity='0.32'/>
<rect x='0.0' y='1331.0' width='329.6' height='341.7' fill='#808080' filter='url(#nz3)' opacity='0.5' style='mix-blend-mode:overlay'/>
<g opacity='0.52'>
<ellipse cx='102.0' cy='1395.0' rx='59.0' ry='52.0' fill='#5aa68a'/>
<ellipse cx='203.0' cy='1393.0' rx='42.0' ry='34.0' fill='#5aa68a'/>
<ellipse cx='214.0' cy='1473.0' rx='38.0' ry='46.0' fill='#5aa68a'/>
<ellipse cx='81.0' cy='1508.0' rx='43.0' ry='37.0' fill='#5aa68a'/>
<ellipse cx='155.0' cy='1548.0' rx='42.0' ry='42.0' fill='#5aa68a'/>
<ellipse cx='236.0' cy='1572.0' rx='45.0' ry='47.0' fill='#5aa68a'/>
<ellipse cx='76.0' cy='1605.0' rx='60.0' ry='58.0' fill='#5aa68a'/>
</g>
<ellipse cx='102.0' cy='1395.0' rx='4.5' ry='4.5' fill='#1e4a3a' filter='url(#b8)' opacity='0.55'/>
<ellipse cx='102.0' cy='1395.0' rx='26.6' ry='23.4' fill='none' stroke='#1e4a3a' stroke-width='3' filter='url(#b8)' opacity='0.1925'/>
<ellipse cx='102.0' cy='1395.0' rx='44.2' ry='39.0' fill='none' stroke='#1e4a3a' stroke-width='3' filter='url(#b8)' opacity='0.1925'/>
<ellipse cx='203.0' cy='1393.0' rx='4.5' ry='4.5' fill='#1e4a3a' filter='url(#b8)' opacity='0.55'/>
<ellipse cx='203.0' cy='1393.0' rx='18.9' ry='15.3' fill='none' stroke='#1e4a3a' stroke-width='3' filter='url(#b8)' opacity='0.1925'/>
<ellipse cx='203.0' cy='1393.0' rx='31.5' ry='25.5' fill='none' stroke='#1e4a3a' stroke-width='3' filter='url(#b8)' opacity='0.1925'/>
<ellipse cx='214.0' cy='1473.0' rx='4.5' ry='4.5' fill='#1e4a3a' filter='url(#b8)' opacity='0.55'/>
<ellipse cx='214.0' cy='1473.0' rx='17.1' ry='20.7' fill='none' stroke='#1e4a3a' stroke-width='3' filter='url(#b8)' opacity='0.1925'/>
<ellipse cx='214.0' cy='1473.0' rx='28.5' ry='34.5' fill='none' stroke='#1e4a3a' stroke-width='3' filter='url(#b8)' opacity='0.1925'/>
<ellipse cx='81.0' cy='1508.0' rx='4.5' ry='4.5' fill='#1e4a3a' filter='url(#b8)' opacity='0.55'/>
<ellipse cx='81.0' cy='1508.0' rx='19.4' ry='16.7' fill='none' stroke='#1e4a3a' stroke-width='3' filter='url(#b8)' opacity='0.1925'/>
<ellipse cx='81.0' cy='1508.0' rx='32.2' ry='27.8' fill='none' stroke='#1e4a3a' stroke-width='3' filter='url(#b8)' opacity='0.1925'/>
<ellipse cx='155.0' cy='1548.0' rx='4.5' ry='4.5' fill='#1e4a3a' filter='url(#b8)' opacity='0.55'/>
<ellipse cx='155.0' cy='1548.0' rx='18.9' ry='18.9' fill='none' stroke='#1e4a3a' stroke-width='3' filter='url(#b8)' opacity='0.1925'/>
<ellipse cx='155.0' cy='1548.0' rx='31.5' ry='31.5' fill='none' stroke='#1e4a3a' stroke-width='3' filter='url(#b8)' opacity='0.1925'/>
<ellipse cx='236.0' cy='1572.0' rx='4.5' ry='4.5' fill='#1e4a3a' filter='url(#b8)' opacity='0.55'/>
<ellipse cx='236.0' cy='1572.0' rx='20.2' ry='21.2' fill='none' stroke='#1e4a3a' stroke-width='3' filter='url(#b8)' opacity='0.1925'/>
<ellipse cx='236.0' cy='1572.0' rx='33.8' ry='35.2' fill='none' stroke='#1e4a3a' stroke-width='3' filter='url(#b8)' opacity='0.1925'/>
<ellipse cx='76.0' cy='1605.0' rx='4.5' ry='4.5' fill='#1e4a3a' filter='url(#b8)' opacity='0.55'/>
<ellipse cx='76.0' cy='1605.0' rx='27.0' ry='26.1' fill='none' stroke='#1e4a3a' stroke-width='3' filter='url(#b8)' opacity='0.1925'/>
<ellipse cx='76.0' cy='1605.0' rx='45.0' ry='43.5' fill='none' stroke='#1e4a3a' stroke-width='3' filter='url(#b8)' opacity='0.1925'/>
<g opacity='0.45'>
<ellipse cx='258.0' cy='1429.0' rx='20.0' ry='16.0' fill='#c8207a'/>
<path d='M67,1455 C70,1440 95,1441 112,1451 L150,1449 C170,1450 180,1453 178,1462 L176,1488 C170,1500 145,1512 128,1512 C115,1505 104,1494 96,1478 C86,1470 70,1472 67,1455 Z' fill='#c8207a'/>
<ellipse cx='270.0' cy='1479.0' rx='20.0' ry='19.0' fill='#c8207a'/>
<ellipse cx='266.0' cy='1518.0' rx='25.0' ry='25.0' fill='#c8207a'/>
</g>
<ellipse cx='258.0' cy='1429.0' rx='4.5' ry='4.5' fill='#5a0a3a' filter='url(#b8)' opacity='0.5'/>
<ellipse cx='258.0' cy='1429.0' rx='9.0' ry='7.2' fill='none' stroke='#5a0a3a' stroke-width='3' filter='url(#b8)' opacity='0.175'/>
<ellipse cx='258.0' cy='1429.0' rx='15.0' ry='12.0' fill='none' stroke='#5a0a3a' stroke-width='3' filter='url(#b8)' opacity='0.175'/>
<ellipse cx='270.0' cy='1479.0' rx='4.5' ry='4.5' fill='#5a0a3a' filter='url(#b8)' opacity='0.5'/>
<ellipse cx='270.0' cy='1479.0' rx='9.0' ry='8.6' fill='none' stroke='#5a0a3a' stroke-width='3' filter='url(#b8)' opacity='0.175'/>
<ellipse cx='270.0' cy='1479.0' rx='15.0' ry='14.2' fill='none' stroke='#5a0a3a' stroke-width='3' filter='url(#b8)' opacity='0.175'/>
<ellipse cx='266.0' cy='1518.0' rx='4.5' ry='4.5' fill='#5a0a3a' filter='url(#b8)' opacity='0.5'/>
<ellipse cx='266.0' cy='1518.0' rx='11.2' ry='11.2' fill='none' stroke='#5a0a3a' stroke-width='3' filter='url(#b8)' opacity='0.175'/>
<ellipse cx='266.0' cy='1518.0' rx='18.8' ry='18.8' fill='none' stroke='#5a0a3a' stroke-width='3' filter='url(#b8)' opacity='0.175'/>
</g>
<rect x='1.30' y='1332.30' width='327.00' height='339.10' fill='none' stroke='#231f20' stroke-width='2.6'/>
<rect x='230.00' y='1333.60' width='97.00' height='34.00' fill='#3a3a3a' stroke='none' stroke-width='0' opacity='0.95'/>
<text x='318.00' y='1358.70' font-size='25.5' text-anchor='end' fill='#ffffff'><tspan font-style='italic'>t</tspan>=50s</text>
<rect x='256.60' y='1660.20' width='66.00' height='6.90' fill='#ffffff' stroke='none' stroke-width='0'/>
<g clip-path='url(#clp5)'>
<rect x='331.50' y='1329.00' width='333.20' height='345.70' fill='#a2a2a2' stroke='none' stroke-width='0'/>
<ellipse cx='333.5' cy='1441.0' rx='50.0' ry='45.0' fill='#6a6a6a' filter='url(#b14)' opacity='0.8'/>
<ellipse cx='343.5' cy='1391.0' rx='30.0' ry='8.0' fill='#555555' filter='url(#b15)' opacity='0.7'/>
<ellipse cx='353.5' cy='1471.0' rx='35.0' ry='6.0' fill='#505050' filter='url(#b15)' opacity='0.7'/>
<ellipse cx='643.5' cy='1461.0' rx='30.0' ry='90.0' fill='#dcdcdc' filter='url(#b16)' opacity='0.85'/>
<ellipse cx='648.5' cy='1581.0' rx='20.0' ry='40.0' fill='#cfcfcf' filter='url(#b14)' opacity='0.7'/>
<ellipse cx='345.5' cy='1621.0' rx='22.0' ry='50.0' fill='#e0e0e0' filter='url(#b14)' opacity='0.9'/>
<ellipse cx='653.5' cy='1621.0' rx='15.0' ry='30.0' fill='#6a6a6a' filter='url(#b17)' opacity='0.6'/>
<ellipse cx='503.5' cy='1361.0' rx='120.0' ry='20.0' fill='#8a8a8a' filter='url(#b14)' opacity='0.5'/>
<ellipse cx='583.5' cy='1651.0' rx='60.0' ry='20.0' fill='#a8a8a8' filter='url(#b14)' opacity='0.5'/>
<ellipse cx='353.5' cy='1551.0' rx='25.0' ry='30.0' fill='#c8c8c8' filter='url(#b14)' opacity='0.6'/>
<ellipse cx='633.5' cy='1651.0' rx='30.0' ry='15.0' fill='#7a7a7a' filter='url(#b17)' opacity='0.6'/>
<ellipse cx='428.5' cy='1349.0' rx='6.0' ry='5.0' fill='#3a3a3a' filter='url(#b0)' opacity='0.7'/>
<ellipse cx='468.5' cy='1351.0' rx='6.0' ry='5.0' fill='#3a3a3a' filter='url(#b0)' opacity='0.7'/>
<ellipse cx='508.5' cy='1355.0' rx='6.0' ry='5.0' fill='#3a3a3a' filter='url(#b0)' opacity='0.7'/>
<ellipse cx='555.5' cy='1353.0' rx='6.0' ry='5.0' fill='#3a3a3a' filter='url(#b0)' opacity='0.7'/>
<ellipse cx='598.5' cy='1359.0' rx='6.0' ry='5.0' fill='#3a3a3a' filter='url(#b0)' opacity='0.7'/>
<ellipse cx='583.5' cy='1401.0' rx='6.0' ry='5.0' fill='#3a3a3a' filter='url(#b0)' opacity='0.7'/>
<ellipse cx='618.5' cy='1411.0' rx='6.0' ry='5.0' fill='#3a3a3a' filter='url(#b0)' opacity='0.7'/>
<ellipse cx='633.5' cy='1441.0' rx='6.0' ry='5.0' fill='#3a3a3a' filter='url(#b0)' opacity='0.7'/>
<ellipse cx='598.5' cy='1441.0' rx='6.0' ry='5.0' fill='#3a3a3a' filter='url(#b0)' opacity='0.7'/>
<ellipse cx='368.5' cy='1426.0' rx='6.0' ry='5.0' fill='#3a3a3a' filter='url(#b0)' opacity='0.7'/>
<ellipse cx='378.5' cy='1531.0' rx='6.0' ry='5.0' fill='#3a3a3a' filter='url(#b0)' opacity='0.7'/>
<ellipse cx='507.5' cy='1636.0' rx='6.0' ry='5.0' fill='#3a3a3a' filter='url(#b0)' opacity='0.7'/>
<ellipse cx='633.5' cy='1571.0' rx='6.0' ry='5.0' fill='#3a3a3a' filter='url(#b0)' opacity='0.7'/>
<ellipse cx='623.5' cy='1531.0' rx='6.0' ry='5.0' fill='#3a3a3a' filter='url(#b0)' opacity='0.7'/>
<ellipse cx='653.5' cy='1391.0' rx='6.0' ry='5.0' fill='#3a3a3a' filter='url(#b0)' opacity='0.7'/>
<ellipse cx='503.5' cy='1631.0' rx='14.0' ry='14.0' fill='none' stroke='#d8d8d8' stroke-width='5' filter='url(#b6)' opacity='0.4'/>
<ellipse cx='503.5' cy='1631.0' rx='21.0' ry='21.0' fill='none' stroke='#666666' stroke-width='4' filter='url(#b6)' opacity='0.32'/>
<ellipse cx='503.5' cy='1631.0' rx='28.0' ry='28.0' fill='none' stroke='#d8d8d8' stroke-width='5' filter='url(#b6)' opacity='0.4'/>
<ellipse cx='503.5' cy='1631.0' rx='35.0' ry='35.0' fill='none' stroke='#666666' stroke-width='4' filter='url(#b6)' opacity='0.32'/>
<ellipse cx='503.5' cy='1631.0' rx='42.0' ry='42.0' fill='none' stroke='#d8d8d8' stroke-width='5' filter='url(#b6)' opacity='0.4'/>
<ellipse cx='503.5' cy='1631.0' rx='49.0' ry='49.0' fill='none' stroke='#666666' stroke-width='4' filter='url(#b6)' opacity='0.32'/>
<ellipse cx='503.5' cy='1631.0' rx='56.0' ry='56.0' fill='none' stroke='#d8d8d8' stroke-width='5' filter='url(#b6)' opacity='0.4'/>
<ellipse cx='503.5' cy='1631.0' rx='63.0' ry='63.0' fill='none' stroke='#666666' stroke-width='4' filter='url(#b6)' opacity='0.32'/>
<ellipse cx='368.5' cy='1521.0' rx='14.0' ry='14.0' fill='none' stroke='#d8d8d8' stroke-width='5' filter='url(#b6)' opacity='0.4'/>
<ellipse cx='368.5' cy='1521.0' rx='21.0' ry='21.0' fill='none' stroke='#666666' stroke-width='4' filter='url(#b6)' opacity='0.32'/>
<ellipse cx='368.5' cy='1521.0' rx='28.0' ry='28.0' fill='none' stroke='#d8d8d8' stroke-width='5' filter='url(#b6)' opacity='0.4'/>
<ellipse cx='368.5' cy='1521.0' rx='35.0' ry='35.0' fill='none' stroke='#666666' stroke-width='4' filter='url(#b6)' opacity='0.32'/>
<ellipse cx='368.5' cy='1521.0' rx='42.0' ry='42.0' fill='none' stroke='#d8d8d8' stroke-width='5' filter='url(#b6)' opacity='0.4'/>
<ellipse cx='368.5' cy='1521.0' rx='49.0' ry='49.0' fill='none' stroke='#666666' stroke-width='4' filter='url(#b6)' opacity='0.32'/>
<ellipse cx='633.5' cy='1536.0' rx='16.0' ry='16.0' fill='none' stroke='#d8d8d8' stroke-width='5' filter='url(#b6)' opacity='0.4'/>
<ellipse cx='633.5' cy='1536.0' rx='23.0' ry='23.0' fill='none' stroke='#666666' stroke-width='4' filter='url(#b6)' opacity='0.32'/>
<ellipse cx='633.5' cy='1536.0' rx='30.0' ry='30.0' fill='none' stroke='#d8d8d8' stroke-width='5' filter='url(#b6)' opacity='0.4'/>
<ellipse cx='633.5' cy='1536.0' rx='37.0' ry='37.0' fill='none' stroke='#666666' stroke-width='4' filter='url(#b6)' opacity='0.32'/>
<ellipse cx='633.5' cy='1536.0' rx='44.0' ry='44.0' fill='none' stroke='#d8d8d8' stroke-width='5' filter='url(#b6)' opacity='0.4'/>
<ellipse cx='633.5' cy='1536.0' rx='51.0' ry='51.0' fill='none' stroke='#666666' stroke-width='4' filter='url(#b6)' opacity='0.32'/>
<ellipse cx='353.5' cy='1631.0' rx='16.0' ry='16.0' fill='none' stroke='#d8d8d8' stroke-width='5' filter='url(#b6)' opacity='0.4'/>
<ellipse cx='353.5' cy='1631.0' rx='23.0' ry='23.0' fill='none' stroke='#666666' stroke-width='4' filter='url(#b6)' opacity='0.32'/>
<ellipse cx='353.5' cy='1631.0' rx='30.0' ry='30.0' fill='none' stroke='#d8d8d8' stroke-width='5' filter='url(#b6)' opacity='0.4'/>
<ellipse cx='353.5' cy='1631.0' rx='37.0' ry='37.0' fill='none' stroke='#666666' stroke-width='4' filter='url(#b6)' opacity='0.32'/>
<rect x='333.5' y='1331.0' width='329.2' height='341.7' fill='#808080' filter='url(#nz4)' opacity='0.5' style='mix-blend-mode:overlay'/>
<g opacity='0.52'>
<ellipse cx='435.0' cy='1402.0' rx='58.0' ry='51.0' fill='#5aa68a'/>
<ellipse cx='527.0' cy='1397.0' rx='35.0' ry='32.0' fill='#5aa68a'/>
<ellipse cx='556.0' cy='1478.0' rx='33.0' ry='40.0' fill='#5aa68a'/>
<ellipse cx='421.0' cy='1512.0' rx='47.0' ry='35.0' fill='#5aa68a'/>
<ellipse cx='498.0' cy='1540.0' rx='40.0' ry='42.0' fill='#5aa68a'/>
<ellipse cx='572.0' cy='1571.0' rx='44.0' ry='47.0' fill='#5aa68a'/>
<ellipse cx='412.0' cy='1600.0' rx='62.0' ry='54.0' fill='#5aa68a'/>
</g>
<ellipse cx='435.0' cy='1402.0' rx='4.5' ry='4.5' fill='#1e4a3a' filter='url(#b8)' opacity='0.55'/>
<ellipse cx='435.0' cy='1402.0' rx='26.1' ry='22.9' fill='none' stroke='#1e4a3a' stroke-width='3' filter='url(#b8)' opacity='0.1925'/>
<ellipse cx='435.0' cy='1402.0' rx='43.5' ry='38.2' fill='none' stroke='#1e4a3a' stroke-width='3' filter='url(#b8)' opacity='0.1925'/>
<ellipse cx='527.0' cy='1397.0' rx='4.5' ry='4.5' fill='#1e4a3a' filter='url(#b8)' opacity='0.55'/>
<ellipse cx='527.0' cy='1397.0' rx='15.8' ry='14.4' fill='none' stroke='#1e4a3a' stroke-width='3' filter='url(#b8)' opacity='0.1925'/>
<ellipse cx='527.0' cy='1397.0' rx='26.2' ry='24.0' fill='none' stroke='#1e4a3a' stroke-width='3' filter='url(#b8)' opacity='0.1925'/>
<ellipse cx='556.0' cy='1478.0' rx='4.5' ry='4.5' fill='#1e4a3a' filter='url(#b8)' opacity='0.55'/>
<ellipse cx='556.0' cy='1478.0' rx='14.8' ry='18.0' fill='none' stroke='#1e4a3a' stroke-width='3' filter='url(#b8)' opacity='0.1925'/>
<ellipse cx='556.0' cy='1478.0' rx='24.8' ry='30.0' fill='none' stroke='#1e4a3a' stroke-width='3' filter='url(#b8)' opacity='0.1925'/>
<ellipse cx='421.0' cy='1512.0' rx='4.5' ry='4.5' fill='#1e4a3a' filter='url(#b8)' opacity='0.55'/>
<ellipse cx='421.0' cy='1512.0' rx='21.2' ry='15.8' fill='none' stroke='#1e4a3a' stroke-width='3' filter='url(#b8)' opacity='0.1925'/>
<ellipse cx='421.0' cy='1512.0' rx='35.2' ry='26.2' fill='none' stroke='#1e4a3a' stroke-width='3' filter='url(#b8)' opacity='0.1925'/>
<ellipse cx='498.0' cy='1540.0' rx='4.5' ry='4.5' fill='#1e4a3a' filter='url(#b8)' opacity='0.55'/>
<ellipse cx='498.0' cy='1540.0' rx='18.0' ry='18.9' fill='none' stroke='#1e4a3a' stroke-width='3' filter='url(#b8)' opacity='0.1925'/>
<ellipse cx='498.0' cy='1540.0' rx='30.0' ry='31.5' fill='none' stroke='#1e4a3a' stroke-width='3' filter='url(#b8)' opacity='0.1925'/>
<ellipse cx='572.0' cy='1571.0' rx='4.5' ry='4.5' fill='#1e4a3a' filter='url(#b8)' opacity='0.55'/>
<ellipse cx='572.0' cy='1571.0' rx='19.8' ry='21.2' fill='none' stroke='#1e4a3a' stroke-width='3' filter='url(#b8)' opacity='0.1925'/>
<ellipse cx='572.0' cy='1571.0' rx='33.0' ry='35.2' fill='none' stroke='#1e4a3a' stroke-width='3' filter='url(#b8)' opacity='0.1925'/>
<ellipse cx='412.0' cy='1600.0' rx='4.5' ry='4.5' fill='#1e4a3a' filter='url(#b8)' opacity='0.55'/>
<ellipse cx='412.0' cy='1600.0' rx='27.9' ry='24.3' fill='none' stroke='#1e4a3a' stroke-width='3' filter='url(#b8)' opacity='0.1925'/>
<ellipse cx='412.0' cy='1600.0' rx='46.5' ry='40.5' fill='none' stroke='#1e4a3a' stroke-width='3' filter='url(#b8)' opacity='0.1925'/>
<g opacity='0.45'>
<ellipse cx='561.0' cy='1429.0' rx='24.0' ry='15.0' fill='#c8207a'/>
<ellipse cx='420.0' cy='1465.0' rx='19.0' ry='14.0' fill='#c8207a'/>
<ellipse cx='456.0' cy='1478.0' rx='18.0' ry='13.0' fill='#c8207a'/>
<ellipse cx='477.0' cy='1495.0' rx='13.0' ry='11.0' fill='#c8207a'/>
<ellipse cx='502.0' cy='1473.0' rx='24.0' ry='24.0' fill='#c8207a'/>
<ellipse cx='614.0' cy='1472.0' rx='21.0' ry='17.0' fill='#c8207a'/>
<ellipse cx='606.0' cy='1507.0' rx='23.0' ry='24.0' fill='#c8207a'/>
</g>
<ellipse cx='561.0' cy='1429.0' rx='4.5' ry='4.5' fill='#5a0a3a' filter='url(#b8)' opacity='0.5'/>
<ellipse cx='561.0' cy='1429.0' rx='10.8' ry='6.8' fill='none' stroke='#5a0a3a' stroke-width='3' filter='url(#b8)' opacity='0.175'/>
<ellipse cx='561.0' cy='1429.0' rx='18.0' ry='11.2' fill='none' stroke='#5a0a3a' stroke-width='3' filter='url(#b8)' opacity='0.175'/>
<ellipse cx='420.0' cy='1465.0' rx='4.5' ry='4.5' fill='#5a0a3a' filter='url(#b8)' opacity='0.5'/>
<ellipse cx='420.0' cy='1465.0' rx='8.6' ry='6.3' fill='none' stroke='#5a0a3a' stroke-width='3' filter='url(#b8)' opacity='0.175'/>
<ellipse cx='420.0' cy='1465.0' rx='14.2' ry='10.5' fill='none' stroke='#5a0a3a' stroke-width='3' filter='url(#b8)' opacity='0.175'/>
<ellipse cx='456.0' cy='1478.0' rx='4.5' ry='4.5' fill='#5a0a3a' filter='url(#b8)' opacity='0.5'/>
<ellipse cx='456.0' cy='1478.0' rx='8.1' ry='5.9' fill='none' stroke='#5a0a3a' stroke-width='3' filter='url(#b8)' opacity='0.175'/>
<ellipse cx='456.0' cy='1478.0' rx='13.5' ry='9.8' fill='none' stroke='#5a0a3a' stroke-width='3' filter='url(#b8)' opacity='0.175'/>
<ellipse cx='477.0' cy='1495.0' rx='4.5' ry='4.5' fill='#5a0a3a' filter='url(#b8)' opacity='0.5'/>
<ellipse cx='477.0' cy='1495.0' rx='5.9' ry='5.0' fill='none' stroke='#5a0a3a' stroke-width='3' filter='url(#b8)' opacity='0.175'/>
<ellipse cx='477.0' cy='1495.0' rx='9.8' ry='8.2' fill='none' stroke='#5a0a3a' stroke-width='3' filter='url(#b8)' opacity='0.175'/>
<ellipse cx='502.0' cy='1473.0' rx='4.5' ry='4.5' fill='#5a0a3a' filter='url(#b8)' opacity='0.5'/>
<ellipse cx='502.0' cy='1473.0' rx='10.8' ry='10.8' fill='none' stroke='#5a0a3a' stroke-width='3' filter='url(#b8)' opacity='0.175'/>
<ellipse cx='502.0' cy='1473.0' rx='18.0' ry='18.0' fill='none' stroke='#5a0a3a' stroke-width='3' filter='url(#b8)' opacity='0.175'/>
<ellipse cx='614.0' cy='1472.0' rx='4.5' ry='4.5' fill='#5a0a3a' filter='url(#b8)' opacity='0.5'/>
<ellipse cx='614.0' cy='1472.0' rx='9.5' ry='7.7' fill='none' stroke='#5a0a3a' stroke-width='3' filter='url(#b8)' opacity='0.175'/>
<ellipse cx='614.0' cy='1472.0' rx='15.8' ry='12.8' fill='none' stroke='#5a0a3a' stroke-width='3' filter='url(#b8)' opacity='0.175'/>
<ellipse cx='606.0' cy='1507.0' rx='4.5' ry='4.5' fill='#5a0a3a' filter='url(#b8)' opacity='0.5'/>
<ellipse cx='606.0' cy='1507.0' rx='10.3' ry='10.8' fill='none' stroke='#5a0a3a' stroke-width='3' filter='url(#b8)' opacity='0.175'/>
<ellipse cx='606.0' cy='1507.0' rx='17.2' ry='18.0' fill='none' stroke='#5a0a3a' stroke-width='3' filter='url(#b8)' opacity='0.175'/>
</g>
<rect x='334.80' y='1332.30' width='326.60' height='339.10' fill='none' stroke='#231f20' stroke-width='2.6'/>
<rect x='563.10' y='1333.60' width='97.00' height='34.00' fill='#3a3a3a' stroke='none' stroke-width='0' opacity='0.95'/>
<text x='651.10' y='1358.70' font-size='25.5' text-anchor='end' fill='#ffffff'><tspan font-style='italic'>t</tspan>=150s</text>
<rect x='589.70' y='1660.20' width='66.00' height='6.90' fill='#ffffff' stroke='none' stroke-width='0'/>
<g clip-path='url(#clp6)'>
<rect x='-2.00' y='1675.40' width='333.60' height='345.30' fill='#a2a2a2' stroke='none' stroke-width='0'/>
<ellipse cx='0.0' cy='1787.4' rx='50.0' ry='45.0' fill='#6a6a6a' filter='url(#b14)' opacity='0.8'/>
<ellipse cx='10.0' cy='1737.4' rx='30.0' ry='8.0' fill='#555555' filter='url(#b15)' opacity='0.7'/>
<ellipse cx='20.0' cy='1817.4' rx='35.0' ry='6.0' fill='#505050' filter='url(#b15)' opacity='0.7'/>
<ellipse cx='310.0' cy='1807.4' rx='30.0' ry='90.0' fill='#dcdcdc' filter='url(#b16)' opacity='0.85'/>
<ellipse cx='315.0' cy='1927.4' rx='20.0' ry='40.0' fill='#cfcfcf' filter='url(#b14)' opacity='0.7'/>
<ellipse cx='12.0' cy='1967.4' rx='22.0' ry='50.0' fill='#e0e0e0' filter='url(#b14)' opacity='0.9'/>
<ellipse cx='320.0' cy='1967.4' rx='15.0' ry='30.0' fill='#6a6a6a' filter='url(#b17)' opacity='0.6'/>
<ellipse cx='170.0' cy='1707.4' rx='120.0' ry='20.0' fill='#8a8a8a' filter='url(#b14)' opacity='0.5'/>
<ellipse cx='250.0' cy='1997.4' rx='60.0' ry='20.0' fill='#a8a8a8' filter='url(#b14)' opacity='0.5'/>
<ellipse cx='20.0' cy='1897.4' rx='25.0' ry='30.0' fill='#c8c8c8' filter='url(#b14)' opacity='0.6'/>
<ellipse cx='300.0' cy='1997.4' rx='30.0' ry='15.0' fill='#7a7a7a' filter='url(#b17)' opacity='0.6'/>
<ellipse cx='95.0' cy='1695.4' rx='6.0' ry='5.0' fill='#3a3a3a' filter='url(#b0)' opacity='0.7'/>
<ellipse cx='135.0' cy='1697.4' rx='6.0' ry='5.0' fill='#3a3a3a' filter='url(#b0)' opacity='0.7'/>
<ellipse cx='175.0' cy='1701.4' rx='6.0' ry='5.0' fill='#3a3a3a' filter='url(#b0)' opacity='0.7'/>
<ellipse cx='222.0' cy='1699.4' rx='6.0' ry='5.0' fill='#3a3a3a' filter='url(#b0)' opacity='0.7'/>
<ellipse cx='265.0' cy='1705.4' rx='6.0' ry='5.0' fill='#3a3a3a' filter='url(#b0)' opacity='0.7'/>
<ellipse cx='250.0' cy='1747.4' rx='6.0' ry='5.0' fill='#3a3a3a' filter='url(#b0)' opacity='0.7'/>
<ellipse cx='285.0' cy='1757.4' rx='6.0' ry='5.0' fill='#3a3a3a' filter='url(#b0)' opacity='0.7'/>
<ellipse cx='300.0' cy='1787.4' rx='6.0' ry='5.0' fill='#3a3a3a' filter='url(#b0)' opacity='0.7'/>
<ellipse cx='265.0' cy='1787.4' rx='6.0' ry='5.0' fill='#3a3a3a' filter='url(#b0)' opacity='0.7'/>
<ellipse cx='35.0' cy='1772.4' rx='6.0' ry='5.0' fill='#3a3a3a' filter='url(#b0)' opacity='0.7'/>
<ellipse cx='45.0' cy='1877.4' rx='6.0' ry='5.0' fill='#3a3a3a' filter='url(#b0)' opacity='0.7'/>
<ellipse cx='174.0' cy='1982.4' rx='6.0' ry='5.0' fill='#3a3a3a' filter='url(#b0)' opacity='0.7'/>
<ellipse cx='300.0' cy='1917.4' rx='6.0' ry='5.0' fill='#3a3a3a' filter='url(#b0)' opacity='0.7'/>
<ellipse cx='290.0' cy='1877.4' rx='6.0' ry='5.0' fill='#3a3a3a' filter='url(#b0)' opacity='0.7'/>
<ellipse cx='320.0' cy='1737.4' rx='6.0' ry='5.0' fill='#3a3a3a' filter='url(#b0)' opacity='0.7'/>
<ellipse cx='170.0' cy='1977.4' rx='14.0' ry='14.0' fill='none' stroke='#d8d8d8' stroke-width='5' filter='url(#b6)' opacity='0.4'/>
<ellipse cx='170.0' cy='1977.4' rx='21.0' ry='21.0' fill='none' stroke='#666666' stroke-width='4' filter='url(#b6)' opacity='0.32'/>
<ellipse cx='170.0' cy='1977.4' rx='28.0' ry='28.0' fill='none' stroke='#d8d8d8' stroke-width='5' filter='url(#b6)' opacity='0.4'/>
<ellipse cx='170.0' cy='1977.4' rx='35.0' ry='35.0' fill='none' stroke='#666666' stroke-width='4' filter='url(#b6)' opacity='0.32'/>
<ellipse cx='170.0' cy='1977.4' rx='42.0' ry='42.0' fill='none' stroke='#d8d8d8' stroke-width='5' filter='url(#b6)' opacity='0.4'/>
<ellipse cx='170.0' cy='1977.4' rx='49.0' ry='49.0' fill='none' stroke='#666666' stroke-width='4' filter='url(#b6)' opacity='0.32'/>
<ellipse cx='170.0' cy='1977.4' rx='56.0' ry='56.0' fill='none' stroke='#d8d8d8' stroke-width='5' filter='url(#b6)' opacity='0.4'/>
<ellipse cx='170.0' cy='1977.4' rx='63.0' ry='63.0' fill='none' stroke='#666666' stroke-width='4' filter='url(#b6)' opacity='0.32'/>
<ellipse cx='35.0' cy='1867.4' rx='14.0' ry='14.0' fill='none' stroke='#d8d8d8' stroke-width='5' filter='url(#b6)' opacity='0.4'/>
<ellipse cx='35.0' cy='1867.4' rx='21.0' ry='21.0' fill='none' stroke='#666666' stroke-width='4' filter='url(#b6)' opacity='0.32'/>
<ellipse cx='35.0' cy='1867.4' rx='28.0' ry='28.0' fill='none' stroke='#d8d8d8' stroke-width='5' filter='url(#b6)' opacity='0.4'/>
<ellipse cx='35.0' cy='1867.4' rx='35.0' ry='35.0' fill='none' stroke='#666666' stroke-width='4' filter='url(#b6)' opacity='0.32'/>
<ellipse cx='35.0' cy='1867.4' rx='42.0' ry='42.0' fill='none' stroke='#d8d8d8' stroke-width='5' filter='url(#b6)' opacity='0.4'/>
<ellipse cx='35.0' cy='1867.4' rx='49.0' ry='49.0' fill='none' stroke='#666666' stroke-width='4' filter='url(#b6)' opacity='0.32'/>
<ellipse cx='300.0' cy='1882.4' rx='16.0' ry='16.0' fill='none' stroke='#d8d8d8' stroke-width='5' filter='url(#b6)' opacity='0.4'/>
<ellipse cx='300.0' cy='1882.4' rx='23.0' ry='23.0' fill='none' stroke='#666666' stroke-width='4' filter='url(#b6)' opacity='0.32'/>
<ellipse cx='300.0' cy='1882.4' rx='30.0' ry='30.0' fill='none' stroke='#d8d8d8' stroke-width='5' filter='url(#b6)' opacity='0.4'/>
<ellipse cx='300.0' cy='1882.4' rx='37.0' ry='37.0' fill='none' stroke='#666666' stroke-width='4' filter='url(#b6)' opacity='0.32'/>
<ellipse cx='300.0' cy='1882.4' rx='44.0' ry='44.0' fill='none' stroke='#d8d8d8' stroke-width='5' filter='url(#b6)' opacity='0.4'/>
<ellipse cx='300.0' cy='1882.4' rx='51.0' ry='51.0' fill='none' stroke='#666666' stroke-width='4' filter='url(#b6)' opacity='0.32'/>
<ellipse cx='20.0' cy='1977.4' rx='16.0' ry='16.0' fill='none' stroke='#d8d8d8' stroke-width='5' filter='url(#b6)' opacity='0.4'/>
<ellipse cx='20.0' cy='1977.4' rx='23.0' ry='23.0' fill='none' stroke='#666666' stroke-width='4' filter='url(#b6)' opacity='0.32'/>
<ellipse cx='20.0' cy='1977.4' rx='30.0' ry='30.0' fill='none' stroke='#d8d8d8' stroke-width='5' filter='url(#b6)' opacity='0.4'/>
<ellipse cx='20.0' cy='1977.4' rx='37.0' ry='37.0' fill='none' stroke='#666666' stroke-width='4' filter='url(#b6)' opacity='0.32'/>
<rect x='0.0' y='1677.4' width='329.6' height='341.3' fill='#808080' filter='url(#nz5)' opacity='0.5' style='mix-blend-mode:overlay'/>
<g opacity='0.52'>
<ellipse cx='102.0' cy='1750.0' rx='58.0' ry='51.0' fill='#5aa68a'/>
<ellipse cx='195.0' cy='1742.0' rx='34.0' ry='31.0' fill='#5aa68a'/>
<ellipse cx='225.0' cy='1825.0' rx='35.0' ry='39.0' fill='#5aa68a'/>
<ellipse cx='86.0' cy='1860.0' rx='48.0' ry='37.0' fill='#5aa68a'/>
<ellipse cx='165.0' cy='1886.0' rx='42.0' ry='41.0' fill='#5aa68a'/>
<ellipse cx='241.0' cy='1921.0' rx='45.0' ry='45.0' fill='#5aa68a'/>
<ellipse cx='80.0' cy='1948.0' rx='60.0' ry='51.0' fill='#5aa68a'/>
</g>
<ellipse cx='102.0' cy='1750.0' rx='4.5' ry='4.5' fill='#1e4a3a' filter='url(#b8)' opacity='0.55'/>
<ellipse cx='102.0' cy='1750.0' rx='26.1' ry='22.9' fill='none' stroke='#1e4a3a' stroke-width='3' filter='url(#b8)' opacity='0.1925'/>
<ellipse cx='102.0' cy='1750.0' rx='43.5' ry='38.2' fill='none' stroke='#1e4a3a' stroke-width='3' filter='url(#b8)' opacity='0.1925'/>
<ellipse cx='195.0' cy='1742.0' rx='4.5' ry='4.5' fill='#1e4a3a' filter='url(#b8)' opacity='0.55'/>
<ellipse cx='195.0' cy='1742.0' rx='15.3' ry='14.0' fill='none' stroke='#1e4a3a' stroke-width='3' filter='url(#b8)' opacity='0.1925'/>
<ellipse cx='195.0' cy='1742.0' rx='25.5' ry='23.2' fill='none' stroke='#1e4a3a' stroke-width='3' filter='url(#b8)' opacity='0.1925'/>
<ellipse cx='225.0' cy='1825.0' rx='4.5' ry='4.5' fill='#1e4a3a' filter='url(#b8)' opacity='0.55'/>
<ellipse cx='225.0' cy='1825.0' rx='15.8' ry='17.6' fill='none' stroke='#1e4a3a' stroke-width='3' filter='url(#b8)' opacity='0.1925'/>
<ellipse cx='225.0' cy='1825.0' rx='26.2' ry='29.2' fill='none' stroke='#1e4a3a' stroke-width='3' filter='url(#b8)' opacity='0.1925'/>
<ellipse cx='86.0' cy='1860.0' rx='4.5' ry='4.5' fill='#1e4a3a' filter='url(#b8)' opacity='0.55'/>
<ellipse cx='86.0' cy='1860.0' rx='21.6' ry='16.7' fill='none' stroke='#1e4a3a' stroke-width='3' filter='url(#b8)' opacity='0.1925'/>
<ellipse cx='86.0' cy='1860.0' rx='36.0' ry='27.8' fill='none' stroke='#1e4a3a' stroke-width='3' filter='url(#b8)' opacity='0.1925'/>
<ellipse cx='165.0' cy='1886.0' rx='4.5' ry='4.5' fill='#1e4a3a' filter='url(#b8)' opacity='0.55'/>
<ellipse cx='165.0' cy='1886.0' rx='18.9' ry='18.4' fill='none' stroke='#1e4a3a' stroke-width='3' filter='url(#b8)' opacity='0.1925'/>
<ellipse cx='165.0' cy='1886.0' rx='31.5' ry='30.8' fill='none' stroke='#1e4a3a' stroke-width='3' filter='url(#b8)' opacity='0.1925'/>
<ellipse cx='241.0' cy='1921.0' rx='4.5' ry='4.5' fill='#1e4a3a' filter='url(#b8)' opacity='0.55'/>
<ellipse cx='241.0' cy='1921.0' rx='20.2' ry='20.2' fill='none' stroke='#1e4a3a' stroke-width='3' filter='url(#b8)' opacity='0.1925'/>
<ellipse cx='241.0' cy='1921.0' rx='33.8' ry='33.8' fill='none' stroke='#1e4a3a' stroke-width='3' filter='url(#b8)' opacity='0.1925'/>
<ellipse cx='80.0' cy='1948.0' rx='4.5' ry='4.5' fill='#1e4a3a' filter='url(#b8)' opacity='0.55'/>
<ellipse cx='80.0' cy='1948.0' rx='27.0' ry='22.9' fill='none' stroke='#1e4a3a' stroke-width='3' filter='url(#b8)' opacity='0.1925'/>
<ellipse cx='80.0' cy='1948.0' rx='45.0' ry='38.2' fill='none' stroke='#1e4a3a' stroke-width='3' filter='url(#b8)' opacity='0.1925'/>
<g opacity='0.45'>
<ellipse cx='227.0' cy='1776.0' rx='24.0' ry='16.0' fill='#c8207a'/>
<path d='M70,1800 C70,1790 80,1788 95,1789 L130,1790 C140,1785 150,1790 160,1790 L185,1792 C192,1800 192,1830 190,1845 C180,1852 150,1852 140,1850 C130,1845 120,1835 110,1825 C95,1822 75,1823 70,1815 Z' fill='#c8207a'/>
<ellipse cx='280.0' cy='1817.0' rx='21.0' ry='19.0' fill='#c8207a'/>
<ellipse cx='276.0' cy='1855.0' rx='24.0' ry='23.0' fill='#c8207a'/>
</g>
<ellipse cx='227.0' cy='1776.0' rx='4.5' ry='4.5' fill='#5a0a3a' filter='url(#b8)' opacity='0.5'/>
<ellipse cx='227.0' cy='1776.0' rx='10.8' ry='7.2' fill='none' stroke='#5a0a3a' stroke-width='3' filter='url(#b8)' opacity='0.175'/>
<ellipse cx='227.0' cy='1776.0' rx='18.0' ry='12.0' fill='none' stroke='#5a0a3a' stroke-width='3' filter='url(#b8)' opacity='0.175'/>
<ellipse cx='280.0' cy='1817.0' rx='4.5' ry='4.5' fill='#5a0a3a' filter='url(#b8)' opacity='0.5'/>
<ellipse cx='280.0' cy='1817.0' rx='9.5' ry='8.6' fill='none' stroke='#5a0a3a' stroke-width='3' filter='url(#b8)' opacity='0.175'/>
<ellipse cx='280.0' cy='1817.0' rx='15.8' ry='14.2' fill='none' stroke='#5a0a3a' stroke-width='3' filter='url(#b8)' opacity='0.175'/>
<ellipse cx='276.0' cy='1855.0' rx='4.5' ry='4.5' fill='#5a0a3a' filter='url(#b8)' opacity='0.5'/>
<ellipse cx='276.0' cy='1855.0' rx='10.8' ry='10.3' fill='none' stroke='#5a0a3a' stroke-width='3' filter='url(#b8)' opacity='0.175'/>
<ellipse cx='276.0' cy='1855.0' rx='18.0' ry='17.2' fill='none' stroke='#5a0a3a' stroke-width='3' filter='url(#b8)' opacity='0.175'/>
</g>
<rect x='1.30' y='1678.70' width='327.00' height='338.70' fill='none' stroke='#231f20' stroke-width='2.6'/>
<rect x='230.00' y='1680.00' width='97.00' height='34.00' fill='#3a3a3a' stroke='none' stroke-width='0' opacity='0.95'/>
<text x='318.00' y='1705.10' font-size='25.5' text-anchor='end' fill='#ffffff'><tspan font-style='italic'>t</tspan>=250s</text>
<rect x='256.60' y='2006.20' width='66.00' height='6.90' fill='#ffffff' stroke='none' stroke-width='0'/>
<g clip-path='url(#clp7)'>
<rect x='331.50' y='1675.40' width='333.20' height='345.30' fill='#a2a2a2' stroke='none' stroke-width='0'/>
<ellipse cx='333.5' cy='1787.4' rx='50.0' ry='45.0' fill='#6a6a6a' filter='url(#b14)' opacity='0.8'/>
<ellipse cx='343.5' cy='1737.4' rx='30.0' ry='8.0' fill='#555555' filter='url(#b15)' opacity='0.7'/>
<ellipse cx='353.5' cy='1817.4' rx='35.0' ry='6.0' fill='#505050' filter='url(#b15)' opacity='0.7'/>
<ellipse cx='643.5' cy='1807.4' rx='30.0' ry='90.0' fill='#dcdcdc' filter='url(#b16)' opacity='0.85'/>
<ellipse cx='648.5' cy='1927.4' rx='20.0' ry='40.0' fill='#cfcfcf' filter='url(#b14)' opacity='0.7'/>
<ellipse cx='345.5' cy='1967.4' rx='22.0' ry='50.0' fill='#e0e0e0' filter='url(#b14)' opacity='0.9'/>
<ellipse cx='653.5' cy='1967.4' rx='15.0' ry='30.0' fill='#6a6a6a' filter='url(#b17)' opacity='0.6'/>
<ellipse cx='503.5' cy='1707.4' rx='120.0' ry='20.0' fill='#8a8a8a' filter='url(#b14)' opacity='0.5'/>
<ellipse cx='583.5' cy='1997.4' rx='60.0' ry='20.0' fill='#a8a8a8' filter='url(#b14)' opacity='0.5'/>
<ellipse cx='353.5' cy='1897.4' rx='25.0' ry='30.0' fill='#c8c8c8' filter='url(#b14)' opacity='0.6'/>
<ellipse cx='633.5' cy='1997.4' rx='30.0' ry='15.0' fill='#7a7a7a' filter='url(#b17)' opacity='0.6'/>
<ellipse cx='428.5' cy='1695.4' rx='6.0' ry='5.0' fill='#3a3a3a' filter='url(#b0)' opacity='0.7'/>
<ellipse cx='468.5' cy='1697.4' rx='6.0' ry='5.0' fill='#3a3a3a' filter='url(#b0)' opacity='0.7'/>
<ellipse cx='508.5' cy='1701.4' rx='6.0' ry='5.0' fill='#3a3a3a' filter='url(#b0)' opacity='0.7'/>
<ellipse cx='555.5' cy='1699.4' rx='6.0' ry='5.0' fill='#3a3a3a' filter='url(#b0)' opacity='0.7'/>
<ellipse cx='598.5' cy='1705.4' rx='6.0' ry='5.0' fill='#3a3a3a' filter='url(#b0)' opacity='0.7'/>
<ellipse cx='583.5' cy='1747.4' rx='6.0' ry='5.0' fill='#3a3a3a' filter='url(#b0)' opacity='0.7'/>
<ellipse cx='618.5' cy='1757.4' rx='6.0' ry='5.0' fill='#3a3a3a' filter='url(#b0)' opacity='0.7'/>
<ellipse cx='633.5' cy='1787.4' rx='6.0' ry='5.0' fill='#3a3a3a' filter='url(#b0)' opacity='0.7'/>
<ellipse cx='598.5' cy='1787.4' rx='6.0' ry='5.0' fill='#3a3a3a' filter='url(#b0)' opacity='0.7'/>
<ellipse cx='368.5' cy='1772.4' rx='6.0' ry='5.0' fill='#3a3a3a' filter='url(#b0)' opacity='0.7'/>
<ellipse cx='378.5' cy='1877.4' rx='6.0' ry='5.0' fill='#3a3a3a' filter='url(#b0)' opacity='0.7'/>
<ellipse cx='507.5' cy='1982.4' rx='6.0' ry='5.0' fill='#3a3a3a' filter='url(#b0)' opacity='0.7'/>
<ellipse cx='633.5' cy='1917.4' rx='6.0' ry='5.0' fill='#3a3a3a' filter='url(#b0)' opacity='0.7'/>
<ellipse cx='623.5' cy='1877.4' rx='6.0' ry='5.0' fill='#3a3a3a' filter='url(#b0)' opacity='0.7'/>
<ellipse cx='653.5' cy='1737.4' rx='6.0' ry='5.0' fill='#3a3a3a' filter='url(#b0)' opacity='0.7'/>
<ellipse cx='503.5' cy='1977.4' rx='14.0' ry='14.0' fill='none' stroke='#d8d8d8' stroke-width='5' filter='url(#b6)' opacity='0.4'/>
<ellipse cx='503.5' cy='1977.4' rx='21.0' ry='21.0' fill='none' stroke='#666666' stroke-width='4' filter='url(#b6)' opacity='0.32'/>
<ellipse cx='503.5' cy='1977.4' rx='28.0' ry='28.0' fill='none' stroke='#d8d8d8' stroke-width='5' filter='url(#b6)' opacity='0.4'/>
<ellipse cx='503.5' cy='1977.4' rx='35.0' ry='35.0' fill='none' stroke='#666666' stroke-width='4' filter='url(#b6)' opacity='0.32'/>
<ellipse cx='503.5' cy='1977.4' rx='42.0' ry='42.0' fill='none' stroke='#d8d8d8' stroke-width='5' filter='url(#b6)' opacity='0.4'/>
<ellipse cx='503.5' cy='1977.4' rx='49.0' ry='49.0' fill='none' stroke='#666666' stroke-width='4' filter='url(#b6)' opacity='0.32'/>
<ellipse cx='503.5' cy='1977.4' rx='56.0' ry='56.0' fill='none' stroke='#d8d8d8' stroke-width='5' filter='url(#b6)' opacity='0.4'/>
<ellipse cx='503.5' cy='1977.4' rx='63.0' ry='63.0' fill='none' stroke='#666666' stroke-width='4' filter='url(#b6)' opacity='0.32'/>
<ellipse cx='368.5' cy='1867.4' rx='14.0' ry='14.0' fill='none' stroke='#d8d8d8' stroke-width='5' filter='url(#b6)' opacity='0.4'/>
<ellipse cx='368.5' cy='1867.4' rx='21.0' ry='21.0' fill='none' stroke='#666666' stroke-width='4' filter='url(#b6)' opacity='0.32'/>
<ellipse cx='368.5' cy='1867.4' rx='28.0' ry='28.0' fill='none' stroke='#d8d8d8' stroke-width='5' filter='url(#b6)' opacity='0.4'/>
<ellipse cx='368.5' cy='1867.4' rx='35.0' ry='35.0' fill='none' stroke='#666666' stroke-width='4' filter='url(#b6)' opacity='0.32'/>
<ellipse cx='368.5' cy='1867.4' rx='42.0' ry='42.0' fill='none' stroke='#d8d8d8' stroke-width='5' filter='url(#b6)' opacity='0.4'/>
<ellipse cx='368.5' cy='1867.4' rx='49.0' ry='49.0' fill='none' stroke='#666666' stroke-width='4' filter='url(#b6)' opacity='0.32'/>
<ellipse cx='633.5' cy='1882.4' rx='16.0' ry='16.0' fill='none' stroke='#d8d8d8' stroke-width='5' filter='url(#b6)' opacity='0.4'/>
<ellipse cx='633.5' cy='1882.4' rx='23.0' ry='23.0' fill='none' stroke='#666666' stroke-width='4' filter='url(#b6)' opacity='0.32'/>
<ellipse cx='633.5' cy='1882.4' rx='30.0' ry='30.0' fill='none' stroke='#d8d8d8' stroke-width='5' filter='url(#b6)' opacity='0.4'/>
<ellipse cx='633.5' cy='1882.4' rx='37.0' ry='37.0' fill='none' stroke='#666666' stroke-width='4' filter='url(#b6)' opacity='0.32'/>
<ellipse cx='633.5' cy='1882.4' rx='44.0' ry='44.0' fill='none' stroke='#d8d8d8' stroke-width='5' filter='url(#b6)' opacity='0.4'/>
<ellipse cx='633.5' cy='1882.4' rx='51.0' ry='51.0' fill='none' stroke='#666666' stroke-width='4' filter='url(#b6)' opacity='0.32'/>
<ellipse cx='353.5' cy='1977.4' rx='16.0' ry='16.0' fill='none' stroke='#d8d8d8' stroke-width='5' filter='url(#b6)' opacity='0.4'/>
<ellipse cx='353.5' cy='1977.4' rx='23.0' ry='23.0' fill='none' stroke='#666666' stroke-width='4' filter='url(#b6)' opacity='0.32'/>
<ellipse cx='353.5' cy='1977.4' rx='30.0' ry='30.0' fill='none' stroke='#d8d8d8' stroke-width='5' filter='url(#b6)' opacity='0.4'/>
<ellipse cx='353.5' cy='1977.4' rx='37.0' ry='37.0' fill='none' stroke='#666666' stroke-width='4' filter='url(#b6)' opacity='0.32'/>
<rect x='333.5' y='1677.4' width='329.2' height='341.3' fill='#808080' filter='url(#nz6)' opacity='0.5' style='mix-blend-mode:overlay'/>
<g opacity='0.52'>
<ellipse cx='441.0' cy='1751.0' rx='49.0' ry='55.0' fill='#5aa68a'/>
<ellipse cx='524.0' cy='1736.0' rx='34.0' ry='40.0' fill='#5aa68a'/>
<ellipse cx='558.0' cy='1851.0' rx='37.0' ry='35.0' fill='#5aa68a'/>
<ellipse cx='428.0' cy='1874.0' rx='40.0' ry='36.0' fill='#5aa68a'/>
<ellipse cx='488.0' cy='1905.0' rx='47.0' ry='41.0' fill='#5aa68a'/>
<ellipse cx='581.0' cy='1917.0' rx='46.0' ry='45.0' fill='#5aa68a'/>
<ellipse cx='421.0' cy='1952.0' rx='56.0' ry='45.0' fill='#5aa68a'/>
</g>
<ellipse cx='441.0' cy='1751.0' rx='4.5' ry='4.5' fill='#1e4a3a' filter='url(#b8)' opacity='0.55'/>
<ellipse cx='441.0' cy='1751.0' rx='22.1' ry='24.8' fill='none' stroke='#1e4a3a' stroke-width='3' filter='url(#b8)' opacity='0.1925'/>
<ellipse cx='441.0' cy='1751.0' rx='36.8' ry='41.2' fill='none' stroke='#1e4a3a' stroke-width='3' filter='url(#b8)' opacity='0.1925'/>
<ellipse cx='524.0' cy='1736.0' rx='4.5' ry='4.5' fill='#1e4a3a' filter='url(#b8)' opacity='0.55'/>
<ellipse cx='524.0' cy='1736.0' rx='15.3' ry='18.0' fill='none' stroke='#1e4a3a' stroke-width='3' filter='url(#b8)' opacity='0.1925'/>
<ellipse cx='524.0' cy='1736.0' rx='25.5' ry='30.0' fill='none' stroke='#1e4a3a' stroke-width='3' filter='url(#b8)' opacity='0.1925'/>
<ellipse cx='558.0' cy='1851.0' rx='4.5' ry='4.5' fill='#1e4a3a' filter='url(#b8)' opacity='0.55'/>
<ellipse cx='558.0' cy='1851.0' rx='16.7' ry='15.8' fill='none' stroke='#1e4a3a' stroke-width='3' filter='url(#b8)' opacity='0.1925'/>
<ellipse cx='558.0' cy='1851.0' rx='27.8' ry='26.2' fill='none' stroke='#1e4a3a' stroke-width='3' filter='url(#b8)' opacity='0.1925'/>
<ellipse cx='428.0' cy='1874.0' rx='4.5' ry='4.5' fill='#1e4a3a' filter='url(#b8)' opacity='0.55'/>
<ellipse cx='428.0' cy='1874.0' rx='18.0' ry='16.2' fill='none' stroke='#1e4a3a' stroke-width='3' filter='url(#b8)' opacity='0.1925'/>
<ellipse cx='428.0' cy='1874.0' rx='30.0' ry='27.0' fill='none' stroke='#1e4a3a' stroke-width='3' filter='url(#b8)' opacity='0.1925'/>
<ellipse cx='488.0' cy='1905.0' rx='4.5' ry='4.5' fill='#1e4a3a' filter='url(#b8)' opacity='0.55'/>
<ellipse cx='488.0' cy='1905.0' rx='21.2' ry='18.4' fill='none' stroke='#1e4a3a' stroke-width='3' filter='url(#b8)' opacity='0.1925'/>
<ellipse cx='488.0' cy='1905.0' rx='35.2' ry='30.8' fill='none' stroke='#1e4a3a' stroke-width='3' filter='url(#b8)' opacity='0.1925'/>
<ellipse cx='581.0' cy='1917.0' rx='4.5' ry='4.5' fill='#1e4a3a' filter='url(#b8)' opacity='0.55'/>
<ellipse cx='581.0' cy='1917.0' rx='20.7' ry='20.2' fill='none' stroke='#1e4a3a' stroke-width='3' filter='url(#b8)' opacity='0.1925'/>
<ellipse cx='581.0' cy='1917.0' rx='34.5' ry='33.8' fill='none' stroke='#1e4a3a' stroke-width='3' filter='url(#b8)' opacity='0.1925'/>
<ellipse cx='421.0' cy='1952.0' rx='4.5' ry='4.5' fill='#1e4a3a' filter='url(#b8)' opacity='0.55'/>
<ellipse cx='421.0' cy='1952.0' rx='25.2' ry='20.2' fill='none' stroke='#1e4a3a' stroke-width='3' filter='url(#b8)' opacity='0.1925'/>
<ellipse cx='421.0' cy='1952.0' rx='42.0' ry='33.8' fill='none' stroke='#1e4a3a' stroke-width='3' filter='url(#b8)' opacity='0.1925'/>
<g opacity='0.45'>
<path d='M412,1820 C410,1805 420,1800 440,1800 C460,1798 470,1795 480,1788 C500,1780 525,1780 538,1790 C545,1805 542,1830 530,1840 C515,1848 505,1850 500,1852 C498,1858 495,1862 480,1862 C465,1860 460,1850 450,1842 C435,1838 415,1838 412,1820 Z' fill='#c8207a'/>
<ellipse cx='563.0' cy='1788.0' rx='28.0' ry='33.0' fill='#c8207a'/>
<ellipse cx='614.0' cy='1809.0' rx='26.0' ry='29.0' fill='#c8207a'/>
<ellipse cx='616.0' cy='1863.0' rx='25.0' ry='26.0' fill='#c8207a'/>
</g>
<ellipse cx='563.0' cy='1788.0' rx='4.5' ry='4.5' fill='#5a0a3a' filter='url(#b8)' opacity='0.5'/>
<ellipse cx='563.0' cy='1788.0' rx='12.6' ry='14.8' fill='none' stroke='#5a0a3a' stroke-width='3' filter='url(#b8)' opacity='0.175'/>
<ellipse cx='563.0' cy='1788.0' rx='21.0' ry='24.8' fill='none' stroke='#5a0a3a' stroke-width='3' filter='url(#b8)' opacity='0.175'/>
<ellipse cx='614.0' cy='1809.0' rx='4.5' ry='4.5' fill='#5a0a3a' filter='url(#b8)' opacity='0.5'/>
<ellipse cx='614.0' cy='1809.0' rx='11.7' ry='13.1' fill='none' stroke='#5a0a3a' stroke-width='3' filter='url(#b8)' opacity='0.175'/>
<ellipse cx='614.0' cy='1809.0' rx='19.5' ry='21.8' fill='none' stroke='#5a0a3a' stroke-width='3' filter='url(#b8)' opacity='0.175'/>
<ellipse cx='616.0' cy='1863.0' rx='4.5' ry='4.5' fill='#5a0a3a' filter='url(#b8)' opacity='0.5'/>
<ellipse cx='616.0' cy='1863.0' rx='11.2' ry='11.7' fill='none' stroke='#5a0a3a' stroke-width='3' filter='url(#b8)' opacity='0.175'/>
<ellipse cx='616.0' cy='1863.0' rx='18.8' ry='19.5' fill='none' stroke='#5a0a3a' stroke-width='3' filter='url(#b8)' opacity='0.175'/>
</g>
<rect x='334.80' y='1678.70' width='326.60' height='338.70' fill='none' stroke='#231f20' stroke-width='2.6'/>
<rect x='563.10' y='1680.00' width='97.00' height='34.00' fill='#3a3a3a' stroke='none' stroke-width='0' opacity='0.95'/>
<text x='651.10' y='1705.10' font-size='25.5' text-anchor='end' fill='#ffffff'><tspan font-style='italic'>t</tspan>=350s</text>
<rect x='589.70' y='2006.20' width='66.00' height='6.90' fill='#ffffff' stroke='none' stroke-width='0'/>
<rect x='2.60' y='1333.60' width='66.50' height='66.00' fill='#2a2a2a' stroke='none' stroke-width='0' opacity='0.95'/>
<text x='35.50' y='1377.50' font-size='42' text-anchor='middle' font-weight='normal' font-style='normal' fill='#ffffff'>c</text>
<text x='322.70' y='1654.30' font-size='29.5' text-anchor='end' font-weight='bold' font-style='normal' fill='#ffffff'>100 nm</text>
<g clip-path='url(#clp8)'>
<rect x='1584.60' y='1329.20' width='339.70' height='301.00' fill='#8c8c8c' stroke='none' stroke-width='0'/>
<ellipse cx='1903.0' cy='1477.0' rx='17.5' ry='17.5' fill='none' stroke='#565656' stroke-width='6' filter='url(#b6)' opacity='0.6'/>
<ellipse cx='1903.0' cy='1477.0' rx='35.0' ry='35.0' fill='none' stroke='#c6c6c6' stroke-width='7' filter='url(#b8)' opacity='0.75'/>
<ellipse cx='1903.0' cy='1477.0' rx='51.0' ry='51.0' fill='none' stroke='#565656' stroke-width='6' filter='url(#b6)' opacity='0.6'/>
<ellipse cx='1903.0' cy='1477.0' rx='67.0' ry='67.0' fill='none' stroke='#c6c6c6' stroke-width='7' filter='url(#b8)' opacity='0.75'/>
<ellipse cx='1903.0' cy='1477.0' rx='82.5' ry='82.5' fill='none' stroke='#565656' stroke-width='6' filter='url(#b6)' opacity='0.6'/>
<ellipse cx='1903.0' cy='1477.0' rx='98.0' ry='98.0' fill='none' stroke='#c6c6c6' stroke-width='7' filter='url(#b8)' opacity='0.75'/>
<ellipse cx='1903.0' cy='1477.0' rx='108.5' ry='108.5' fill='none' stroke='#565656' stroke-width='6' filter='url(#b6)' opacity='0.6'/>
<ellipse cx='1903.0' cy='1477.0' rx='119.0' ry='119.0' fill='none' stroke='#c6c6c6' stroke-width='7' filter='url(#b8)' opacity='0.75'/>
<ellipse cx='1903.0' cy='1477.0' rx='132.5' ry='132.5' fill='none' stroke='#565656' stroke-width='6' filter='url(#b6)' opacity='0.6'/>
<ellipse cx='1903.0' cy='1477.0' rx='146.0' ry='146.0' fill='none' stroke='#c6c6c6' stroke-width='7' filter='url(#b8)' opacity='0.75'/>
<ellipse cx='1903.0' cy='1477.0' rx='161.0' ry='161.0' fill='none' stroke='#565656' stroke-width='6' filter='url(#b6)' opacity='0.6'/>
<ellipse cx='1903.0' cy='1477.0' rx='176.0' ry='176.0' fill='none' stroke='#c6c6c6' stroke-width='7' filter='url(#b8)' opacity='0.75'/>
<ellipse cx='1903.0' cy='1477.0' rx='190.5' ry='190.5' fill='none' stroke='#565656' stroke-width='6' filter='url(#b6)' opacity='0.6'/>
<ellipse cx='1903.0' cy='1477.0' rx='205.0' ry='205.0' fill='none' stroke='#c6c6c6' stroke-width='7' filter='url(#b8)' opacity='0.75'/>
<ellipse cx='1903.0' cy='1477.0' rx='218.5' ry='218.5' fill='none' stroke='#565656' stroke-width='6' filter='url(#b6)' opacity='0.6'/>
<ellipse cx='1903.0' cy='1477.0' rx='232.0' ry='232.0' fill='none' stroke='#c6c6c6' stroke-width='7' filter='url(#b8)' opacity='0.75'/>
<ellipse cx='1903.0' cy='1477.0' rx='246.0' ry='246.0' fill='none' stroke='#565656' stroke-width='6' filter='url(#b6)' opacity='0.6'/>
<ellipse cx='1903.0' cy='1477.0' rx='260.0' ry='260.0' fill='none' stroke='#c6c6c6' stroke-width='7' filter='url(#b8)' opacity='0.75'/>
<ellipse cx='1903.0' cy='1477.0' rx='274.0' ry='274.0' fill='none' stroke='#565656' stroke-width='6' filter='url(#b6)' opacity='0.6'/>
<ellipse cx='1903.0' cy='1477.0' rx='288.0' ry='288.0' fill='none' stroke='#c6c6c6' stroke-width='7' filter='url(#b8)' opacity='0.75'/>
<ellipse cx='1681.0' cy='1412.0' rx='8.0' ry='8.0' fill='none' stroke='#565656' stroke-width='5' filter='url(#b6)' opacity='0.6'/>
<ellipse cx='1681.0' cy='1412.0' rx='16.0' ry='16.0' fill='none' stroke='#c6c6c6' stroke-width='6' filter='url(#b8)' opacity='0.75'/>
<ellipse cx='1681.0' cy='1412.0' rx='23.5' ry='23.5' fill='none' stroke='#565656' stroke-width='5' filter='url(#b6)' opacity='0.6'/>
<ellipse cx='1681.0' cy='1412.0' rx='31.0' ry='31.0' fill='none' stroke='#c6c6c6' stroke-width='6' filter='url(#b8)' opacity='0.75'/>
<ellipse cx='1681.0' cy='1412.0' rx='38.5' ry='38.5' fill='none' stroke='#565656' stroke-width='5' filter='url(#b6)' opacity='0.6'/>
<ellipse cx='1681.0' cy='1412.0' rx='46.0' ry='46.0' fill='none' stroke='#c6c6c6' stroke-width='6' filter='url(#b8)' opacity='0.75'/>
<ellipse cx='1681.0' cy='1412.0' rx='53.5' ry='53.5' fill='none' stroke='#565656' stroke-width='5' filter='url(#b6)' opacity='0.6'/>
<ellipse cx='1681.0' cy='1412.0' rx='61.0' ry='61.0' fill='none' stroke='#c6c6c6' stroke-width='6' filter='url(#b8)' opacity='0.75'/>
<ellipse cx='1673.0' cy='1537.0' rx='12.0' ry='13.8' fill='none' stroke='#565656' stroke-width='5' filter='url(#b6)' opacity='0.6'/>
<ellipse cx='1673.0' cy='1537.0' rx='24.0' ry='27.6' fill='none' stroke='#c6c6c6' stroke-width='6' filter='url(#b8)' opacity='0.75'/>
<ellipse cx='1673.0' cy='1537.0' rx='31.0' ry='35.6' fill='none' stroke='#565656' stroke-width='5' filter='url(#b6)' opacity='0.6'/>
<ellipse cx='1673.0' cy='1537.0' rx='38.0' ry='43.7' fill='none' stroke='#c6c6c6' stroke-width='6' filter='url(#b8)' opacity='0.75'/>
<ellipse cx='1673.0' cy='1537.0' rx='45.0' ry='51.7' fill='none' stroke='#565656' stroke-width='5' filter='url(#b6)' opacity='0.6'/>
<ellipse cx='1673.0' cy='1537.0' rx='52.0' ry='59.8' fill='none' stroke='#c6c6c6' stroke-width='6' filter='url(#b8)' opacity='0.75'/>
<ellipse cx='1760.0' cy='1345.0' rx='10.0' ry='10.0' fill='none' stroke='#565656' stroke-width='5' filter='url(#b6)' opacity='0.45'/>
<ellipse cx='1760.0' cy='1345.0' rx='20.0' ry='20.0' fill='none' stroke='#c6c6c6' stroke-width='5' filter='url(#b8)' opacity='0.5'/>
<ellipse cx='1760.0' cy='1345.0' rx='28.0' ry='28.0' fill='none' stroke='#565656' stroke-width='5' filter='url(#b6)' opacity='0.45'/>
<ellipse cx='1760.0' cy='1345.0' rx='36.0' ry='36.0' fill='none' stroke='#c6c6c6' stroke-width='5' filter='url(#b8)' opacity='0.5'/>
<ellipse cx='1760.0' cy='1345.0' rx='44.0' ry='44.0' fill='none' stroke='#565656' stroke-width='5' filter='url(#b6)' opacity='0.45'/>
<ellipse cx='1760.0' cy='1345.0' rx='52.0' ry='52.0' fill='none' stroke='#c6c6c6' stroke-width='5' filter='url(#b8)' opacity='0.5'/>
<ellipse cx='1681.0' cy='1412.0' rx='14.0' ry='12.0' fill='#505050' filter='url(#b3)' opacity='0.8'/>
<ellipse cx='1673.0' cy='1537.0' rx='15.0' ry='24.0' fill='#2a2a2a' filter='url(#b13)' opacity='0.9'/>
<ellipse cx='1760.0' cy='1598.0' rx='16.0' ry='20.0' fill='#0e0e0e' filter='url(#b4)'/>
<ellipse cx='1703.0' cy='1617.0' rx='17.0' ry='8.0' fill='#101010' filter='url(#b4)'/>
<ellipse cx='1681.0' cy='1578.0' rx='14.0' ry='7.0' fill='#151515' filter='url(#b4)'/>
<ellipse cx='1628.0' cy='1565.0' rx='12.0' ry='4.0' fill='#202020' filter='url(#b4)' opacity='0.9'/>
<ellipse cx='1678.0' cy='1362.0' rx='9.0' ry='4.0' fill='#303030' filter='url(#b4)' opacity='0.8'/>
<ellipse cx='1752.0' cy='1388.0' rx='12.0' ry='5.0' fill='#404040' filter='url(#b4)' opacity='0.7'/>
<ellipse cx='1712.0' cy='1477.0' rx='9.0' ry='7.0' fill='#303030' filter='url(#b4)' opacity='0.8'/>
<ellipse cx='1765.0' cy='1350.0' rx='10.0' ry='4.0' fill='#404040' filter='url(#b4)' opacity='0.7'/>
<ellipse cx='1808.0' cy='1617.0' rx='15.0' ry='6.0' fill='#202020' filter='url(#b4)' opacity='0.9'/>
<ellipse cx='1736.0' cy='1598.0' rx='6.0' ry='25.0' fill='#f4f4f4' filter='url(#b4)' opacity='0.9'/>
<ellipse cx='1697.0' cy='1588.0' rx='5.0' ry='16.0' fill='#e8e8e8' filter='url(#b4)' opacity='0.8'/>
<rect x='1586.6' y='1331.2' width='335.7' height='297.0' fill='#808080' filter='url(#nz7)' opacity='0.38' style='mix-blend-mode:overlay'/>
</g>
<rect x='1588.10' y='1332.70' width='332.70' height='294.00' fill='none' stroke='#231f20' stroke-width='3'/>
<line x1='1728.50' y1='1541.50' x2='1902.70' y2='1476.60' stroke='#1a9fd1' stroke-width='4.6'/>
<line x1='1728.5' y1='1541.5' x2='1588.6' y2='1651.0' stroke='#1a9fd1' stroke-width='3' stroke-dasharray='7 5'/>
<line x1='1903.8' y1='1485' x2='1920.0' y2='1651.0' stroke='#1a9fd1' stroke-width='3' stroke-dasharray='7 5'/>
<polygon points='1726.6,1519.0 1738.6,1519.0 1732.6,1530.0' fill='#1a9fd1' stroke='#bfe6f5' stroke-width='0.6' transform='rotate(-20.4 1732.6 1524.0)'/>
<polygon points='1755.5,1508.7 1767.5,1508.7 1761.5,1519.7' fill='#1a9fd1' stroke='#bfe6f5' stroke-width='0.6' transform='rotate(-20.4 1761.5 1513.7)'/>
<polygon points='1781.3,1498.4 1793.3,1498.4 1787.3,1509.4' fill='#1a9fd1' stroke='#bfe6f5' stroke-width='0.6' transform='rotate(-20.4 1787.3 1503.4)'/>
<polygon points='1804.0,1490.0 1816.0,1490.0 1810.0,1501.0' fill='#1a9fd1' stroke='#bfe6f5' stroke-width='0.6' transform='rotate(-20.4 1810.0 1495.0)'/>
<polygon points='1832.8,1478.8 1844.8,1478.8 1838.8,1489.8' fill='#1a9fd1' stroke='#bfe6f5' stroke-width='0.6' transform='rotate(-20.4 1838.8 1483.8)'/>
<polygon points='1862.7,1467.5 1874.7,1467.5 1868.7,1478.5' fill='#1a9fd1' stroke='#bfe6f5' stroke-width='0.6' transform='rotate(-20.4 1868.7 1472.5)'/>
<polygon points='1760.5,1538.0 1766.5,1538.0 1763.5,1533.0' fill='#1a9fd1' stroke='#bfe6f5' stroke-width='0.5' transform='rotate(-20.4 1763.5 1535.5)'/>
<polygon points='1767.5,1535.5 1773.5,1535.5 1770.5,1530.5' fill='#1a9fd1' stroke='#bfe6f5' stroke-width='0.5' transform='rotate(-20.4 1770.5 1533.0)'/>
<polygon points='1774.5,1533.0 1780.5,1533.0 1777.5,1528.0' fill='#1a9fd1' stroke='#bfe6f5' stroke-width='0.5' transform='rotate(-20.4 1777.5 1530.5)'/>
<polygon points='1814.0,1516.5 1820.0,1516.5 1817.0,1511.5' fill='#1a9fd1' stroke='#bfe6f5' stroke-width='0.5' transform='rotate(-20.4 1817.0 1514.0)'/>
<polygon points='1822.0,1513.5 1828.0,1513.5 1825.0,1508.5' fill='#1a9fd1' stroke='#bfe6f5' stroke-width='0.5' transform='rotate(-20.4 1825.0 1511.0)'/>
<polygon points='1872.0,1497.5 1878.0,1497.5 1875.0,1492.5' fill='#1a9fd1' stroke='#bfe6f5' stroke-width='0.5' transform='rotate(-20.4 1875.0 1495.0)'/>
<polygon points='1878.0,1495.5 1884.0,1495.5 1881.0,1490.5' fill='#1a9fd1' stroke='#bfe6f5' stroke-width='0.5' transform='rotate(-20.4 1881.0 1493.0)'/>
<rect x='1589.60' y='1588.00' width='86.40' height='37.20' fill='#5a5a5a' stroke='none' stroke-width='0' opacity='0.75'/>
<text x='1594.40' y='1611.70' font-size='25.6' text-anchor='start' font-weight='bold' font-style='normal' fill='#ffffff'>50 nm</text>
<rect x='1592.00' y='1618.90' width='78.00' height='4.20' fill='#ffffff' stroke='none' stroke-width='0'/>
<rect x='1483.80' y='1332.40' width='68.10' height='67.60' fill='#414042' stroke='none' stroke-width='0'/>
<text x='1517.80' y='1380.00' font-size='42' text-anchor='middle' font-weight='normal' font-style='normal' fill='#ffffff'>d</text>
<text x='1574.20' y='1473.30' font-size='32.5' text-anchor='middle' font-weight='normal' font-style='normal' fill='#231f20' transform='rotate(-90 1574.20 1473.30)'>Snf7</text>
<g clip-path='url(#clp9)'>
<rect x='1585.20' y='1903.20' width='339.60' height='301.00' fill='#a2a2a2' stroke='none' stroke-width='0'/>
<ellipse cx='1768.0' cy='2047.0' rx='12.0' ry='12.6' fill='none' stroke='#6a6a6a' stroke-width='7' filter='url(#b6)' opacity='0.55'/>
<ellipse cx='1768.0' cy='2047.0' rx='24.0' ry='25.2' fill='none' stroke='#cfcfcf' stroke-width='8' filter='url(#b8)' opacity='0.6'/>
<ellipse cx='1768.0' cy='2047.0' rx='37.0' ry='38.9' fill='none' stroke='#6a6a6a' stroke-width='7' filter='url(#b6)' opacity='0.55'/>
<ellipse cx='1768.0' cy='2047.0' rx='50.0' ry='52.5' fill='none' stroke='#cfcfcf' stroke-width='8' filter='url(#b8)' opacity='0.6'/>
<ellipse cx='1768.0' cy='2047.0' rx='63.0' ry='66.2' fill='none' stroke='#6a6a6a' stroke-width='7' filter='url(#b6)' opacity='0.55'/>
<ellipse cx='1768.0' cy='2047.0' rx='76.0' ry='79.8' fill='none' stroke='#cfcfcf' stroke-width='8' filter='url(#b8)' opacity='0.6'/>
<ellipse cx='1768.0' cy='2047.0' rx='88.0' ry='92.4' fill='none' stroke='#6a6a6a' stroke-width='7' filter='url(#b6)' opacity='0.55'/>
<ellipse cx='1768.0' cy='2047.0' rx='100.0' ry='105.0' fill='none' stroke='#cfcfcf' stroke-width='8' filter='url(#b8)' opacity='0.6'/>
<ellipse cx='1768.0' cy='2047.0' rx='112.0' ry='117.6' fill='none' stroke='#6a6a6a' stroke-width='7' filter='url(#b6)' opacity='0.55'/>
<ellipse cx='1768.0' cy='2047.0' rx='124.0' ry='130.2' fill='none' stroke='#cfcfcf' stroke-width='8' filter='url(#b8)' opacity='0.6'/>
<ellipse cx='1768.0' cy='2047.0' rx='137.0' ry='143.8' fill='none' stroke='#6a6a6a' stroke-width='7' filter='url(#b6)' opacity='0.55'/>
<ellipse cx='1768.0' cy='2047.0' rx='150.0' ry='157.5' fill='none' stroke='#cfcfcf' stroke-width='8' filter='url(#b8)' opacity='0.6'/>
<ellipse cx='1620.0' cy='1940.0' rx='10.0' ry='10.0' fill='none' stroke='#707070' stroke-width='6' filter='url(#b6)' opacity='0.4'/>
<ellipse cx='1620.0' cy='1940.0' rx='20.0' ry='20.0' fill='none' stroke='#cfcfcf' stroke-width='6' filter='url(#b8)' opacity='0.4'/>
<ellipse cx='1620.0' cy='1940.0' rx='30.0' ry='30.0' fill='none' stroke='#707070' stroke-width='6' filter='url(#b6)' opacity='0.4'/>
<ellipse cx='1620.0' cy='1940.0' rx='40.0' ry='40.0' fill='none' stroke='#cfcfcf' stroke-width='6' filter='url(#b8)' opacity='0.4'/>
<ellipse cx='1768.7' cy='2046.5' rx='10.0' ry='15.0' fill='#0e0e0e' filter='url(#b4)'/>
<ellipse cx='1833.7' cy='1942.3' rx='20.0' ry='8.0' fill='#1e1e1e' filter='url(#b3)' opacity='0.95'/>
<ellipse cx='1813.0' cy='2133.0' rx='13.0' ry='10.0' fill='#1a1a1a' filter='url(#b3)' opacity='0.9'/>
<ellipse cx='1806.8' cy='2166.0' rx='10.0' ry='6.0' fill='#1a1a1a' filter='url(#b3)' opacity='0.9'/>
<ellipse cx='1600.0' cy='2085.0' rx='12.0' ry='20.0' fill='#6a6a6a' filter='url(#b12)' opacity='0.7'/>
<ellipse cx='1905.0' cy='2060.0' rx='18.0' ry='60.0' fill='#d0d0d0' filter='url(#b17)' opacity='0.7'/>
<ellipse cx='1640.0' cy='2000.0' rx='30.0' ry='30.0' fill='#8a8a8a' filter='url(#b17)' opacity='0.6'/>
<ellipse cx='1700.0' cy='1960.0' rx='40.0' ry='10.0' fill='#8a8a8a' filter='url(#b12)' opacity='0.5'/>
<ellipse cx='1880.0' cy='2150.0' rx='40.0' ry='30.0' fill='#c8c8c8' filter='url(#b14)' opacity='0.5'/>
<ellipse cx='1650.0' cy='2150.0' rx='30.0' ry='25.0' fill='#b8b8b8' filter='url(#b14)' opacity='0.5'/>
<rect x='1587.2' y='1905.2' width='335.6' height='297.0' fill='#808080' filter='url(#nz8)' opacity='0.5' style='mix-blend-mode:overlay'/>
</g>
<rect x='1588.70' y='1906.70' width='332.60' height='294.00' fill='none' stroke='#231f20' stroke-width='3'/>
<line x1='1651.00' y1='2010.40' x2='1766.60' y2='2047.50' stroke='#df1b7f' stroke-width='4.6'/>
<line x1='1652.2' y1='2019.7' x2='1688.3' y2='2222' stroke='#df1b7f' stroke-width='3' stroke-dasharray='7 5'/>
<line x1='1766.6' y1='2047.5' x2='1920.5' y2='2223' stroke='#df1b7f' stroke-width='3' stroke-dasharray='7 5'/>
<polygon points='1655.9,1999.2 1664.9,1999.2 1660.4,2007.7' fill='#df1b7f' transform='rotate(17.8 1660.4 2003.2)'/>
<polygon points='1668.3,2002.3 1677.3,2002.3 1672.8,2010.8' fill='#df1b7f' transform='rotate(17.8 1672.8 2006.3)'/>
<polygon points='1679.6,2006.4 1688.6,2006.4 1684.1,2014.9' fill='#df1b7f' transform='rotate(17.8 1684.1 2010.4)'/>
<polygon points='1699.2,2011.6 1708.2,2011.6 1703.7,2020.1' fill='#df1b7f' transform='rotate(17.8 1703.7 2015.6)'/>
<polygon points='1706.5,2014.6 1715.5,2014.6 1711.0,2023.1' fill='#df1b7f' transform='rotate(17.8 1711.0 2018.6)'/>
<polygon points='1717.8,2018.8 1726.8,2018.8 1722.3,2027.3' fill='#df1b7f' transform='rotate(17.8 1722.3 2022.8)'/>
<polygon points='1730.2,2022.9 1739.2,2022.9 1734.7,2031.4' fill='#df1b7f' transform='rotate(17.8 1734.7 2026.9)'/>
<polygon points='1738.4,2026.0 1747.4,2026.0 1742.9,2034.5' fill='#df1b7f' transform='rotate(17.8 1742.9 2030.0)'/>
<polygon points='1750.8,2029.1 1759.8,2029.1 1755.3,2037.6' fill='#df1b7f' transform='rotate(17.8 1755.3 2033.1)'/>
<rect x='1590.20' y='2162.00' width='88.00' height='37.20' fill='#4a4a4a' stroke='none' stroke-width='0' opacity='0.75'/>
<text x='1596.00' y='2184.70' font-size='25.6' text-anchor='start' font-weight='bold' font-style='normal' fill='#ffffff'>50 nm</text>
<rect x='1593.70' y='2193.00' width='78.00' height='4.20' fill='#ffffff' stroke='none' stroke-width='0'/>
<text x='1531.20' y='2054.00' font-size='32.5' text-anchor='middle' font-weight='normal' font-style='normal' fill='#231f20' transform='rotate(-90 1531.20 2054.00)'>Snf7/Vps2/Vps24</text>
<text x='1571.50' y='2051.80' font-size='32.5' text-anchor='middle' font-weight='normal' font-style='normal' fill='#231f20' transform='rotate(-90 1571.50 2051.80)'>(2 : 1 : 1 molar ratio)</text>
<g clip-path='url(#clp10)'>
<rect x='-1.00' y='2127.60' width='253.90' height='301.20' fill='#a2a2a2' stroke='none' stroke-width='0'/>
<ellipse cx='100.0' cy='2272.0' rx='60.0' ry='80.0' fill='none' stroke='#d8d8d8' stroke-width='7' filter='url(#b6)' opacity='0.5'/>
<ellipse cx='100.0' cy='2272.0' rx='100.0' ry='110.0' fill='none' stroke='#6a6a6a' stroke-width='7' filter='url(#b6)' opacity='0.4'/>
<ellipse cx='100.0' cy='2272.0' rx='125.0' ry='130.0' fill='none' stroke='#d0d0d0' stroke-width='7' filter='url(#b6)' opacity='0.4'/>
<ellipse cx='170.0' cy='2180.0' rx='12.0' ry='8.0' fill='#2a2a2a' filter='url(#b3)' opacity='0.8'/>
<ellipse cx='20.0' cy='2330.0' rx='10.0' ry='14.0' fill='#3a3a3a' filter='url(#b3)' opacity='0.8'/>
<ellipse cx='140.0' cy='2395.0' rx='12.0' ry='10.0' fill='#2a2a2a' filter='url(#b3)' opacity='0.8'/>
<ellipse cx='215.0' cy='2400.0' rx='15.0' ry='10.0' fill='#3a3a3a' filter='url(#b3)' opacity='0.8'/>
<ellipse cx='235.0' cy='2260.0' rx='10.0' ry='15.0' fill='#4a4a4a' filter='url(#b3)' opacity='0.6'/>
<ellipse cx='25.0' cy='2220.0' rx='15.0' ry='20.0' fill='#5a5a5a' filter='url(#b12)' opacity='0.6'/>
<ellipse cx='200.0' cy='2230.0' rx='30.0' ry='20.0' fill='#d4d4d4' filter='url(#b17)' opacity='0.6'/>
<ellipse cx='160.0' cy='2360.0' rx='40.0' ry='20.0' fill='#cfcfcf' filter='url(#b17)' opacity='0.5'/>
<rect x='1.0' y='2129.6' width='249.9' height='297.2' fill='#808080' filter='url(#nz9)' opacity='0.55' style='mix-blend-mode:overlay'/>
</g>
<rect x='2.50' y='2131.10' width='246.90' height='294.20' fill='none' stroke='#231f20' stroke-width='3'/>
<rect x='150.90' y='2132.90' width='97.00' height='33.40' fill='#3a3a3a' stroke='none' stroke-width='0' opacity='0.95'/>
<text x='238.90' y='2157.50' font-size='25' text-anchor='end' fill='#ffffff'><tspan font-style='italic'>t</tspan>=41s</text>
<g clip-path='url(#clp11)'>
<rect x='252.70' y='2127.60' width='254.20' height='301.20' fill='#a2a2a2' stroke='none' stroke-width='0'/>
<ellipse cx='348.7' cy='2281.3' rx='24.0' ry='28.0' fill='none' stroke='#6a6a6a' stroke-width='8' filter='url(#b6)' opacity='0.7'/>
<ellipse cx='348.7' cy='2281.3' rx='38.0' ry='44.0' fill='none' stroke='#dedede' stroke-width='8' filter='url(#b6)' opacity='0.75'/>
<ellipse cx='348.7' cy='2281.3' rx='55.0' ry='60.0' fill='none' stroke='#6a6a6a' stroke-width='7' filter='url(#b6)' opacity='0.6'/>
<ellipse cx='348.7' cy='2281.3' rx='72.0' ry='78.0' fill='none' stroke='#d8d8d8' stroke-width='7' filter='url(#b6)' opacity='0.65'/>
<ellipse cx='348.7' cy='2281.3' rx='90.0' ry='96.0' fill='none' stroke='#6e6e6e' stroke-width='7' filter='url(#b6)' opacity='0.55'/>
<ellipse cx='348.7' cy='2281.3' rx='108.0' ry='114.0' fill='none' stroke='#d4d4d4' stroke-width='7' filter='url(#b6)' opacity='0.55'/>
<ellipse cx='348.7' cy='2281.3' rx='126.0' ry='130.0' fill='none' stroke='#707070' stroke-width='6' filter='url(#b6)' opacity='0.45'/>
<ellipse cx='350.0' cy='2282.0' rx='14.0' ry='14.0' fill='#1a1a1a' filter='url(#b3)'/>
<ellipse cx='345.0' cy='2265.0' rx='16.0' ry='20.0' fill='#4a4a4a' filter='url(#b12)' opacity='0.7'/>
<ellipse cx='300.0' cy='2145.0' rx='20.0' ry='8.0' fill='#4a4a4a' filter='url(#b13)' opacity='0.6'/>
<ellipse cx='485.0' cy='2410.0' rx='18.0' ry='10.0' fill='#3a3a3a' filter='url(#b13)' opacity='0.7'/>
<ellipse cx='270.0' cy='2340.0' rx='10.0' ry='10.0' fill='#4a4a4a' filter='url(#b3)' opacity='0.6'/>
<ellipse cx='470.0' cy='2250.0' rx='10.0' ry='20.0' fill='#5a5a5a' filter='url(#b12)' opacity='0.5'/>
<ellipse cx='290.0' cy='2400.0' rx='30.0' ry='14.0' fill='#d8d8d8' filter='url(#b17)' opacity='0.6'/>
<rect x='254.7' y='2129.6' width='250.2' height='297.2' fill='#808080' filter='url(#nz10)' opacity='0.55' style='mix-blend-mode:overlay'/>
</g>
<rect x='256.20' y='2131.10' width='247.20' height='294.20' fill='none' stroke='#231f20' stroke-width='3'/>
<rect x='404.90' y='2132.90' width='97.00' height='33.40' fill='#3a3a3a' stroke='none' stroke-width='0' opacity='0.95'/>
<text x='492.90' y='2157.50' font-size='25' text-anchor='end' fill='#ffffff'><tspan font-style='italic'>t</tspan>=63s</text>
<g clip-path='url(#clp12)'>
<rect x='506.00' y='2127.60' width='254.60' height='301.20' fill='#a2a2a2' stroke='none' stroke-width='0'/>
<ellipse cx='604.0' cy='2287.0' rx='22.0' ry='26.0' fill='none' stroke='#4a4a4a' stroke-width='10' filter='url(#b6)' opacity='0.7'/>
<ellipse cx='604.0' cy='2287.0' rx='38.0' ry='44.0' fill='none' stroke='#f0f0f0' stroke-width='9' filter='url(#b6)' opacity='0.85'/>
<ellipse cx='604.0' cy='2287.0' rx='56.0' ry='62.0' fill='none' stroke='#5a5a5a' stroke-width='7' filter='url(#b6)' opacity='0.6'/>
<ellipse cx='604.0' cy='2287.0' rx='72.0' ry='80.0' fill='none' stroke='#dedede' stroke-width='7' filter='url(#b6)' opacity='0.65'/>
<ellipse cx='604.0' cy='2287.0' rx='90.0' ry='98.0' fill='none' stroke='#666666' stroke-width='7' filter='url(#b6)' opacity='0.55'/>
<ellipse cx='604.0' cy='2287.0' rx='108.0' ry='116.0' fill='none' stroke='#d8d8d8' stroke-width='6' filter='url(#b6)' opacity='0.5'/>
<ellipse cx='598.0' cy='2285.0' rx='16.0' ry='13.0' fill='#0e0e0e' filter='url(#b3)'/>
<ellipse cx='676.0' cy='2194.0' rx='16.0' ry='7.0' fill='#1e1e1e' filter='url(#b3)' opacity='0.9'/>
<ellipse cx='526.0' cy='2332.0' rx='10.0' ry='12.0' fill='#2a2a2a' filter='url(#b3)' opacity='0.85'/>
<ellipse cx='730.0' cy='2402.0' rx='12.0' ry='8.0' fill='#2a2a2a' filter='url(#b3)' opacity='0.85'/>
<ellipse cx='709.0' cy='2317.0' rx='8.0' ry='10.0' fill='#3a3a3a' filter='url(#b3)' opacity='0.7'/>
<ellipse cx='700.0' cy='2390.0' rx='40.0' ry='30.0' fill='#707070' filter='url(#b17)' opacity='0.5'/>
<ellipse cx='628.0' cy='2300.0' rx='8.0' ry='25.0' fill='#f8f8f8' filter='url(#b3)' opacity='0.85'/>
<ellipse cx='615.0' cy='2328.0' rx='18.0' ry='8.0' fill='#f4f4f4' filter='url(#b3)' opacity='0.8'/>
<ellipse cx='740.0' cy='2370.0' rx='12.0' ry='30.0' fill='#e0e0e0' filter='url(#b12)' opacity='0.6'/>
<rect x='508.0' y='2129.6' width='250.6' height='297.2' fill='#808080' filter='url(#nz11)' opacity='0.55' style='mix-blend-mode:overlay'/>
</g>
<rect x='509.50' y='2131.10' width='247.60' height='294.20' fill='none' stroke='#231f20' stroke-width='3'/>
<rect x='658.60' y='2132.90' width='97.00' height='33.40' fill='#3a3a3a' stroke='none' stroke-width='0' opacity='0.95'/>
<text x='746.60' y='2157.50' font-size='25' text-anchor='end' fill='#ffffff'><tspan font-style='italic'>t</tspan>=102s</text>
<g clip-path='url(#clp13)'>
<rect x='760.10' y='2127.60' width='254.70' height='301.20' fill='#a2a2a2' stroke='none' stroke-width='0'/>
<ellipse cx='874.0' cy='2262.0' rx='20.0' ry='24.0' fill='none' stroke='#5a5a5a' stroke-width='8' filter='url(#b6)' opacity='0.6'/>
<ellipse cx='874.0' cy='2262.0' rx='36.0' ry='42.0' fill='none' stroke='#e4e4e4' stroke-width='8' filter='url(#b6)' opacity='0.7'/>
<ellipse cx='874.0' cy='2262.0' rx='54.0' ry='60.0' fill='none' stroke='#626262' stroke-width='7' filter='url(#b6)' opacity='0.55'/>
<ellipse cx='874.0' cy='2262.0' rx='72.0' ry='78.0' fill='none' stroke='#d8d8d8' stroke-width='7' filter='url(#b6)' opacity='0.6'/>
<ellipse cx='874.0' cy='2262.0' rx='90.0' ry='96.0' fill='none' stroke='#6a6a6a' stroke-width='6' filter='url(#b6)' opacity='0.45'/>
<ellipse cx='874.0' cy='2257.0' rx='12.0' ry='12.0' fill='#0e0e0e' filter='url(#b3)'/>
<ellipse cx='803.0' cy='2338.0' rx='10.0' ry='12.0' fill='#1a1a1a' filter='url(#b3)' opacity='0.95'/>
<ellipse cx='944.0' cy='2185.0' rx='12.0' ry='8.0' fill='#2a2a2a' filter='url(#b3)' opacity='0.8'/>
<ellipse cx='992.0' cy='2407.0' rx='12.0' ry='6.0' fill='#1e1e1e' filter='url(#b3)' opacity='0.9'/>
<ellipse cx='880.0' cy='2300.0' rx='25.0' ry='8.0' fill='#5a5a5a' filter='url(#b13)' opacity='0.5'/>
<ellipse cx='900.0' cy='2408.0' rx='40.0' ry='18.0' fill='#6a6a6a' filter='url(#b17)' opacity='0.5'/>
<ellipse cx='975.0' cy='2400.0' rx='25.0' ry='25.0' fill='#e0e0e0' filter='url(#b17)' opacity='0.6'/>
<rect x='762.1' y='2129.6' width='250.7' height='297.2' fill='#808080' filter='url(#nz12)' opacity='0.55' style='mix-blend-mode:overlay'/>
</g>
<rect x='763.60' y='2131.10' width='247.70' height='294.20' fill='none' stroke='#231f20' stroke-width='3'/>
<rect x='912.80' y='2132.90' width='97.00' height='33.40' fill='#3a3a3a' stroke='none' stroke-width='0' opacity='0.95'/>
<text x='1000.80' y='2157.50' font-size='25' text-anchor='end' fill='#ffffff'><tspan font-style='italic'>t</tspan>=211s</text>
<g opacity='0.7'>
<path d='M105.2,2350.3 L100.3,2351.5 L95.3,2352.0 L90.3,2351.8 L85.4,2351.0 L80.5,2349.5 L75.7,2347.3 L71.1,2344.4 L66.7,2341.0 L62.5,2337.0 L58.6,2332.4 L55.0,2327.3 L51.7,2321.7 L48.8,2315.7 L46.2,2309.3 L44.1,2302.6 L42.4,2295.7 L41.2,2288.5 L40.4,2281.2 L40.0,2273.8 L40.1,2266.4 L40.7,2259.1 L41.7,2251.8 L43.2,2244.8 L45.1,2237.9 L47.5,2231.4 L50.2,2225.2 L53.3,2219.4 L56.8,2214.1 L60.5,2209.2 L64.6,2204.9 L68.9,2201.2 L73.4,2198.0 L78.1,2195.5 L83.0,2193.7 L87.9,2192.5 L92.9,2192.0 L97.9,2192.2 L102.8,2193.1 L107.7,2194.6 L112.5,2196.8' fill='none' stroke='#f4eaa0' stroke-width='21' stroke-linecap='round' opacity='1.0'/>
<path d='M109.4,2226.7 L111.6,2227.3 L113.8,2228.1 L116.0,2229.0 L118.0,2230.1 L120.1,2231.4 L122.1,2232.9 L124.0,2234.4 L125.8,2236.2 L127.5,2238.1 L129.2,2240.1 L130.7,2242.2 L132.2,2244.4 L133.5,2246.8 L134.7,2249.3 L135.8,2251.8 L136.8,2254.5 L137.7,2257.2 L138.4,2260.0 L139.0,2262.8 L139.4,2265.7 L139.8,2268.6 L139.9,2271.5 L140.0,2274.4 L139.9,2277.3 L139.7,2280.3 L139.3,2283.2 L138.8,2286.0 L138.2,2288.8 L137.4,2291.6 L136.5,2294.3 L135.5,2296.9 L134.4,2299.4 L133.1,2301.9 L131.8,2304.2 L130.3,2306.4 L128.7,2308.5 L127.0,2310.5 L125.3,2312.3 L123.4,2314.0 L121.5,2315.6' fill='none' stroke='#f4eaa0' stroke-width='16' stroke-linecap='round' opacity='1.0'/>
<path d='M99.8,2321.8 L97.2,2321.4 L94.7,2320.8 L92.2,2319.9 L89.7,2318.8 L87.4,2317.5 L85.1,2316.0 L82.8,2314.3 L80.7,2312.3 L78.7,2310.2 L76.8,2307.9 L75.1,2305.5 L73.5,2302.9 L72.0,2300.1 L70.6,2297.3 L69.5,2294.3 L68.5,2291.2 L67.6,2288.0 L66.9,2284.8 L66.5,2281.5 L66.1,2278.2 L66.0,2274.8 L66.1,2271.5 L66.3,2268.2 L66.7,2264.8 L67.3,2261.6 L68.0,2258.4 L68.9,2255.2 L70.0,2252.2 L71.3,2249.3 L72.7,2246.5 L74.2,2243.8 L75.9,2241.3 L77.8,2238.9 L79.7,2236.7 L81.8,2234.7 L83.9,2232.9 L86.2,2231.2 L88.5,2229.8 L91.0,2228.6 L93.4,2227.6' fill='none' stroke='#f4eaa0' stroke-width='16' stroke-linecap='round' opacity='1.0'/>
<path d='M170.1,2234.5 L171.6,2237.7 L173.0,2241.0 L174.2,2244.3 L175.3,2247.7 L176.2,2251.1 L177.1,2254.6 L177.7,2258.1 L178.3,2261.6 L178.7,2265.1 L178.9,2268.7 L179.0,2272.3 L179.0,2275.9 L178.8,2279.4 L178.4,2283.0 L178.0,2286.5 L177.3,2290.0 L176.6,2293.5 L175.7,2297.0 L174.6,2300.4 L173.5,2303.7 L172.2,2307.0 L170.7,2310.2 L169.1,2313.4 L167.5,2316.5 L165.6,2319.4 L163.7,2322.3 L161.6,2325.2 L159.5,2327.9 L157.2,2330.5 L154.8,2333.0 L152.4,2335.4 L149.8,2337.6 L147.1,2339.8 L144.4,2341.8 L141.6,2343.7 L138.7,2345.4 L135.7,2347.0 L132.7,2348.5 L129.6,2349.8 L126.5,2351.0' fill='none' stroke='#f4eaa0' stroke-width='18' stroke-linecap='round' opacity='1.0'/>
</g>
<g opacity='0.6'>
<path d='M86.3,2269.5 L86.9,2266.0 L87.8,2262.6 L89.1,2259.5 L90.6,2256.6 L92.4,2254.1 L94.5,2252.0 L96.7,2250.2 L99.0,2249.0 L101.5,2248.3 L104.0,2248.0 L106.5,2248.3 L109.0,2249.0 L111.3,2250.2 L113.5,2252.0 L115.6,2254.1 L117.4,2256.6 L118.9,2259.5 L120.2,2262.6 L121.1,2266.0 L121.7,2269.5 L122.0,2273.1 L121.9,2276.7 L121.5,2280.3 L120.7,2283.7 L119.6,2287.0 L118.2,2290.0 L116.5,2292.7 L114.6,2295.0 L112.5,2297.0 L110.2,2298.4 L107.7,2299.4 L105.3,2299.9 L102.7,2299.9 L100.3,2299.4 L97.8,2298.4 L95.5,2297.0 L93.4,2295.0 L91.5,2292.7 L89.8,2290.0 L88.4,2287.0' fill='none' stroke='#7fcbe6' stroke-width='14' stroke-linecap='round' opacity='1.0'/>
<path d='M113.1,2207.0 L118.5,2208.5 L123.8,2210.5 L128.9,2213.1 L133.7,2216.3 L138.3,2220.1 L142.6,2224.3 L146.4,2228.9 L149.9,2234.0 L153.0,2239.5 L155.6,2245.3 L157.7,2251.3 L159.3,2257.5 L160.4,2263.9 L160.9,2270.4 L160.9,2277.0 L160.4,2283.5 L159.4,2289.9 L157.8,2296.1 L155.8,2302.2 L153.2,2308.0 L150.2,2313.5 L146.8,2318.6 L142.9,2323.3 L138.7,2327.6 L134.2,2331.4 L129.3,2334.6 L124.3,2337.3 L119.0,2339.4 L113.6,2340.9 L108.1,2341.7 L102.5,2342.0 L96.9,2341.6 L91.4,2340.6 L86.0,2339.0 L80.8,2336.8 L75.8,2334.0 L71.0,2330.7 L66.5,2326.8 L62.3,2322.5 L58.6,2317.7' fill='none' stroke='#7fcbe6' stroke-width='13' stroke-linecap='round' opacity='1.0'/>
<path d='M73.5,2219.3 L74.3,2218.7 L75.0,2218.1 L75.8,2217.6 L76.6,2217.0 L77.4,2216.5 L78.2,2216.0 L79.1,2215.6 L79.9,2215.1 L80.7,2214.7 L81.5,2214.3 L82.4,2213.9 L83.2,2213.6 L84.1,2213.2 L84.9,2212.9 L85.8,2212.6 L86.6,2212.4 L87.5,2212.1 L88.4,2211.9 L89.3,2211.7 L90.1,2211.5 L91.0,2211.4 L91.9,2211.3 L92.8,2211.2 L93.6,2211.1 L94.5,2211.0 L95.4,2211.0 L96.3,2211.0 L97.2,2211.0 L98.1,2211.1 L98.9,2211.1 L99.8,2211.2 L100.7,2211.3 L101.6,2211.5 L102.5,2211.6 L103.3,2211.8 L104.2,2212.0 L105.1,2212.3 L105.9,2212.5 L106.8,2212.8 L107.6,2213.1' fill='none' stroke='#7fcbe6' stroke-width='6' stroke-linecap='round' opacity='1.0'/>
<path d='M192.4,2244.6 L193.2,2247.0 L193.9,2249.4 L194.5,2251.9 L195.0,2254.3 L195.5,2256.8 L196.0,2259.3 L196.3,2261.8 L196.6,2264.3 L196.8,2266.9 L196.9,2269.4 L197.0,2271.9 L197.0,2274.4 L196.9,2277.0 L196.8,2279.5 L196.5,2282.0 L196.3,2284.5 L195.9,2287.0 L195.5,2289.5 L195.0,2292.0 L194.4,2294.5 L193.8,2296.9 L193.1,2299.4 L192.3,2301.8 L191.4,2304.2 L190.5,2306.5 L189.6,2308.9 L188.5,2311.2 L187.4,2313.5 L186.2,2315.7 L185.0,2318.0 L183.7,2320.1 L182.4,2322.3 L181.0,2324.4 L179.5,2326.5 L177.9,2328.5 L176.4,2330.5 L174.7,2332.5 L173.0,2334.4 L171.3,2336.2 L169.5,2338.1' fill='none' stroke='#7fcbe6' stroke-width='10' stroke-linecap='round' opacity='1.0'/>
<path d='M130.0,2350.9 L129.4,2351.2 L128.8,2351.4 L128.2,2351.7 L127.6,2351.9 L127.0,2352.2 L126.4,2352.4 L125.8,2352.7 L125.2,2352.9 L124.7,2353.1 L124.1,2353.3 L123.4,2353.5 L122.8,2353.7 L122.2,2353.9 L121.6,2354.1 L121.0,2354.3 L120.4,2354.5 L119.8,2354.7 L119.2,2354.8 L118.6,2355.0 L118.0,2355.2 L117.4,2355.3 L116.7,2355.5 L116.1,2355.6 L115.5,2355.7 L114.9,2355.8 L114.3,2356.0 L113.6,2356.1 L113.0,2356.2 L112.4,2356.3 L111.8,2356.4 L111.2,2356.5 L110.5,2356.5 L109.9,2356.6 L109.3,2356.7 L108.6,2356.7 L108.0,2356.8 L107.4,2356.8 L106.8,2356.9 L106.1,2356.9 L105.5,2356.9' fill='none' stroke='#7fcbe6' stroke-width='11' stroke-linecap='round' opacity='1.0'/>
</g>
<line x1='101.7' y1='2281.2' x2='212.1' y2='2309.2' stroke='#3f6fc4' stroke-width='6.2' stroke-dasharray='9 3.2'/>
<rect x='4.00' y='2133.00' width='67.60' height='65.60' fill='#2a2a2a' stroke='none' stroke-width='0' opacity='0.95'/>
<text x='37.80' y='2175.20' font-size='41' text-anchor='middle' font-weight='normal' font-style='normal' fill='#ffffff'>e</text>
<rect x='4.00' y='2386.50' width='87.70' height='36.30' fill='#4a4a4a' stroke='none' stroke-width='0' opacity='0.8'/>
<text x='9.00' y='2409.00' font-size='25.6' text-anchor='start' font-weight='bold' font-style='normal' fill='#ffffff'>50 nm</text>
<rect x='6.00' y='2416.60' width='84.00' height='4.40' fill='#ffffff' stroke='none' stroke-width='0'/>
</svg>
</body></html>
